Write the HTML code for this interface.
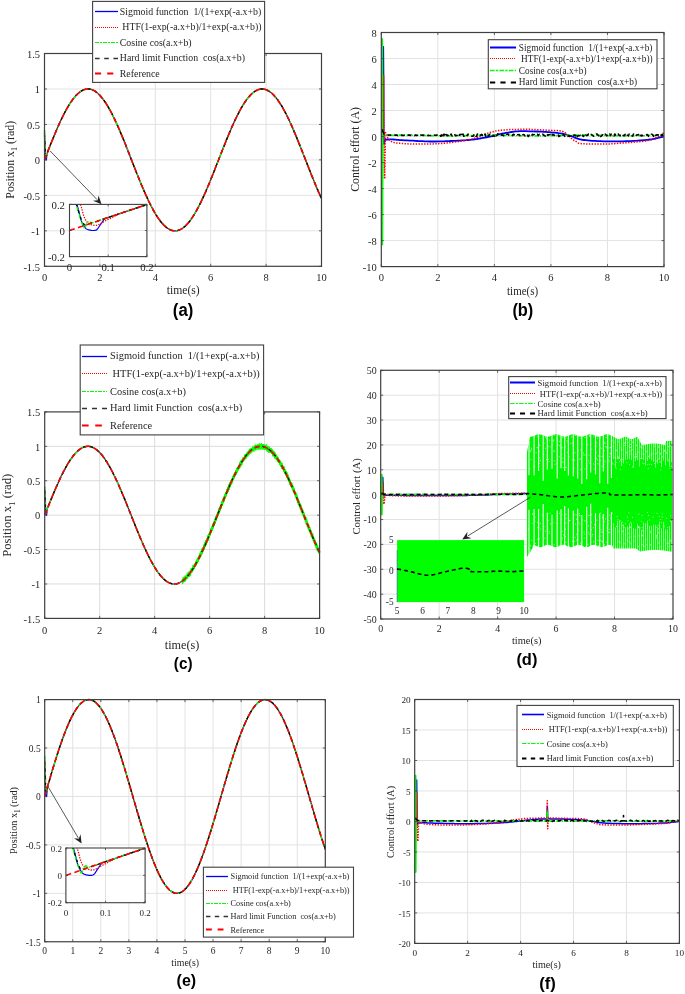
<!DOCTYPE html><html><head><meta charset="utf-8"><style>html,body{margin:0;padding:0;background:#fff;overflow:hidden}svg{display:block;will-change:transform;filter:blur(0.3px)}</style></head><body><svg width="685" height="994" viewBox="0 0 685 994" xml:space="preserve" style="white-space:pre">
<rect width="685" height="994" fill="#fff"/>
<defs><clipPath id="ca"><rect x="41.50" y="50.50" width="283.00" height="218.80"/></clipPath><clipPath id="cai"><rect x="69.50" y="204.40" width="77.40" height="52.20"/></clipPath><clipPath id="cb"><rect x="378.30" y="29.50" width="288.70" height="240.10"/></clipPath><clipPath id="cc"><rect x="41.70" y="408.90" width="280.90" height="212.50"/></clipPath><clipPath id="cd"><rect x="377.70" y="367.30" width="298.30" height="254.70"/></clipPath><clipPath id="cdi"><rect x="397.10" y="540.10" width="127.00" height="62.00"/></clipPath><clipPath id="ce"><rect x="41.70" y="696.60" width="286.60" height="248.15"/></clipPath><clipPath id="cei"><rect x="65.90" y="848.00" width="79.20" height="54.70"/></clipPath><clipPath id="cf"><rect x="411.70" y="696.50" width="270.70" height="249.90"/></clipPath></defs>
<path d="M99.90 53.50V266.30M155.30 53.50V266.30M210.70 53.50V266.30M266.10 53.50V266.30M44.50 230.83H321.50M44.50 195.37H321.50M44.50 159.90H321.50M44.50 124.43H321.50M44.50 88.97H321.50" stroke="#e2e2e2" stroke-width="1.00" fill="none"/>
<path d="M44.5 136.5 L44.6 137.5 L44.6 138.9 L44.7 140.6 L44.8 142.4 L44.9 144.1 L45.0 145.7 L45.1 147.2 L45.1 148.8 L45.2 150.3 L45.2 151.7 L45.3 153.1 L45.3 154.2 L45.4 155.2 L45.4 156.1 L45.5 156.8 L45.5 157.5 L45.6 158.0 L45.6 158.5 L45.7 158.9 L45.7 159.1 L45.8 159.3 L45.8 159.4 L45.9 159.5 L45.9 159.7 L46.0 159.8 L46.1 159.8 L46.1 159.9 L46.2 159.9 L46.3 159.9 L46.3 159.8 L46.4 159.7 L46.4 159.6 L46.5 159.3 L46.5 159.0 L46.5 158.6 L46.6 158.2 L46.6 157.7 L46.7 157.2 L46.7 156.7 L46.8 156.2 L46.8 155.6 L46.9 155.0 L46.9 154.4 L47.0 153.9 L47.0 153.5 L47.1 153.2 L47.1 153.1 L47.2 153.0 L47.2 152.9 L47.3 152.8 L48.2 150.5 L49.1 148.2 L50.0 145.9 L50.9 143.6 L51.8 141.3 L52.8 139.1 L53.7 136.8 L54.6 134.6 L55.5 132.5 L56.4 130.3 L57.3 128.2 L58.2 126.1 L59.2 124.1 L60.1 122.1 L61.0 120.1 L61.9 118.2 L62.8 116.4 L63.7 114.5 L64.6 112.8 L65.6 111.0 L66.5 109.4 L67.4 107.7 L68.3 106.2 L69.2 104.7 L70.1 103.3 L71.0 101.9 L72.0 100.6 L72.9 99.3 L73.8 98.1 L74.7 97.0 L75.6 96.0 L76.5 95.0 L77.4 94.1 L78.3 93.2 L79.3 92.5 L80.2 91.8 L81.1 91.2 L82.0 90.6 L82.9 90.2 L83.8 89.8 L84.7 89.5 L85.7 89.2 L86.6 89.1 L87.5 89.0 L88.4 89.0 L89.3 89.0 L90.2 89.2 L91.1 89.4 L92.1 89.7 L93.0 90.1 L93.9 90.6 L94.8 91.1 L95.7 91.7 L96.6 92.4 L97.5 93.1 L98.5 94.0 L99.4 94.9 L100.3 95.8 L101.2 96.9 L102.1 98.0 L103.0 99.1 L103.9 100.4 L104.9 101.7 L105.8 103.1 L106.7 104.5 L107.6 106.0 L108.5 107.5 L109.4 109.1 L110.3 110.8 L111.3 112.5 L112.2 114.3 L113.1 116.1 L114.0 118.0 L114.9 119.9 L115.8 121.8 L116.7 123.8 L117.7 125.9 L118.6 127.9 L119.5 130.0 L120.4 132.2 L121.3 134.3 L122.2 136.5 L123.1 138.8 L124.1 141.0 L125.0 143.3 L125.9 145.6 L126.8 147.9 L127.7 150.2 L128.6 152.5 L129.5 154.8 L130.5 157.2 L131.4 159.5 L132.3 161.8 L133.2 164.2 L134.1 166.5 L135.0 168.8 L135.9 171.2 L136.9 173.5 L137.8 175.8 L138.7 178.0 L139.6 180.3 L140.5 182.5 L141.4 184.7 L142.3 186.9 L143.3 189.0 L144.2 191.2 L145.1 193.2 L146.0 195.3 L146.9 197.3 L147.8 199.3 L148.7 201.2 L149.6 203.1 L150.6 204.9 L151.5 206.7 L152.4 208.4 L153.3 210.1 L154.2 211.7 L155.1 213.3 L156.0 214.8 L157.0 216.3 L157.9 217.7 L158.8 219.0 L159.7 220.2 L160.6 221.4 L161.5 222.6 L162.4 223.6 L163.4 224.6 L164.3 225.6 L165.2 226.4 L166.1 227.2 L167.0 227.9 L167.9 228.5 L168.8 229.1 L169.8 229.6 L170.7 230.0 L171.6 230.3 L172.5 230.5 L173.4 230.7 L174.3 230.8 L175.2 230.8 L176.2 230.8 L177.1 230.6 L178.0 230.4 L178.9 230.1 L179.8 229.8 L180.7 229.3 L181.6 228.8 L182.6 228.2 L183.5 227.6 L184.4 226.8 L185.3 226.0 L186.2 225.1 L187.1 224.2 L188.0 223.2 L189.0 222.1 L189.9 220.9 L190.8 219.7 L191.7 218.4 L192.6 217.0 L193.5 215.6 L194.4 214.1 L195.4 212.6 L196.3 211.0 L197.2 209.3 L198.1 207.6 L199.0 205.9 L199.9 204.1 L200.8 202.2 L201.8 200.3 L202.7 198.4 L203.6 196.4 L204.5 194.4 L205.4 192.3 L206.3 190.2 L207.2 188.1 L208.2 185.9 L209.1 183.7 L210.0 181.5 L210.9 179.2 L211.8 177.0 L212.7 174.7 L213.6 172.4 L214.6 170.1 L215.5 167.8 L216.4 165.4 L217.3 163.1 L218.2 160.8 L219.1 158.4 L220.0 156.1 L220.9 153.7 L221.9 151.4 L222.8 149.1 L223.7 146.8 L224.6 144.5 L225.5 142.2 L226.4 140.0 L227.3 137.7 L228.3 135.5 L229.2 133.3 L230.1 131.2 L231.0 129.1 L231.9 127.0 L232.8 124.9 L233.7 122.9 L234.7 120.9 L235.6 119.0 L236.5 117.1 L237.4 115.3 L238.3 113.5 L239.2 111.7 L240.1 110.0 L241.1 108.4 L242.0 106.8 L242.9 105.3 L243.8 103.8 L244.7 102.4 L245.6 101.1 L246.5 99.8 L247.5 98.6 L248.4 97.4 L249.3 96.4 L250.2 95.4 L251.1 94.4 L252.0 93.6 L252.9 92.8 L253.9 92.1 L254.8 91.4 L255.7 90.8 L256.6 90.3 L257.5 89.9 L258.4 89.6 L259.3 89.3 L260.3 89.1 L261.2 89.0 L262.1 89.0 L263.0 89.0 L263.9 89.1 L264.8 89.3 L265.7 89.6 L266.7 89.9 L267.6 90.4 L268.5 90.9 L269.4 91.4 L270.3 92.1 L271.2 92.8 L272.1 93.6 L273.1 94.5 L274.0 95.4 L274.9 96.4 L275.8 97.5 L276.7 98.7 L277.6 99.9 L278.5 101.2 L279.5 102.5 L280.4 103.9 L281.3 105.4 L282.2 106.9 L283.1 108.5 L284.0 110.1 L284.9 111.8 L285.9 113.6 L286.8 115.4 L287.7 117.2 L288.6 119.1 L289.5 121.0 L290.4 123.0 L291.3 125.0 L292.2 127.1 L293.2 129.2 L294.1 131.3 L295.0 133.5 L295.9 135.7 L296.8 137.9 L297.7 140.1 L298.6 142.4 L299.6 144.6 L300.5 146.9 L301.4 149.2 L302.3 151.6 L303.2 153.9 L304.1 156.2 L305.0 158.6 L306.0 160.9 L306.9 163.2 L307.8 165.6 L308.7 167.9 L309.6 170.2 L310.5 172.5 L311.4 174.8 L312.4 177.1 L313.3 179.4 L314.2 181.6 L315.1 183.8 L316.0 186.0 L316.9 188.2 L317.8 190.3 L318.8 192.4 L319.7 194.5 L320.6 196.5 L321.5 198.5" stroke="#0000ff" stroke-width="1.20" fill="none" stroke-linejoin="round" clip-path="url(#ca)"/>
<path d="M44.5 132.9 L44.6 134.4 L44.7 136.5 L44.9 138.9 L45.0 141.5 L45.2 143.8 L45.3 145.7 L45.3 147.2 L45.4 148.4 L45.4 149.5 L45.5 150.4 L45.5 151.3 L45.5 152.1 L45.6 152.9 L45.6 153.5 L45.6 154.1 L45.7 154.6 L45.7 155.0 L45.8 155.4 L45.8 155.8 L45.9 156.1 L45.9 156.4 L46.0 156.6 L46.1 156.8 L46.1 156.9 L46.2 157.0 L46.3 157.1 L46.4 157.1 L46.5 157.1 L46.5 156.9 L46.6 156.7 L46.7 156.4 L46.7 156.1 L46.8 155.7 L46.9 155.3 L47.0 154.9 L47.1 154.5 L47.2 154.1 L47.3 153.6 L47.5 153.2 L47.6 152.7 L47.7 152.4 L47.7 152.1 L47.8 151.8 L47.9 151.6 L47.9 151.4 L47.9 151.2 L48.0 151.1 L48.9 148.7 L49.8 146.4 L50.7 144.2 L51.6 141.9 L52.5 139.6 L53.4 137.4 L54.3 135.2 L55.3 133.0 L56.2 130.9 L57.1 128.8 L58.0 126.7 L58.9 124.7 L59.8 122.6 L60.7 120.7 L61.6 118.8 L62.6 116.9 L63.5 115.0 L64.4 113.3 L65.3 111.5 L66.2 109.8 L67.1 108.2 L68.0 106.6 L68.9 105.1 L69.8 103.7 L70.8 102.3 L71.7 101.0 L72.6 99.7 L73.5 98.5 L74.4 97.4 L75.3 96.3 L76.2 95.3 L77.1 94.4 L78.1 93.5 L79.0 92.7 L79.9 92.0 L80.8 91.4 L81.7 90.8 L82.6 90.3 L83.5 89.9 L84.4 89.6 L85.3 89.3 L86.3 89.1 L87.2 89.0 L88.1 89.0 L89.0 89.0 L89.9 89.1 L90.8 89.3 L91.7 89.6 L92.6 90.0 L93.6 90.4 L94.5 90.9 L95.4 91.5 L96.3 92.1 L97.2 92.8 L98.1 93.6 L99.0 94.5 L99.9 95.4 L100.8 96.4 L101.8 97.5 L102.7 98.7 L103.6 99.9 L104.5 101.2 L105.4 102.5 L106.3 103.9 L107.2 105.4 L108.1 106.9 L109.1 108.5 L110.0 110.1 L110.9 111.8 L111.8 113.5 L112.7 115.3 L113.6 117.2 L114.5 119.1 L115.4 121.0 L116.3 123.0 L117.3 125.0 L118.2 127.0 L119.1 129.1 L120.0 131.2 L120.9 133.4 L121.8 135.6 L122.7 137.8 L123.6 140.0 L124.6 142.2 L125.5 144.5 L126.4 146.8 L127.3 149.1 L128.2 151.4 L129.1 153.7 L130.0 156.1 L130.9 158.4 L131.8 160.7 L132.8 163.1 L133.7 165.4 L134.6 167.7 L135.5 170.0 L136.4 172.3 L137.3 174.6 L138.2 176.9 L139.1 179.2 L140.1 181.4 L141.0 183.6 L141.9 185.8 L142.8 188.0 L143.7 190.1 L144.6 192.2 L145.5 194.2 L146.4 196.3 L147.3 198.3 L148.3 200.2 L149.2 202.1 L150.1 204.0 L151.0 205.8 L151.9 207.5 L152.8 209.2 L153.7 210.9 L154.6 212.5 L155.6 214.0 L156.5 215.5 L157.4 216.9 L158.3 218.3 L159.2 219.6 L160.1 220.8 L161.0 222.0 L161.9 223.1 L162.8 224.1 L163.8 225.0 L164.7 225.9 L165.6 226.7 L166.5 227.5 L167.4 228.2 L168.3 228.8 L169.2 229.3 L170.1 229.7 L171.1 230.1 L172.0 230.4 L172.9 230.6 L173.8 230.8 L174.7 230.8 L175.6 230.8 L176.5 230.7 L177.4 230.6 L178.3 230.3 L179.3 230.0 L180.2 229.6 L181.1 229.1 L182.0 228.6 L182.9 228.0 L183.8 227.3 L184.7 226.5 L185.6 225.7 L186.6 224.8 L187.5 223.8 L188.4 222.8 L189.3 221.6 L190.2 220.5 L191.1 219.2 L192.0 217.9 L192.9 216.5 L193.8 215.1 L194.8 213.6 L195.7 212.0 L196.6 210.4 L197.5 208.8 L198.4 207.0 L199.3 205.3 L200.2 203.5 L201.1 201.6 L202.1 199.7 L203.0 197.7 L203.9 195.7 L204.8 193.7 L205.7 191.6 L206.6 189.5 L207.5 187.4 L208.4 185.2 L209.3 183.0 L210.3 180.8 L211.2 178.6 L212.1 176.3 L213.0 174.0 L213.9 171.7 L214.8 169.4 L215.7 167.1 L216.6 164.8 L217.6 162.4 L218.5 160.1 L219.4 157.8 L220.3 155.4 L221.2 153.1 L222.1 150.8 L223.0 148.5 L223.9 146.2 L224.9 143.9 L225.8 141.6 L226.7 139.4 L227.6 137.2 L228.5 135.0 L229.4 132.8 L230.3 130.6 L231.2 128.5 L232.1 126.5 L233.1 124.4 L234.0 122.4 L234.9 120.5 L235.8 118.5 L236.7 116.7 L237.6 114.8 L238.5 113.1 L239.4 111.3 L240.4 109.7 L241.3 108.0 L242.2 106.5 L243.1 105.0 L244.0 103.5 L244.9 102.1 L245.8 100.8 L246.7 99.5 L247.6 98.4 L248.6 97.2 L249.5 96.2 L250.4 95.2 L251.3 94.3 L252.2 93.4 L253.1 92.6 L254.0 91.9 L254.9 91.3 L255.9 90.7 L256.8 90.3 L257.7 89.9 L258.6 89.5 L259.5 89.3 L260.4 89.1 L261.3 89.0 L262.2 89.0 L263.1 89.0 L264.1 89.2 L265.0 89.4 L265.9 89.6 L266.8 90.0 L267.7 90.4 L268.6 90.9 L269.5 91.5 L270.4 92.2 L271.4 92.9 L272.3 93.7 L273.2 94.6 L274.1 95.6 L275.0 96.6 L275.9 97.7 L276.8 98.8 L277.7 100.0 L278.6 101.3 L279.6 102.7 L280.5 104.1 L281.4 105.5 L282.3 107.1 L283.2 108.7 L284.1 110.3 L285.0 112.0 L285.9 113.7 L286.9 115.5 L287.8 117.4 L288.7 119.3 L289.6 121.2 L290.5 123.2 L291.4 125.2 L292.3 127.3 L293.2 129.4 L294.1 131.5 L295.1 133.6 L296.0 135.8 L296.9 138.0 L297.8 140.3 L298.7 142.5 L299.6 144.8 L300.5 147.1 L301.4 149.4 L302.4 151.7 L303.3 154.0 L304.2 156.3 L305.1 158.7 L306.0 161.0 L306.9 163.3 L307.8 165.7 L308.7 168.0 L309.6 170.3 L310.6 172.6 L311.5 174.9 L312.4 177.2 L313.3 179.4 L314.2 181.7 L315.1 183.9 L316.0 186.1 L316.9 188.2 L317.9 190.3 L318.8 192.4 L319.7 194.5 L320.6 196.5 L321.5 198.5" stroke="#ff0000" stroke-width="1.30" fill="none" stroke-dasharray="1.3 1.3" stroke-linejoin="round" clip-path="url(#ca)"/>
<path d="M44.5 130.1 L44.6 131.9 L44.6 134.4 L44.7 137.4 L44.8 140.5 L44.9 143.3 L45.0 145.7 L45.1 147.6 L45.1 149.2 L45.2 150.7 L45.2 152.0 L45.3 153.1 L45.3 154.2 L45.4 155.3 L45.4 156.2 L45.5 157.1 L45.5 157.7 L45.5 158.3 L45.6 158.6 L45.6 158.3 L45.6 157.8 L45.7 157.3 L45.7 156.8 L45.7 156.4 L45.7 156.0 L45.8 155.7 L45.8 155.5 L45.8 155.2 L45.9 155.0 L45.9 154.9 L45.9 155.0 L46.0 155.2 L46.0 155.4 L46.0 155.6 L46.1 155.6 L46.1 155.7 L46.1 155.6 L46.2 155.6 L46.2 155.5 L47.1 153.2 L48.1 150.8 L49.0 148.5 L49.9 146.2 L50.8 143.9 L51.7 141.6 L52.6 139.4 L53.6 137.1 L54.5 134.9 L55.4 132.7 L56.3 130.6 L57.2 128.4 L58.1 126.4 L59.1 124.3 L60.0 122.3 L60.9 120.3 L61.8 118.4 L62.7 116.5 L63.7 114.7 L64.6 112.9 L65.5 111.2 L66.4 109.5 L67.3 107.8 L68.2 106.3 L69.2 104.8 L70.1 103.3 L71.0 101.9 L71.9 100.6 L72.8 99.4 L73.7 98.2 L74.7 97.0 L75.6 96.0 L76.5 95.0 L77.4 94.1 L78.3 93.3 L79.3 92.5 L80.2 91.8 L81.1 91.2 L82.0 90.6 L82.9 90.2 L83.8 89.8 L84.8 89.5 L85.7 89.2 L86.6 89.1 L87.5 89.0 L88.4 89.0 L89.3 89.0 L90.3 89.2 L91.2 89.4 L92.1 89.7 L93.0 90.1 L93.9 90.6 L94.9 91.1 L95.8 91.7 L96.7 92.4 L97.6 93.2 L98.5 94.0 L99.4 94.9 L100.4 95.9 L101.3 96.9 L102.2 98.1 L103.1 99.2 L104.0 100.5 L104.9 101.8 L105.9 103.2 L106.8 104.6 L107.7 106.1 L108.6 107.7 L109.5 109.3 L110.5 111.0 L111.4 112.7 L112.3 114.5 L113.2 116.3 L114.1 118.2 L115.0 120.1 L116.0 122.1 L116.9 124.1 L117.8 126.2 L118.7 128.2 L119.6 130.4 L120.5 132.5 L121.5 134.7 L122.4 136.9 L123.3 139.1 L124.2 141.4 L125.1 143.7 L126.0 146.0 L127.0 148.3 L127.9 150.6 L128.8 152.9 L129.7 155.3 L130.6 157.6 L131.6 160.0 L132.5 162.3 L133.4 164.7 L134.3 167.0 L135.2 169.4 L136.1 171.7 L137.1 174.0 L138.0 176.3 L138.9 178.6 L139.8 180.8 L140.7 183.1 L141.6 185.3 L142.6 187.4 L143.5 189.6 L144.4 191.7 L145.3 193.8 L146.2 195.8 L147.2 197.8 L148.1 199.8 L149.0 201.7 L149.9 203.6 L150.8 205.4 L151.7 207.2 L152.7 208.9 L153.6 210.6 L154.5 212.2 L155.4 213.8 L156.3 215.3 L157.2 216.7 L158.2 218.1 L159.1 219.4 L160.0 220.6 L160.9 221.8 L161.8 222.9 L162.8 224.0 L163.7 224.9 L164.6 225.9 L165.5 226.7 L166.4 227.4 L167.3 228.1 L168.3 228.7 L169.2 229.3 L170.1 229.7 L171.0 230.1 L171.9 230.4 L172.8 230.6 L173.8 230.8 L174.7 230.8 L175.6 230.8 L176.5 230.7 L177.4 230.6 L178.4 230.3 L179.3 230.0 L180.2 229.6 L181.1 229.1 L182.0 228.6 L182.9 228.0 L183.9 227.3 L184.8 226.5 L185.7 225.6 L186.6 224.7 L187.5 223.7 L188.4 222.7 L189.4 221.5 L190.3 220.4 L191.2 219.1 L192.1 217.8 L193.0 216.4 L194.0 214.9 L194.9 213.4 L195.8 211.8 L196.7 210.2 L197.6 208.5 L198.5 206.8 L199.5 205.0 L200.4 203.2 L201.3 201.3 L202.2 199.3 L203.1 197.4 L204.0 195.4 L205.0 193.3 L205.9 191.2 L206.8 189.1 L207.7 186.9 L208.6 184.7 L209.6 182.5 L210.5 180.3 L211.4 178.0 L212.3 175.7 L213.2 173.4 L214.1 171.1 L215.1 168.8 L216.0 166.5 L216.9 164.1 L217.8 161.8 L218.7 159.4 L219.6 157.1 L220.6 154.7 L221.5 152.4 L222.4 150.1 L223.3 147.7 L224.2 145.4 L225.2 143.1 L226.1 140.9 L227.0 138.6 L227.9 136.4 L228.8 134.2 L229.7 132.0 L230.7 129.9 L231.6 127.7 L232.5 125.7 L233.4 123.6 L234.3 121.6 L235.2 119.7 L236.2 117.8 L237.1 115.9 L238.0 114.1 L238.9 112.3 L239.8 110.6 L240.8 108.9 L241.7 107.3 L242.6 105.8 L243.5 104.3 L244.4 102.9 L245.3 101.5 L246.3 100.2 L247.2 99.0 L248.1 97.8 L249.0 96.7 L249.9 95.7 L250.8 94.7 L251.8 93.8 L252.7 93.0 L253.6 92.2 L254.5 91.6 L255.4 91.0 L256.3 90.5 L257.3 90.0 L258.2 89.7 L259.1 89.4 L260.0 89.2 L260.9 89.0 L261.9 89.0 L262.8 89.0 L263.7 89.1 L264.6 89.3 L265.5 89.5 L266.4 89.9 L267.4 90.3 L268.3 90.7 L269.2 91.3 L270.1 91.9 L271.0 92.7 L271.9 93.4 L272.9 94.3 L273.8 95.2 L274.7 96.2 L275.6 97.3 L276.5 98.4 L277.5 99.6 L278.4 100.9 L279.3 102.3 L280.2 103.7 L281.1 105.1 L282.0 106.6 L283.0 108.2 L283.9 109.9 L284.8 111.6 L285.7 113.3 L286.6 115.1 L287.5 116.9 L288.5 118.8 L289.4 120.8 L290.3 122.8 L291.2 124.8 L292.1 126.8 L293.1 128.9 L294.0 131.1 L294.9 133.2 L295.8 135.4 L296.7 137.6 L297.6 139.9 L298.6 142.1 L299.5 144.4 L300.4 146.7 L301.3 149.0 L302.2 151.4 L303.1 153.7 L304.1 156.1 L305.0 158.4 L305.9 160.8 L306.8 163.1 L307.7 165.4 L308.7 167.8 L309.6 170.1 L310.5 172.4 L311.4 174.7 L312.3 177.0 L313.2 179.3 L314.2 181.6 L315.1 183.8 L316.0 186.0 L316.9 188.1 L317.8 190.3 L318.7 192.4 L319.7 194.5 L320.6 196.5 L321.5 198.5" stroke="#00ff00" stroke-width="1.50" fill="none" stroke-dasharray="4 1.5 1 1.5" stroke-linejoin="round" clip-path="url(#ca)"/>
<path d="M44.5 134.4 L44.6 135.6 L44.6 137.4 L44.7 139.6 L44.8 141.8 L44.9 143.9 L45.0 145.7 L45.1 147.3 L45.1 148.8 L45.2 150.1 L45.2 151.4 L45.3 152.5 L45.3 153.5 L45.4 154.3 L45.4 155.0 L45.5 155.6 L45.5 156.0 L45.5 156.3 L45.6 156.6 L45.6 156.8 L45.6 156.9 L45.7 156.9 L45.7 156.8 L45.7 156.7 L46.7 154.4 L47.6 152.0 L48.5 149.7 L49.4 147.4 L50.3 145.0 L51.3 142.8 L52.2 140.5 L53.1 138.2 L54.0 136.0 L54.9 133.8 L55.9 131.6 L56.8 129.5 L57.7 127.4 L58.6 125.3 L59.5 123.3 L60.5 121.3 L61.4 119.3 L62.3 117.4 L63.2 115.5 L64.1 113.7 L65.0 112.0 L66.0 110.3 L66.9 108.6 L67.8 107.0 L68.7 105.5 L69.6 104.0 L70.6 102.6 L71.5 101.2 L72.4 99.9 L73.3 98.7 L74.2 97.6 L75.2 96.5 L76.1 95.4 L77.0 94.5 L77.9 93.6 L78.8 92.8 L79.8 92.1 L80.7 91.4 L81.6 90.9 L82.5 90.4 L83.4 89.9 L84.4 89.6 L85.3 89.3 L86.2 89.1 L87.1 89.0 L88.0 89.0 L88.9 89.0 L89.9 89.1 L90.8 89.3 L91.7 89.6 L92.6 89.9 L93.5 90.4 L94.5 90.9 L95.4 91.5 L96.3 92.1 L97.2 92.9 L98.1 93.7 L99.1 94.5 L100.0 95.5 L100.9 96.5 L101.8 97.6 L102.7 98.8 L103.7 100.0 L104.6 101.3 L105.5 102.6 L106.4 104.1 L107.3 105.5 L108.3 107.1 L109.2 108.7 L110.1 110.3 L111.0 112.0 L111.9 113.8 L112.8 115.6 L113.8 117.5 L114.7 119.4 L115.6 121.3 L116.5 123.3 L117.4 125.4 L118.4 127.5 L119.3 129.6 L120.2 131.7 L121.1 133.9 L122.0 136.1 L123.0 138.3 L123.9 140.6 L124.8 142.8 L125.7 145.1 L126.6 147.4 L127.6 149.8 L128.5 152.1 L129.4 154.4 L130.3 156.8 L131.2 159.2 L132.1 161.5 L133.1 163.9 L134.0 166.2 L134.9 168.5 L135.8 170.9 L136.7 173.2 L137.7 175.5 L138.6 177.8 L139.5 180.1 L140.4 182.3 L141.3 184.5 L142.3 186.7 L143.2 188.9 L144.1 191.0 L145.0 193.1 L145.9 195.2 L146.9 197.2 L147.8 199.2 L148.7 201.1 L149.6 203.0 L150.5 204.8 L151.5 206.6 L152.4 208.4 L153.3 210.1 L154.2 211.7 L155.1 213.3 L156.0 214.8 L157.0 216.3 L157.9 217.7 L158.8 219.0 L159.7 220.3 L160.6 221.5 L161.6 222.6 L162.5 223.7 L163.4 224.7 L164.3 225.6 L165.2 226.4 L166.2 227.2 L167.1 227.9 L168.0 228.6 L168.9 229.1 L169.8 229.6 L170.8 230.0 L171.7 230.3 L172.6 230.6 L173.5 230.7 L174.4 230.8 L175.4 230.8 L176.3 230.8 L177.2 230.6 L178.1 230.4 L179.0 230.1 L179.9 229.7 L180.9 229.3 L181.8 228.7 L182.7 228.1 L183.6 227.4 L184.5 226.7 L185.5 225.9 L186.4 225.0 L187.3 224.0 L188.2 222.9 L189.1 221.8 L190.1 220.7 L191.0 219.4 L191.9 218.1 L192.8 216.7 L193.7 215.3 L194.7 213.8 L195.6 212.2 L196.5 210.6 L197.4 208.9 L198.3 207.2 L199.2 205.4 L200.2 203.6 L201.1 201.7 L202.0 199.8 L202.9 197.8 L203.8 195.8 L204.8 193.7 L205.7 191.7 L206.6 189.5 L207.5 187.4 L208.4 185.2 L209.4 183.0 L210.3 180.8 L211.2 178.5 L212.1 176.2 L213.0 173.9 L214.0 171.6 L214.9 169.3 L215.8 166.9 L216.7 164.6 L217.6 162.2 L218.6 159.9 L219.5 157.5 L220.4 155.2 L221.3 152.8 L222.2 150.5 L223.1 148.2 L224.1 145.9 L225.0 143.6 L225.9 141.3 L226.8 139.0 L227.7 136.8 L228.7 134.6 L229.6 132.4 L230.5 130.2 L231.4 128.1 L232.3 126.0 L233.3 124.0 L234.2 122.0 L235.1 120.0 L236.0 118.1 L236.9 116.2 L237.9 114.4 L238.8 112.6 L239.7 110.9 L240.6 109.2 L241.5 107.6 L242.5 106.0 L243.4 104.5 L244.3 103.1 L245.2 101.7 L246.1 100.4 L247.0 99.1 L248.0 97.9 L248.9 96.8 L249.8 95.8 L250.7 94.8 L251.6 93.9 L252.6 93.1 L253.5 92.3 L254.4 91.7 L255.3 91.1 L256.2 90.5 L257.2 90.1 L258.1 89.7 L259.0 89.4 L259.9 89.2 L260.8 89.0 L261.8 89.0 L262.7 89.0 L263.6 89.1 L264.5 89.2 L265.4 89.5 L266.3 89.8 L267.3 90.2 L268.2 90.7 L269.1 91.3 L270.0 91.9 L270.9 92.6 L271.9 93.4 L272.8 94.2 L273.7 95.1 L274.6 96.1 L275.5 97.2 L276.5 98.3 L277.4 99.5 L278.3 100.8 L279.2 102.2 L280.1 103.6 L281.1 105.0 L282.0 106.5 L282.9 108.1 L283.8 109.7 L284.7 111.4 L285.7 113.2 L286.6 115.0 L287.5 116.8 L288.4 118.7 L289.3 120.7 L290.2 122.6 L291.2 124.7 L292.1 126.7 L293.0 128.8 L293.9 131.0 L294.8 133.1 L295.8 135.3 L296.7 137.5 L297.6 139.8 L298.5 142.1 L299.4 144.3 L300.4 146.6 L301.3 149.0 L302.2 151.3 L303.1 153.6 L304.0 156.0 L305.0 158.3 L305.9 160.7 L306.8 163.0 L307.7 165.4 L308.6 167.7 L309.6 170.1 L310.5 172.4 L311.4 174.7 L312.3 177.0 L313.2 179.3 L314.1 181.5 L315.1 183.8 L316.0 186.0 L316.9 188.1 L317.8 190.3 L318.7 192.4 L319.7 194.5 L320.6 196.5 L321.5 198.5" stroke="#000000" stroke-width="1.30" fill="none" stroke-dasharray="3 4" stroke-linejoin="round" clip-path="url(#ca)"/>
<path d="M44.5 159.9 L45.4 157.5 L46.3 155.2 L47.3 152.8 L48.2 150.5 L49.1 148.1 L50.0 145.8 L51.0 143.5 L51.9 141.2 L52.8 138.9 L53.7 136.7 L54.7 134.5 L55.6 132.3 L56.5 130.1 L57.4 128.0 L58.4 125.9 L59.3 123.8 L60.2 121.8 L61.1 119.8 L62.0 117.9 L63.0 116.0 L63.9 114.2 L64.8 112.4 L65.7 110.7 L66.7 109.0 L67.6 107.4 L68.5 105.8 L69.4 104.3 L70.4 102.9 L71.3 101.5 L72.2 100.2 L73.1 99.0 L74.0 97.8 L75.0 96.7 L75.9 95.6 L76.8 94.7 L77.7 93.8 L78.7 93.0 L79.6 92.2 L80.5 91.6 L81.4 91.0 L82.4 90.4 L83.3 90.0 L84.2 89.6 L85.1 89.4 L86.0 89.1 L87.0 89.0 L87.9 89.0 L88.8 89.0 L89.7 89.1 L90.7 89.3 L91.6 89.6 L92.5 89.9 L93.4 90.3 L94.4 90.8 L95.3 91.4 L96.2 92.0 L97.1 92.8 L98.1 93.6 L99.0 94.5 L99.9 95.4 L100.8 96.4 L101.7 97.5 L102.7 98.7 L103.6 99.9 L104.5 101.2 L105.4 102.6 L106.4 104.0 L107.3 105.5 L108.2 107.0 L109.1 108.6 L110.1 110.3 L111.0 112.0 L111.9 113.8 L112.8 115.6 L113.8 117.4 L114.7 119.4 L115.6 121.3 L116.5 123.3 L117.4 125.4 L118.4 127.5 L119.3 129.6 L120.2 131.7 L121.1 133.9 L122.1 136.1 L123.0 138.4 L123.9 140.6 L124.8 142.9 L125.8 145.2 L126.7 147.6 L127.6 149.9 L128.5 152.2 L129.4 154.6 L130.4 157.0 L131.3 159.3 L132.2 161.7 L133.1 164.0 L134.1 166.4 L135.0 168.7 L135.9 171.1 L136.8 173.4 L137.8 175.7 L138.7 178.0 L139.6 180.3 L140.5 182.6 L141.4 184.8 L142.4 187.0 L143.3 189.2 L144.2 191.3 L145.1 193.4 L146.1 195.5 L147.0 197.5 L147.9 199.5 L148.8 201.4 L149.8 203.3 L150.7 205.1 L151.6 206.9 L152.5 208.7 L153.5 210.4 L154.4 212.0 L155.3 213.6 L156.2 215.1 L157.1 216.6 L158.1 217.9 L159.0 219.3 L159.9 220.5 L160.8 221.7 L161.8 222.8 L162.7 223.9 L163.6 224.9 L164.5 225.8 L165.5 226.6 L166.4 227.4 L167.3 228.1 L168.2 228.7 L169.2 229.2 L170.1 229.7 L171.0 230.1 L171.9 230.4 L172.8 230.6 L173.8 230.8 L174.7 230.8 L175.6 230.8 L176.5 230.7 L177.5 230.6 L178.4 230.3 L179.3 230.0 L180.2 229.6 L181.2 229.1 L182.1 228.6 L183.0 227.9 L183.9 227.2 L184.8 226.4 L185.8 225.6 L186.7 224.6 L187.6 223.6 L188.5 222.6 L189.5 221.4 L190.4 220.2 L191.3 218.9 L192.2 217.6 L193.2 216.2 L194.1 214.7 L195.0 213.2 L195.9 211.6 L196.9 209.9 L197.8 208.2 L198.7 206.5 L199.6 204.7 L200.5 202.8 L201.5 200.9 L202.4 199.0 L203.3 197.0 L204.2 194.9 L205.2 192.9 L206.1 190.7 L207.0 188.6 L207.9 186.4 L208.9 184.2 L209.8 182.0 L210.7 179.7 L211.6 177.4 L212.5 175.1 L213.5 172.8 L214.4 170.5 L215.3 168.1 L216.2 165.8 L217.2 163.4 L218.1 161.1 L219.0 158.7 L219.9 156.3 L220.9 154.0 L221.8 151.6 L222.7 149.3 L223.6 147.0 L224.6 144.6 L225.5 142.3 L226.4 140.1 L227.3 137.8 L228.2 135.6 L229.2 133.4 L230.1 131.2 L231.0 129.0 L231.9 126.9 L232.9 124.9 L233.8 122.8 L234.7 120.8 L235.6 118.9 L236.6 117.0 L237.5 115.1 L238.4 113.3 L239.3 111.5 L240.2 109.8 L241.2 108.2 L242.1 106.6 L243.0 105.1 L243.9 103.6 L244.9 102.2 L245.8 100.9 L246.7 99.6 L247.6 98.4 L248.6 97.2 L249.5 96.2 L250.4 95.2 L251.3 94.2 L252.2 93.4 L253.2 92.6 L254.1 91.9 L255.0 91.2 L255.9 90.7 L256.9 90.2 L257.8 89.8 L258.7 89.5 L259.6 89.2 L260.6 89.1 L261.5 89.0 L262.4 89.0 L263.3 89.0 L264.3 89.2 L265.2 89.4 L266.1 89.7 L267.0 90.1 L267.9 90.6 L268.9 91.1 L269.8 91.7 L270.7 92.4 L271.6 93.2 L272.6 94.0 L273.5 94.9 L274.4 95.9 L275.3 97.0 L276.3 98.1 L277.2 99.3 L278.1 100.5 L279.0 101.9 L279.9 103.3 L280.9 104.7 L281.8 106.2 L282.7 107.8 L283.6 109.4 L284.6 111.1 L285.5 112.9 L286.4 114.7 L287.3 116.5 L288.3 118.4 L289.2 120.4 L290.1 122.3 L291.0 124.4 L292.0 126.4 L292.9 128.5 L293.8 130.7 L294.7 132.8 L295.6 135.0 L296.6 137.3 L297.5 139.5 L298.4 141.8 L299.3 144.1 L300.3 146.4 L301.2 148.7 L302.1 151.1 L303.0 153.4 L304.0 155.8 L304.9 158.1 L305.8 160.5 L306.7 162.9 L307.6 165.2 L308.6 167.6 L309.5 169.9 L310.4 172.3 L311.3 174.6 L312.3 176.9 L313.2 179.2 L314.1 181.4 L315.0 183.7 L316.0 185.9 L316.9 188.1 L317.8 190.2 L318.7 192.4 L319.7 194.4 L320.6 196.5 L321.5 198.5" stroke="#ff0000" stroke-width="1.60" fill="none" stroke-dasharray="5.5 3.5" stroke-linejoin="round" clip-path="url(#ca)"/>
<path d="M44.50 266.30v-2.50M44.50 53.50v2.50M99.90 266.30v-2.50M99.90 53.50v2.50M155.30 266.30v-2.50M155.30 53.50v2.50M210.70 266.30v-2.50M210.70 53.50v2.50M266.10 266.30v-2.50M266.10 53.50v2.50M321.50 266.30v-2.50M321.50 53.50v2.50M44.50 266.30h2.50M321.50 266.30h-2.50M44.50 230.83h2.50M321.50 230.83h-2.50M44.50 195.37h2.50M321.50 195.37h-2.50M44.50 159.90h2.50M321.50 159.90h-2.50M44.50 124.43h2.50M321.50 124.43h-2.50M44.50 88.97h2.50M321.50 88.97h-2.50M44.50 53.50h2.50M321.50 53.50h-2.50" stroke="#404040" stroke-width="0.8" fill="none"/>
<rect x="44.50" y="53.50" width="277.00" height="212.80" fill="none" stroke="#404040" stroke-width="1.20"/>
<text x="44.50" y="280.80" font-size="10.50" text-anchor="middle" fill="#262626" font-family='"Liberation Serif", serif' font-weight="normal">0</text>
<text x="99.90" y="280.80" font-size="10.50" text-anchor="middle" fill="#262626" font-family='"Liberation Serif", serif' font-weight="normal">2</text>
<text x="155.30" y="280.80" font-size="10.50" text-anchor="middle" fill="#262626" font-family='"Liberation Serif", serif' font-weight="normal">4</text>
<text x="210.70" y="280.80" font-size="10.50" text-anchor="middle" fill="#262626" font-family='"Liberation Serif", serif' font-weight="normal">6</text>
<text x="266.10" y="280.80" font-size="10.50" text-anchor="middle" fill="#262626" font-family='"Liberation Serif", serif' font-weight="normal">8</text>
<text x="321.50" y="280.80" font-size="10.50" text-anchor="middle" fill="#262626" font-family='"Liberation Serif", serif' font-weight="normal">10</text>
<text x="40.00" y="270.50" font-size="10.50" text-anchor="end" fill="#262626" font-family='"Liberation Serif", serif' font-weight="normal">-1.5</text>
<text x="40.00" y="235.03" font-size="10.50" text-anchor="end" fill="#262626" font-family='"Liberation Serif", serif' font-weight="normal">-1</text>
<text x="40.00" y="199.57" font-size="10.50" text-anchor="end" fill="#262626" font-family='"Liberation Serif", serif' font-weight="normal">-0.5</text>
<text x="40.00" y="164.10" font-size="10.50" text-anchor="end" fill="#262626" font-family='"Liberation Serif", serif' font-weight="normal">0</text>
<text x="40.00" y="128.63" font-size="10.50" text-anchor="end" fill="#262626" font-family='"Liberation Serif", serif' font-weight="normal">0.5</text>
<text x="40.00" y="93.17" font-size="10.50" text-anchor="end" fill="#262626" font-family='"Liberation Serif", serif' font-weight="normal">1</text>
<text x="40.00" y="57.70" font-size="10.50" text-anchor="end" fill="#262626" font-family='"Liberation Serif", serif' font-weight="normal">1.5</text>
<text x="183.20" y="294.30" font-size="12.00" text-anchor="middle" fill="#262626" font-family='"Liberation Serif", serif' font-weight="normal" textLength="33.00" lengthAdjust="spacingAndGlyphs">time(s)</text>
<text transform="translate(13.50,159.80) rotate(-90)" font-size="12.00" text-anchor="middle" fill="#262626" font-family='"Liberation Serif", serif' textLength="77.80" lengthAdjust="spacingAndGlyphs">Position x<tspan font-size="8.40" dy="3.60">1</tspan><tspan dy="-3.60"> (rad)</tspan></text>
<rect x="92.60" y="1.40" width="172.00" height="81.00" fill="#fff" stroke="#404040" stroke-width="1.1"/>
<line x1="95.00" y1="11.50" x2="118.00" y2="11.50" stroke="#0000ff" stroke-width="1.30"/>
<text x="119.80" y="14.60" font-size="10.00" text-anchor="start" fill="#262626" font-family='"Liberation Serif", serif' font-weight="normal" textLength="141.40" lengthAdjust="spacingAndGlyphs">Sigmoid function  1/(1+exp(-a.x+b)</text>
<line x1="95.00" y1="27.50" x2="118.00" y2="27.50" stroke="#ff0000" stroke-width="1.00" stroke-dasharray="1 1"/>
<text x="119.80" y="30.30" font-size="10.00" text-anchor="start" fill="#262626" font-family='"Liberation Serif", serif' font-weight="normal" textLength="141.73" lengthAdjust="spacingAndGlyphs"> HTF(1-exp(-a.x+b)/1+exp(-a.x+b))</text>
<line x1="95.00" y1="42.50" x2="118.00" y2="42.50" stroke="#00ff00" stroke-width="1.10" stroke-dasharray="4 1 2 1"/>
<text x="119.80" y="46.00" font-size="10.00" text-anchor="start" fill="#262626" font-family='"Liberation Serif", serif' font-weight="normal" textLength="71.80" lengthAdjust="spacingAndGlyphs">Cosine cos(a.x+b)</text>
<line x1="95.00" y1="58.50" x2="118.00" y2="58.50" stroke="#333" stroke-width="1.50" stroke-dasharray="4.60"/>
<text x="119.80" y="61.30" font-size="10.00" text-anchor="start" fill="#262626" font-family='"Liberation Serif", serif' font-weight="normal" textLength="125.17" lengthAdjust="spacingAndGlyphs">Hard limit Function  cos(a.x+b)</text>
<line x1="95.00" y1="73.50" x2="118.00" y2="73.50" stroke="#ff0000" stroke-width="2.20" stroke-dasharray="6.10"/>
<text x="119.80" y="77.00" font-size="10.00" text-anchor="start" fill="#262626" font-family='"Liberation Serif", serif' font-weight="normal" textLength="39.94" lengthAdjust="spacingAndGlyphs">Reference</text>
<rect x="69.50" y="204.40" width="77.40" height="52.20" fill="#fff"/>
<path d="M108.20 204.40V256.60M69.50 230.50H146.90" stroke="#e2e2e2" stroke-width="1.00" fill="none"/>
<path d="M69.5 187.4 L70.3 189.3 L71.5 191.9 L72.9 194.9 L74.4 198.2 L75.7 201.5 L76.9 204.4 L77.7 207.2 L78.5 210.0 L79.2 212.8 L79.8 215.5 L80.4 217.9 L81.1 220.1 L81.8 221.9 L82.6 223.5 L83.3 224.8 L84.0 226.0 L84.7 227.0 L85.4 227.9 L86.0 228.6 L86.5 229.0 L87.1 229.3 L87.6 229.5 L88.2 229.7 L88.8 229.8 L89.6 230.1 L90.4 230.2 L91.2 230.4 L92.0 230.5 L92.8 230.5 L93.5 230.5 L94.1 230.5 L94.7 230.4 L95.3 230.3 L95.9 230.1 L96.4 229.9 L97.0 229.5 L97.5 228.9 L98.1 228.2 L98.7 227.3 L99.2 226.5 L99.8 225.5 L100.5 224.6 L101.1 223.7 L101.9 222.6 L102.6 221.5 L103.3 220.4 L104.0 219.5 L104.7 218.8 L105.4 218.3 L106.1 217.9 L106.7 217.7 L107.3 217.6 L107.8 217.6 L108.2 217.5 L108.8 217.3 L109.5 217.0 L110.1 216.8 L110.8 216.6 L111.4 216.4 L112.1 216.2 L112.7 216.0 L113.4 215.7 L114.0 215.5 L114.7 215.3 L115.3 215.1 L115.9 214.9 L116.6 214.7 L117.2 214.4 L117.9 214.2 L118.5 214.0 L119.2 213.8 L119.8 213.6 L120.5 213.4 L121.1 213.2 L121.7 212.9 L122.4 212.7 L123.0 212.5 L123.7 212.3 L124.3 212.1 L125.0 211.9 L125.6 211.6 L126.3 211.4 L126.9 211.2 L127.6 211.0 L128.2 210.8 L128.8 210.6 L129.5 210.4 L130.1 210.1 L130.8 209.9 L131.4 209.7 L132.1 209.5 L132.7 209.3 L133.4 209.1 L134.0 208.9 L134.6 208.6 L135.3 208.4 L135.9 208.2 L136.6 208.0 L137.2 207.8 L137.9 207.6 L138.5 207.4 L139.2 207.1 L139.8 206.9 L140.5 206.7 L141.1 206.5 L141.7 206.3 L142.4 206.1 L143.0 205.9 L143.7 205.6 L144.3 205.4 L145.0 205.2 L145.6 205.0 L146.3 204.8 L146.9 204.6" stroke="#0000ff" stroke-width="1.20" fill="none" stroke-linejoin="round" clip-path="url(#cai)"/>
<path d="M69.5 180.9 L70.8 183.6 L72.6 187.4 L74.7 191.9 L76.9 196.6 L78.8 200.9 L80.3 204.4 L81.3 207.1 L82.0 209.4 L82.5 211.4 L82.9 213.1 L83.3 214.6 L83.8 216.1 L84.4 217.5 L84.9 218.7 L85.5 219.8 L86.0 220.7 L86.6 221.5 L87.3 222.3 L88.0 223.0 L88.8 223.5 L89.7 224.0 L90.6 224.4 L91.5 224.8 L92.3 225.0 L93.2 225.2 L94.1 225.4 L94.9 225.4 L95.8 225.4 L96.8 225.3 L97.8 225.0 L98.7 224.6 L99.8 224.1 L100.8 223.5 L101.9 222.8 L103.1 222.1 L104.3 221.4 L105.8 220.6 L107.4 219.8 L109.1 218.9 L110.8 218.1 L112.3 217.3 L113.6 216.7 L114.7 216.1 L115.6 215.6 L116.3 215.2 L117.0 214.8 L117.5 214.5 L117.9 214.2 L118.4 214.1 L118.8 213.9 L119.3 213.7 L119.8 213.6 L120.3 213.4 L120.8 213.3 L121.3 213.1 L121.7 212.9 L122.2 212.8 L122.7 212.6 L123.2 212.5 L123.7 212.3 L124.2 212.1 L124.6 212.0 L125.1 211.8 L125.6 211.6 L126.1 211.5 L126.6 211.3 L127.1 211.2 L127.5 211.0 L128.0 210.8 L128.5 210.7 L129.0 210.5 L129.5 210.4 L130.0 210.2 L130.5 210.0 L130.9 209.9 L131.4 209.7 L131.9 209.5 L132.4 209.4 L132.9 209.2 L133.4 209.1 L133.8 208.9 L134.3 208.7 L134.8 208.6 L135.3 208.4 L135.8 208.3 L136.3 208.1 L136.7 207.9 L137.2 207.8 L137.7 207.6 L138.2 207.5 L138.7 207.3 L139.2 207.1 L139.6 207.0 L140.1 206.8 L140.6 206.7 L141.1 206.5 L141.6 206.3 L142.1 206.2 L142.5 206.0 L143.0 205.9 L143.5 205.7 L144.0 205.5 L144.5 205.4 L145.0 205.2 L145.4 205.1 L145.9 204.9 L146.4 204.7 L146.9 204.6" stroke="#ff0000" stroke-width="1.30" fill="none" stroke-dasharray="1.3 1.3" stroke-linejoin="round" clip-path="url(#cai)"/>
<path d="M69.5 175.7 L70.3 179.0 L71.3 183.6 L72.6 189.1 L73.9 194.7 L75.2 200.0 L76.3 204.4 L77.2 207.9 L78.1 210.9 L78.9 213.5 L79.7 215.9 L80.4 218.0 L81.1 220.1 L81.7 222.0 L82.3 223.7 L82.8 225.3 L83.3 226.5 L83.8 227.5 L84.2 228.0 L84.6 228.0 L85.0 227.5 L85.4 226.7 L85.8 225.7 L86.1 224.7 L86.5 224.0 L86.9 223.4 L87.3 222.9 L87.7 222.3 L88.1 221.9 L88.5 221.6 L88.8 221.4 L89.2 221.4 L89.6 221.6 L90.0 221.9 L90.4 222.2 L90.8 222.5 L91.2 222.7 L91.6 222.7 L92.0 222.7 L92.5 222.6 L92.9 222.5 L93.2 222.5 L93.5 222.4 L94.4 222.1 L95.3 221.8 L96.2 221.5 L97.1 221.2 L97.9 220.9 L98.8 220.6 L99.7 220.3 L100.6 220.0 L101.5 219.7 L102.4 219.4 L103.3 219.1 L104.2 218.8 L105.1 218.5 L106.0 218.2 L106.8 217.9 L107.7 217.6 L108.6 217.3 L109.5 217.0 L110.4 216.7 L111.3 216.4 L112.2 216.1 L113.1 215.8 L114.0 215.5 L114.9 215.2 L115.7 214.9 L116.6 214.6 L117.5 214.3 L118.4 214.0 L119.3 213.8 L120.2 213.5 L121.1 213.2 L122.0 212.9 L122.9 212.6 L123.8 212.3 L124.6 212.0 L125.5 211.7 L126.4 211.4 L127.3 211.1 L128.2 210.8 L129.1 210.5 L130.0 210.2 L130.9 209.9 L131.8 209.6 L132.7 209.3 L133.5 209.0 L134.4 208.7 L135.3 208.4 L136.2 208.1 L137.1 207.8 L138.0 207.5 L138.9 207.2 L139.8 206.9 L140.7 206.6 L141.6 206.3 L142.4 206.0 L143.3 205.8 L144.2 205.5 L145.1 205.2 L146.0 204.9 L146.9 204.6" stroke="#00ff00" stroke-width="1.50" fill="none" stroke-dasharray="4 1.5 1 1.5" stroke-linejoin="round" clip-path="url(#cai)"/>
<path d="M69.5 183.5 L70.3 185.9 L71.3 189.2 L72.6 193.1 L73.9 197.2 L75.2 201.1 L76.3 204.4 L77.2 207.3 L78.1 210.0 L78.9 212.5 L79.7 214.8 L80.4 216.9 L81.1 218.8 L81.7 220.3 L82.3 221.5 L82.8 222.5 L83.3 223.3 L83.7 224.0 L84.2 224.5 L84.7 224.8 L85.2 225.0 L85.8 224.9 L86.2 224.8 L86.6 224.7 L86.9 224.6 L87.9 224.3 L88.9 224.0 L89.9 223.6 L90.9 223.3 L91.9 222.9 L92.9 222.6 L93.9 222.3 L94.9 221.9 L95.9 221.6 L96.9 221.3 L97.9 220.9 L98.9 220.6 L99.9 220.3 L100.9 219.9 L101.9 219.6 L102.9 219.2 L103.9 218.9 L104.9 218.6 L105.9 218.2 L106.9 217.9 L107.9 217.6 L108.9 217.2 L109.9 216.9 L110.9 216.6 L111.9 216.2 L112.9 215.9 L113.9 215.6 L114.9 215.2 L115.9 214.9 L116.9 214.6 L117.9 214.2 L118.9 213.9 L119.9 213.6 L120.9 213.2 L121.9 212.9 L122.9 212.5 L123.9 212.2 L124.9 211.9 L125.9 211.5 L126.9 211.2 L127.9 210.9 L128.9 210.5 L129.9 210.2 L130.9 209.9 L131.9 209.5 L132.9 209.2 L133.9 208.9 L134.9 208.6 L135.9 208.2 L136.9 207.9 L137.9 207.6 L138.9 207.2 L139.9 206.9 L140.9 206.6 L141.9 206.2 L142.9 205.9 L143.9 205.6 L144.9 205.2 L145.9 204.9 L146.9 204.6" stroke="#000000" stroke-width="1.30" fill="none" stroke-dasharray="3 4" stroke-linejoin="round" clip-path="url(#cai)"/>
<path d="M69.5 230.5 L70.8 230.1 L72.1 229.6 L73.4 229.2 L74.7 228.8 L76.0 228.3 L77.2 227.9 L78.5 227.5 L79.8 227.0 L81.1 226.6 L82.4 226.2 L83.7 225.7 L85.0 225.3 L86.3 224.8 L87.6 224.4 L88.8 224.0 L90.1 223.5 L91.4 223.1 L92.7 222.7 L94.0 222.2 L95.3 221.8 L96.6 221.4 L97.9 220.9 L99.2 220.5 L100.5 220.1 L101.8 219.6 L103.0 219.2 L104.3 218.8 L105.6 218.3 L106.9 217.9 L108.2 217.5 L109.5 217.0 L110.8 216.6 L112.1 216.2 L113.4 215.7 L114.7 215.3 L115.9 214.9 L117.2 214.4 L118.5 214.0 L119.8 213.6 L121.1 213.2 L122.4 212.7 L123.7 212.3 L125.0 211.9 L126.3 211.4 L127.5 211.0 L128.8 210.6 L130.1 210.1 L131.4 209.7 L132.7 209.3 L134.0 208.9 L135.3 208.4 L136.6 208.0 L137.9 207.6 L139.2 207.1 L140.4 206.7 L141.7 206.3 L143.0 205.9 L144.3 205.4 L145.6 205.0 L146.9 204.6" stroke="#ff0000" stroke-width="1.60" fill="none" stroke-dasharray="5.5 3.5" stroke-linejoin="round" clip-path="url(#cai)"/>
<path d="M69.50 256.60v-2.00M69.50 204.40v2.00M108.20 256.60v-2.00M108.20 204.40v2.00M146.90 256.60v-2.00M146.90 204.40v2.00M69.50 256.60h2.00M146.90 256.60h-2.00M69.50 230.50h2.00M146.90 230.50h-2.00M69.50 204.40h2.00M146.90 204.40h-2.00" stroke="#404040" stroke-width="0.8" fill="none"/>
<rect x="69.50" y="204.40" width="77.40" height="52.20" fill="none" stroke="#404040" stroke-width="1.10"/>
<text x="69.50" y="271.10" font-size="10.80" text-anchor="middle" fill="#262626" font-family='"Liberation Serif", serif' font-weight="normal">0</text>
<text x="108.20" y="271.10" font-size="10.80" text-anchor="middle" fill="#262626" font-family='"Liberation Serif", serif' font-weight="normal">0.1</text>
<text x="146.90" y="271.10" font-size="10.80" text-anchor="middle" fill="#262626" font-family='"Liberation Serif", serif' font-weight="normal">0.2</text>
<text x="65.00" y="260.92" font-size="10.80" text-anchor="end" fill="#262626" font-family='"Liberation Serif", serif' font-weight="normal">-0.2</text>
<text x="65.00" y="234.82" font-size="10.80" text-anchor="end" fill="#262626" font-family='"Liberation Serif", serif' font-weight="normal">0</text>
<text x="65.00" y="208.72" font-size="10.80" text-anchor="end" fill="#262626" font-family='"Liberation Serif", serif' font-weight="normal">0.2</text>
<line x1="50.20" y1="151.00" x2="97.09" y2="199.62" stroke="#222" stroke-width="0.75"/>
<path d="M101.60 204.30 L92.96 200.82 L97.76 200.32 L98.43 195.54 Z" fill="#222"/>
<text x="183.05" y="315.80" font-size="17.50" text-anchor="middle" fill="#000" font-family='"Liberation Sans", sans-serif' font-weight="bold" textLength="20.50" lengthAdjust="spacingAndGlyphs">(a)</text>
<path d="M437.84 32.50V266.60M494.38 32.50V266.60M550.92 32.50V266.60M607.46 32.50V266.60M381.30 240.59H664.00M381.30 214.58H664.00M381.30 188.57H664.00M381.30 162.56H664.00M381.30 136.54H664.00M381.30 110.53H664.00M381.30 84.52H664.00M381.30 58.51H664.00" stroke="#e2e2e2" stroke-width="1.00" fill="none"/>
<path d="M383.8 144.3 L384.4 142.4 L385.3 139.7 L385.8 139.6 L387.0 139.6 L388.3 139.5 L389.8 139.4 L391.3 139.4 L392.6 139.4 L393.8 139.5 L394.8 139.6 L395.8 139.7 L396.9 139.8 L398.3 139.9 L400.0 140.1 L402.1 140.2 L404.5 140.3 L407.1 140.4 L409.9 140.6 L412.6 140.7 L415.2 140.8 L417.7 141.0 L420.1 141.1 L422.5 141.2 L424.9 141.3 L427.4 141.4 L429.9 141.5 L432.6 141.5 L435.4 141.5 L438.2 141.4 L441.0 141.4 L443.7 141.3 L446.3 141.2 L448.8 141.1 L451.1 141.0 L453.4 140.9 L455.6 140.8 L457.8 140.7 L459.9 140.6 L462.0 140.4 L464.1 140.3 L466.2 140.2 L468.1 140.0 L470.0 139.8 L471.8 139.7 L473.3 139.5 L474.7 139.3 L476.0 139.1 L477.2 139.0 L478.5 138.7 L480.0 138.5 L481.5 138.2 L483.2 137.9 L484.9 137.6 L486.7 137.3 L488.4 136.9 L490.1 136.5 L491.8 136.2 L493.4 135.7 L495.0 135.3 L496.6 134.9 L498.3 134.5 L500.0 134.1 L501.9 133.7 L503.8 133.3 L505.8 132.9 L507.7 132.6 L509.6 132.3 L511.3 132.0 L512.8 131.8 L514.0 131.6 L515.1 131.4 L516.3 131.3 L517.8 131.3 L519.8 131.2 L522.6 131.2 L525.9 131.2 L529.5 131.3 L533.2 131.4 L536.7 131.5 L539.6 131.6 L542.0 131.7 L544.0 131.8 L545.8 131.9 L547.5 132.1 L549.1 132.2 L550.9 132.4 L552.8 132.6 L554.8 132.7 L556.8 132.9 L558.7 133.2 L560.5 133.4 L562.2 133.7 L563.8 134.0 L565.3 134.3 L566.6 134.7 L568.0 135.0 L569.3 135.5 L570.7 135.9 L572.1 136.4 L573.5 137.0 L574.8 137.6 L576.2 138.2 L577.6 138.7 L579.2 139.1 L580.8 139.5 L582.4 139.8 L584.0 140.0 L585.8 140.2 L587.8 140.4 L589.9 140.6 L592.3 140.8 L594.9 140.9 L597.6 141.1 L600.5 141.2 L603.6 141.3 L606.9 141.4 L610.4 141.4 L614.3 141.4 L618.3 141.4 L622.4 141.3 L626.3 141.2 L630.1 141.1 L633.7 140.9 L637.3 140.7 L640.8 140.4 L644.1 140.1 L647.2 139.8 L649.9 139.5 L652.2 139.2 L654.2 138.8 L655.9 138.5 L657.5 138.1 L658.8 137.7 L660.0 137.5 L661.1 137.2 L662.0 137.0 L662.7 136.9 L663.2 136.7 L663.6 136.6 L664.0 136.5" stroke="#0000ff" stroke-width="1.80" fill="none" stroke-linejoin="round" clip-path="url(#cb)"/>
<path d="M384.7 178.2 L385.5 132.6 L387.0 136.5 L387.2 137.0 L387.6 137.6 L388.0 138.3 L388.5 139.1 L389.1 139.8 L389.8 140.4 L390.5 140.9 L391.1 141.4 L391.9 141.8 L392.8 142.2 L394.0 142.5 L395.4 142.8 L397.3 143.1 L399.5 143.3 L402.0 143.5 L404.5 143.7 L407.1 143.8 L409.6 144.0 L411.9 144.0 L414.3 144.1 L416.6 144.1 L419.0 144.1 L421.3 144.1 L423.7 144.1 L426.1 144.1 L428.4 144.0 L430.8 144.0 L433.1 143.9 L435.5 143.8 L437.8 143.7 L440.2 143.5 L442.5 143.4 L444.8 143.2 L447.2 142.9 L449.5 142.7 L452.0 142.4 L454.6 142.1 L457.3 141.7 L460.0 141.3 L462.7 140.9 L465.2 140.5 L467.5 140.1 L469.5 139.6 L471.3 139.2 L473.0 138.7 L474.5 138.2 L476.0 137.7 L477.4 137.2 L478.8 136.7 L480.1 136.2 L481.3 135.6 L482.5 135.1 L483.7 134.6 L485.1 134.1 L486.5 133.6 L488.1 133.1 L489.7 132.6 L491.3 132.1 L492.9 131.7 L494.4 131.3 L495.8 131.0 L497.1 130.8 L498.3 130.6 L499.6 130.4 L501.1 130.2 L502.9 130.0 L504.9 129.9 L507.2 129.8 L509.6 129.6 L512.1 129.5 L514.6 129.5 L517.0 129.4 L519.4 129.3 L521.7 129.3 L524.1 129.3 L526.4 129.3 L528.8 129.3 L531.1 129.4 L533.5 129.5 L535.8 129.6 L538.2 129.7 L540.6 129.8 L542.9 129.9 L545.3 130.0 L547.7 130.2 L550.3 130.3 L552.9 130.4 L555.3 130.5 L557.5 130.6 L559.4 130.8 L560.8 131.0 L561.9 131.2 L562.8 131.5 L563.5 131.7 L564.2 132.1 L565.1 132.6 L566.0 133.3 L566.9 134.2 L567.9 135.1 L568.8 136.1 L569.8 137.0 L570.7 137.8 L571.7 138.6 L572.6 139.3 L573.5 140.0 L574.5 140.6 L575.4 141.2 L576.4 141.7 L577.1 142.2 L577.5 142.6 L578.0 142.9 L578.7 143.2 L579.9 143.5 L582.0 143.7 L585.2 143.9 L589.5 144.0 L594.2 144.0 L599.1 144.0 L603.6 144.0 L607.5 144.0 L610.5 143.9 L613.0 143.7 L615.2 143.6 L617.3 143.4 L619.4 143.2 L621.6 143.0 L624.0 142.9 L626.3 142.7 L628.7 142.6 L631.0 142.4 L633.4 142.2 L635.7 142.0 L638.2 141.8 L640.7 141.5 L643.2 141.3 L645.6 141.0 L647.8 140.6 L649.9 140.2 L651.6 139.7 L653.2 139.1 L654.6 138.5 L655.9 137.8 L657.2 137.2 L658.3 136.5 L659.5 135.9 L660.6 135.1 L661.7 134.4 L662.6 133.7 L663.4 133.1 L664.0 132.6" stroke="#ff0000" stroke-width="1.50" fill="none" stroke-dasharray="1.4 1.4" stroke-linejoin="round" clip-path="url(#cb)"/>
<path d="M382.6 135.2 L387.0 135.2 L392.6 135.2 L394.0 135.2 L395.4 135.2 L396.8 135.2 L398.3 135.1 L399.7 135.1 L401.1 135.1 L402.5 135.1 L403.9 135.1 L405.3 135.1 L406.7 135.1 L408.2 135.1 L409.6 135.1 L411.0 135.2 L412.4 135.2 L413.8 135.2 L415.2 135.2 L416.6 135.3 L418.1 135.3 L419.5 135.3 L420.9 135.4 L422.3 135.4 L423.7 135.4 L425.1 135.5 L426.5 135.5 L427.9 135.6 L429.4 135.6 L430.8 135.6 L432.2 135.7 L433.6 135.7 L435.0 135.7 L436.4 135.8 L437.8 135.8 L439.3 135.8 L440.7 135.8 L442.1 135.9 L443.5 135.9 L444.9 135.9 L446.3 135.9 L447.7 135.9 L449.1 135.9 L450.6 135.9 L452.0 135.9 L453.4 135.9 L454.8 135.8 L456.2 135.8 L457.6 135.8 L459.0 135.8 L460.5 135.8 L461.9 135.7 L463.3 135.7 L464.7 135.6 L466.1 135.6 L467.5 135.6 L468.9 135.5 L470.4 135.5 L471.8 135.5 L473.2 135.4 L474.6 135.4 L476.0 135.3 L477.4 135.3 L478.8 135.3 L480.2 135.2 L481.7 135.2 L483.1 135.2 L484.5 135.2 L485.9 135.2 L487.3 135.1 L488.7 135.1 L490.1 135.1 L491.6 135.1 L493.0 135.1 L494.4 135.1 L495.8 135.1 L497.2 135.1 L498.6 135.2 L500.0 135.2 L501.4 135.2 L502.9 135.2 L504.3 135.2 L505.7 135.3 L507.1 135.3 L508.5 135.3 L509.9 135.4 L511.3 135.4 L512.8 135.5 L514.2 135.5 L515.6 135.5 L517.0 135.6 L518.4 135.6 L519.8 135.6 L521.2 135.7 L522.7 135.7 L524.1 135.7 L525.5 135.8 L526.9 135.8 L528.3 135.8 L529.7 135.8 L531.1 135.9 L532.5 135.9 L534.0 135.9 L535.4 135.9 L536.8 135.9 L538.2 135.9 L539.6 135.9 L541.0 135.9 L542.4 135.9 L543.9 135.8 L545.3 135.8 L546.7 135.8 L548.1 135.8 L549.5 135.7 L550.9 135.7 L552.3 135.7 L553.7 135.6 L555.2 135.6 L556.6 135.6 L558.0 135.5 L559.4 135.5 L560.8 135.5 L562.2 135.4 L563.6 135.4 L565.1 135.3 L566.5 135.3 L567.9 135.3 L569.3 135.2 L570.7 135.2 L572.1 135.2 L573.5 135.2 L574.9 135.2 L576.4 135.1 L577.8 135.1 L579.2 135.1 L580.6 135.1 L582.0 135.1 L583.4 135.1 L584.8 135.1 L586.3 135.1 L587.7 135.2 L589.1 135.2 L590.5 135.2 L591.9 135.2 L593.3 135.3 L594.7 135.3 L596.2 135.3 L597.6 135.3 L599.0 135.4 L600.4 135.4 L601.8 135.5 L603.2 135.5 L604.6 135.5 L606.0 135.6 L607.5 135.6 L608.9 135.7 L610.3 135.7 L611.7 135.7 L613.1 135.8 L614.5 135.8 L615.9 135.8 L617.4 135.8 L618.8 135.9 L620.2 135.9 L621.6 135.9 L623.0 135.9 L624.4 135.9 L625.8 135.9 L627.2 135.9 L628.7 135.9 L630.1 135.9 L631.5 135.9 L632.9 135.8 L634.3 135.8 L635.7 135.8 L637.1 135.8 L638.6 135.7 L640.0 135.7 L641.4 135.7 L642.8 135.6 L644.2 135.6 L645.6 135.6 L647.0 135.5 L648.5 135.5 L649.9 135.4 L651.3 135.4 L652.7 135.4 L654.1 135.3 L655.5 135.3 L656.9 135.3 L658.3 135.2 L659.8 135.2 L661.2 135.2 L662.6 135.2 L664.0 135.1" stroke="#00ff00" stroke-width="1.60" fill="none" stroke-dasharray="4 1.5 1 1.5" stroke-linejoin="round" clip-path="url(#cb)"/>
<path d="M383.0 136.5 L383.3 46.8 L383.6 82.7 L383.7 136.5 L383.8 144.3" stroke="#0000ff" stroke-width="1.60" fill="none" stroke-linejoin="round" clip-path="url(#cb)"/>
<path d="M383.4 136.5 L383.6 75.4 L383.8 106.0 L384.1 136.5 L384.4 178.2 L384.7 178.2" stroke="#ff0000" stroke-width="1.50" fill="none" stroke-dasharray="1.4 1.1" stroke-linejoin="round" clip-path="url(#cb)"/>
<path d="M382.0 133.9 L382.1 39.0 L382.3 87.8 L382.2 244.5 L382.6 135.2" stroke="#00ff00" stroke-width="2.00" fill="none" stroke-linejoin="round" clip-path="url(#cb)"/>
<path d="M382.4 130.7 L384.1 133.9 L387.0 135.0 L392.6 135.2 L393.5 135.1 L394.3 135.1 L395.2 135.0 L396.0 135.1 L396.8 135.0 L397.7 135.6 L398.5 135.3 L399.4 135.0 L400.2 135.1 L401.1 135.0 L401.9 135.5 L402.8 135.3 L403.6 135.4 L404.5 135.2 L405.3 135.2 L406.2 135.6 L407.0 135.4 L407.9 135.4 L408.7 135.0 L409.6 135.1 L410.4 135.5 L411.3 135.1 L412.1 135.5 L413.0 135.2 L413.8 135.5 L414.7 135.6 L415.5 135.0 L416.4 135.4 L417.2 135.4 L418.1 134.9 L418.9 135.0 L419.7 135.4 L420.6 134.9 L421.4 135.2 L422.3 135.1 L423.1 135.4 L424.0 135.0 L424.8 135.1 L425.7 134.9 L426.5 135.0 L427.4 135.4 L428.2 135.3 L429.1 135.5 L429.9 135.5 L430.8 135.5 L431.6 135.4 L432.5 135.2 L433.3 135.6 L434.2 135.1 L435.0 135.3 L435.9 135.4 L436.7 135.0 L437.6 135.3 L438.4 135.7 L439.3 135.3 L440.1 134.7 L440.9 136.4 L441.8 134.0 L442.6 136.5 L443.5 134.6 L444.3 134.3 L445.2 136.5 L446.0 134.5 L446.9 135.6 L447.7 135.0 L448.6 136.5 L449.4 136.4 L450.3 136.1 L451.1 134.1 L452.0 136.0 L452.8 134.6 L453.7 134.1 L454.5 134.1 L455.4 135.6 L456.2 135.6 L457.1 135.2 L457.9 134.5 L458.8 136.3 L459.6 134.6 L460.5 134.5 L461.3 134.3 L462.2 136.4 L463.0 134.1 L463.8 136.3 L464.7 135.7 L465.5 135.0 L466.4 134.2 L467.2 135.7 L468.1 134.1 L468.9 135.1 L469.8 135.7 L470.6 135.7 L471.5 136.1 L472.3 136.3 L473.2 136.2 L474.0 134.8 L474.9 134.0 L475.7 136.1 L476.6 136.4 L477.4 134.0 L478.3 135.2 L479.1 135.5 L480.0 135.9 L480.8 135.0 L481.7 134.4 L482.5 135.4 L483.4 135.4 L484.2 136.4 L485.1 134.2 L485.9 136.5 L486.7 135.3 L487.6 134.4 L488.4 136.2 L489.3 134.6 L490.1 134.1 L491.0 134.9 L491.8 134.5 L492.7 136.3 L493.5 135.4 L494.4 136.2 L495.2 134.3 L496.1 135.8 L496.9 135.4 L497.8 133.9 L498.6 134.3 L499.5 134.0 L500.3 135.4 L501.2 135.3 L502.0 134.6 L502.9 135.3 L503.7 135.8 L504.6 135.5 L505.4 136.2 L506.3 135.6 L507.1 134.0 L507.9 134.0 L508.8 134.9 L509.6 135.2 L510.5 135.7 L511.3 136.3 L512.2 135.8 L513.0 134.5 L513.9 134.3 L514.7 135.6 L515.6 134.5 L516.4 134.5 L517.3 134.7 L518.1 134.8 L519.0 134.6 L519.8 135.6 L520.7 134.7 L521.5 135.8 L522.4 135.3 L523.2 134.5 L524.1 134.7 L524.9 135.8 L525.8 134.1 L526.6 134.9 L527.5 135.0 L528.3 136.5 L529.2 135.1 L530.0 135.9 L530.8 134.8 L531.7 135.3 L532.5 134.4 L533.4 134.9 L534.2 134.5 L535.1 135.6 L535.9 134.9 L536.8 134.6 L537.6 134.4 L538.5 135.6 L539.3 134.4 L540.2 134.3 L541.0 134.8 L541.9 134.0 L542.7 134.1 L543.6 135.2 L544.4 135.2 L545.3 136.1 L546.1 134.4 L547.0 134.1 L547.8 135.3 L548.7 134.7 L549.5 134.7 L550.4 134.6 L551.2 136.1 L552.1 134.5 L552.9 135.0 L553.7 134.8 L554.6 135.4 L555.4 134.9 L556.3 134.5 L557.1 134.9 L558.0 134.7 L558.8 136.5 L559.7 136.1 L560.5 135.4 L561.4 134.9 L562.2 136.0 L563.1 134.8 L563.9 134.9 L564.8 136.4 L565.6 135.3 L566.5 136.0 L567.3 136.4 L568.2 136.2 L569.0 135.7 L569.9 136.1 L570.7 136.0 L571.6 136.5 L572.4 135.3 L573.3 135.6 L574.1 135.0 L574.9 135.0 L575.8 135.9 L576.6 134.2 L577.5 136.5 L578.3 135.5 L579.2 135.8 L580.0 135.5 L580.9 136.2 L581.7 134.4 L582.6 135.6 L583.4 136.5 L584.3 134.9 L585.1 136.3 L586.0 135.1 L586.8 135.7 L587.7 135.0 L588.5 134.1 L589.4 134.4 L590.2 135.5 L591.1 134.4 L591.9 134.9 L592.8 135.6 L593.6 136.2 L594.5 135.0 L595.3 135.1 L596.2 134.1 L597.0 134.0 L597.8 135.0 L598.7 135.6 L599.5 134.2 L600.4 136.5 L601.2 136.3 L602.1 135.1 L602.9 134.9 L603.8 136.2 L604.6 134.9 L605.5 134.2 L606.3 135.6 L607.2 135.4 L608.0 136.0 L608.9 135.8 L609.7 134.0 L610.6 135.6 L611.4 134.0 L612.3 134.2 L613.1 135.0 L614.0 135.9 L614.8 134.0 L615.7 135.3 L616.5 135.5 L617.4 135.7 L618.2 134.0 L619.1 135.3 L619.9 135.8 L620.7 135.3 L621.6 136.2 L622.4 134.9 L623.3 135.4 L624.1 135.8 L625.0 134.5 L625.8 134.4 L626.7 136.5 L627.5 135.2 L628.4 135.8 L629.2 134.1 L630.1 134.5 L630.9 135.9 L631.8 135.8 L632.6 136.1 L633.5 134.0 L634.3 135.8 L635.2 135.0 L636.0 135.3 L636.9 134.9 L637.7 135.0 L638.6 134.6 L639.4 136.2 L640.3 134.6 L641.1 135.8 L641.9 135.2 L642.8 135.7 L643.6 135.8 L644.5 135.2 L645.3 135.3 L646.2 135.6 L647.0 134.6 L647.9 135.0 L648.7 136.4 L649.6 135.9 L650.4 135.4 L651.3 134.2 L652.1 134.2 L653.0 135.1 L653.8 136.5 L654.7 134.5 L655.5 135.4 L656.4 135.0 L657.2 134.7 L658.1 134.9 L658.9 135.3 L659.8 134.2 L660.6 135.5 L661.5 135.5 L662.3 134.3 L663.2 136.0 L664.0 135.8" stroke="#000000" stroke-width="1.60" fill="none" stroke-dasharray="4 3" stroke-linejoin="round" clip-path="url(#cb)"/>
<path d="M381.9 129.4 L382.7 130.7" stroke="#000000" stroke-width="2.00" fill="none" stroke-linejoin="round" clip-path="url(#cb)"/>
<path d="M381.30 266.60v-2.50M381.30 32.50v2.50M437.84 266.60v-2.50M437.84 32.50v2.50M494.38 266.60v-2.50M494.38 32.50v2.50M550.92 266.60v-2.50M550.92 32.50v2.50M607.46 266.60v-2.50M607.46 32.50v2.50M664.00 266.60v-2.50M664.00 32.50v2.50M381.30 266.60h2.50M664.00 266.60h-2.50M381.30 240.59h2.50M664.00 240.59h-2.50M381.30 214.58h2.50M664.00 214.58h-2.50M381.30 188.57h2.50M664.00 188.57h-2.50M381.30 162.56h2.50M664.00 162.56h-2.50M381.30 136.54h2.50M664.00 136.54h-2.50M381.30 110.53h2.50M664.00 110.53h-2.50M381.30 84.52h2.50M664.00 84.52h-2.50M381.30 58.51h2.50M664.00 58.51h-2.50M381.30 32.50h2.50M664.00 32.50h-2.50" stroke="#404040" stroke-width="0.8" fill="none"/>
<rect x="381.30" y="32.50" width="282.70" height="234.10" fill="none" stroke="#404040" stroke-width="1.20"/>
<text x="381.30" y="281.10" font-size="10.50" text-anchor="middle" fill="#262626" font-family='"Liberation Serif", serif' font-weight="normal">0</text>
<text x="437.84" y="281.10" font-size="10.50" text-anchor="middle" fill="#262626" font-family='"Liberation Serif", serif' font-weight="normal">2</text>
<text x="494.38" y="281.10" font-size="10.50" text-anchor="middle" fill="#262626" font-family='"Liberation Serif", serif' font-weight="normal">4</text>
<text x="550.92" y="281.10" font-size="10.50" text-anchor="middle" fill="#262626" font-family='"Liberation Serif", serif' font-weight="normal">6</text>
<text x="607.46" y="281.10" font-size="10.50" text-anchor="middle" fill="#262626" font-family='"Liberation Serif", serif' font-weight="normal">8</text>
<text x="664.00" y="281.10" font-size="10.50" text-anchor="middle" fill="#262626" font-family='"Liberation Serif", serif' font-weight="normal">10</text>
<text x="376.80" y="270.80" font-size="10.50" text-anchor="end" fill="#262626" font-family='"Liberation Serif", serif' font-weight="normal">-10</text>
<text x="376.80" y="244.79" font-size="10.50" text-anchor="end" fill="#262626" font-family='"Liberation Serif", serif' font-weight="normal">-8</text>
<text x="376.80" y="218.78" font-size="10.50" text-anchor="end" fill="#262626" font-family='"Liberation Serif", serif' font-weight="normal">-6</text>
<text x="376.80" y="192.77" font-size="10.50" text-anchor="end" fill="#262626" font-family='"Liberation Serif", serif' font-weight="normal">-4</text>
<text x="376.80" y="166.76" font-size="10.50" text-anchor="end" fill="#262626" font-family='"Liberation Serif", serif' font-weight="normal">-2</text>
<text x="376.80" y="140.74" font-size="10.50" text-anchor="end" fill="#262626" font-family='"Liberation Serif", serif' font-weight="normal">0</text>
<text x="376.80" y="114.73" font-size="10.50" text-anchor="end" fill="#262626" font-family='"Liberation Serif", serif' font-weight="normal">2</text>
<text x="376.80" y="88.72" font-size="10.50" text-anchor="end" fill="#262626" font-family='"Liberation Serif", serif' font-weight="normal">4</text>
<text x="376.80" y="62.71" font-size="10.50" text-anchor="end" fill="#262626" font-family='"Liberation Serif", serif' font-weight="normal">6</text>
<text x="376.80" y="36.70" font-size="10.50" text-anchor="end" fill="#262626" font-family='"Liberation Serif", serif' font-weight="normal">8</text>
<text x="522.55" y="294.60" font-size="11.70" text-anchor="middle" fill="#262626" font-family='"Liberation Serif", serif' font-weight="normal" textLength="31.00" lengthAdjust="spacingAndGlyphs">time(s)</text>
<text transform="translate(359.00,149.45) rotate(-90)" font-size="12.00" text-anchor="middle" fill="#262626" font-family='"Liberation Serif", serif' textLength="84.70" lengthAdjust="spacingAndGlyphs">Control effort (A)</text>
<rect x="488.30" y="39.70" width="168.70" height="49.10" fill="#fff" stroke="#404040" stroke-width="1.1"/>
<line x1="490.00" y1="47.50" x2="516.00" y2="47.50" stroke="#0000ff" stroke-width="2.00"/>
<text x="518.80" y="50.63" font-size="9.50" text-anchor="start" fill="#262626" font-family='"Liberation Serif", serif' font-weight="normal" textLength="133.60" lengthAdjust="spacingAndGlyphs">Sigmoid function  1/(1+exp(-a.x+b)</text>
<line x1="490.00" y1="58.50" x2="516.00" y2="58.50" stroke="#ff0000" stroke-width="1.00" stroke-dasharray="1 1"/>
<text x="518.80" y="61.73" font-size="9.50" text-anchor="start" fill="#262626" font-family='"Liberation Serif", serif' font-weight="normal" textLength="133.91" lengthAdjust="spacingAndGlyphs"> HTF(1-exp(-a.x+b)/1+exp(-a.x+b))</text>
<line x1="490.00" y1="70.50" x2="516.00" y2="70.50" stroke="#00ff00" stroke-width="1.50" stroke-dasharray="4.7 1.2 2.3 1.2"/>
<text x="518.80" y="73.94" font-size="9.50" text-anchor="start" fill="#262626" font-family='"Liberation Serif", serif' font-weight="normal" textLength="67.84" lengthAdjust="spacingAndGlyphs">Cosine cos(a.x+b)</text>
<line x1="490.00" y1="82.50" x2="516.00" y2="82.50" stroke="#000000" stroke-width="2.00" stroke-dasharray="5.20"/>
<text x="518.80" y="85.34" font-size="9.50" text-anchor="start" fill="#262626" font-family='"Liberation Serif", serif' font-weight="normal" textLength="118.27" lengthAdjust="spacingAndGlyphs">Hard limit Function  cos(a.x+b)</text>
<text x="522.85" y="315.90" font-size="17.70" text-anchor="middle" fill="#000" font-family='"Liberation Sans", sans-serif' font-weight="bold" textLength="20.90" lengthAdjust="spacingAndGlyphs">(b)</text>
<path d="M99.68 411.90V618.40M154.66 411.90V618.40M209.64 411.90V618.40M264.62 411.90V618.40M44.70 583.98H319.60M44.70 549.57H319.60M44.70 515.15H319.60M44.70 480.73H319.60M44.70 446.32H319.60" stroke="#dcdcdc" stroke-width="1.00" fill="none"/>
<path d="M44.7 492.4 L44.8 493.4 L44.8 494.8 L44.9 496.4 L45.0 498.1 L45.1 499.8 L45.2 501.4 L45.3 502.8 L45.3 504.3 L45.4 505.8 L45.4 507.2 L45.5 508.5 L45.5 509.6 L45.6 510.6 L45.6 511.4 L45.7 512.2 L45.7 512.8 L45.8 513.3 L45.8 513.8 L45.9 514.1 L45.9 514.4 L45.9 514.5 L46.0 514.6 L46.0 514.7 L46.1 514.8 L46.1 514.9 L46.2 515.0 L46.2 515.1 L46.3 515.1 L46.4 515.2 L46.4 515.1 L46.5 515.1 L46.6 515.0 L46.6 514.8 L46.7 514.6 L46.7 514.3 L46.7 513.9 L46.8 513.5 L46.8 513.0 L46.9 512.5 L46.9 512.1 L46.9 511.5 L47.0 511.0 L47.1 510.4 L47.1 509.8 L47.2 509.3 L47.2 509.0 L47.2 508.7 L47.3 508.5 L47.3 508.4 L47.4 508.4 L47.4 508.3 L48.4 506.0 L49.3 503.8 L50.2 501.5 L51.1 499.3 L52.0 497.1 L52.9 494.9 L53.8 492.8 L54.7 490.6 L55.6 488.5 L56.5 486.5 L57.4 484.4 L58.3 482.4 L59.2 480.4 L60.1 478.5 L61.1 476.6 L62.0 474.7 L62.9 472.9 L63.8 471.1 L64.7 469.4 L65.6 467.7 L66.5 466.1 L67.4 464.5 L68.3 463.0 L69.2 461.6 L70.1 460.2 L71.0 458.8 L71.9 457.6 L72.8 456.4 L73.8 455.2 L74.7 454.1 L75.6 453.1 L76.5 452.2 L77.4 451.3 L78.3 450.5 L79.2 449.7 L80.1 449.1 L81.0 448.5 L81.9 447.9 L82.8 447.5 L83.7 447.1 L84.6 446.8 L85.6 446.6 L86.5 446.4 L87.4 446.3 L88.3 446.3 L89.2 446.4 L90.1 446.5 L91.0 446.8 L91.9 447.1 L92.8 447.4 L93.7 447.9 L94.6 448.4 L95.5 449.0 L96.4 449.6 L97.3 450.4 L98.3 451.2 L99.2 452.0 L100.1 453.0 L101.0 454.0 L101.9 455.0 L102.8 456.2 L103.7 457.4 L104.6 458.7 L105.5 460.0 L106.4 461.4 L107.3 462.8 L108.2 464.3 L109.1 465.9 L110.0 467.5 L111.0 469.2 L111.9 470.9 L112.8 472.6 L113.7 474.5 L114.6 476.3 L115.5 478.2 L116.4 480.1 L117.3 482.1 L118.2 484.1 L119.1 486.2 L120.0 488.2 L120.9 490.3 L121.8 492.5 L122.7 494.6 L123.7 496.8 L124.6 499.0 L125.5 501.2 L126.4 503.5 L127.3 505.7 L128.2 508.0 L129.1 510.2 L130.0 512.5 L130.9 514.8 L131.8 517.0 L132.7 519.3 L133.6 521.6 L134.5 523.8 L135.4 526.1 L136.4 528.3 L137.3 530.5 L138.2 532.7 L139.1 534.9 L140.0 537.1 L140.9 539.2 L141.8 541.3 L142.7 543.4 L143.6 545.5 L144.5 547.5 L145.4 549.5 L146.3 551.4 L147.2 553.4 L148.1 555.2 L149.1 557.0 L150.0 558.8 L150.9 560.6 L151.8 562.2 L152.7 563.9 L153.6 565.4 L154.5 567.0 L155.4 568.4 L156.3 569.8 L157.2 571.2 L158.1 572.5 L159.0 573.7 L159.9 574.9 L160.8 576.0 L161.8 577.0 L162.7 578.0 L163.6 578.9 L164.5 579.7 L165.4 580.4 L166.3 581.1 L167.2 581.7 L168.1 582.3 L169.0 582.7 L169.9 583.1 L170.8 583.5 L171.7 583.7 L172.6 583.9 L173.5 584.0 L174.5 584.0 L175.4 583.9 L176.3 583.8 L177.2 583.6 L178.1 583.3 L179.0 583.0 L179.9 582.5 L180.8 582.0 L181.7 581.5 L182.6 580.8 L183.5 580.1 L184.4 579.3 L185.3 578.5 L186.2 577.5 L187.2 576.5 L188.1 575.5 L189.0 574.3 L189.9 573.2 L190.8 571.9 L191.7 570.6 L192.6 569.2 L193.5 567.8 L194.4 566.3 L195.3 564.7 L196.2 563.1 L197.1 561.5 L198.0 559.8 L198.9 558.0 L199.9 556.2 L200.8 554.4 L201.7 552.5 L202.6 550.6 L203.5 548.6 L204.4 546.6 L205.3 544.5 L206.2 542.5 L207.1 540.4 L208.0 538.2 L208.9 536.1 L209.8 533.9 L210.7 531.7 L211.6 529.5 L212.6 527.3 L213.5 525.0 L214.4 522.8 L215.3 520.5 L216.2 518.3 L217.1 516.0 L218.0 513.7 L218.9 511.4 L219.8 509.2 L220.7 506.9 L221.6 504.7 L222.5 502.4 L223.4 500.2 L224.3 498.0 L225.3 495.8 L226.2 493.6 L227.1 491.5 L228.0 489.4 L228.9 487.3 L229.8 485.2 L230.7 483.2 L231.6 481.2 L232.5 479.2 L233.4 477.3 L234.3 475.4 L235.2 473.6 L236.1 471.8 L237.0 470.1 L238.0 468.4 L238.9 466.8 L239.8 465.2 L240.7 463.6 L241.6 462.1 L242.5 460.7 L243.4 459.4 L244.3 458.1 L245.2 456.8 L246.1 455.7 L247.0 454.5 L247.9 453.5 L248.8 452.5 L249.7 451.6 L250.7 450.8 L251.6 450.0 L252.5 449.3 L253.4 448.7 L254.3 448.1 L255.2 447.6 L256.1 447.2 L257.0 446.9 L257.9 446.6 L258.8 446.5 L259.7 446.4 L260.6 446.3 L261.5 446.4 L262.4 446.5 L263.4 446.7 L264.3 446.9 L265.2 447.3 L266.1 447.7 L267.0 448.2 L267.9 448.7 L268.8 449.4 L269.7 450.1 L270.6 450.8 L271.5 451.7 L272.4 452.6 L273.3 453.6 L274.2 454.6 L275.1 455.7 L276.1 456.9 L277.0 458.1 L277.9 459.5 L278.8 460.8 L279.7 462.2 L280.6 463.7 L281.5 465.3 L282.4 466.8 L283.3 468.5 L284.2 470.2 L285.1 471.9 L286.0 473.7 L286.9 475.6 L287.8 477.4 L288.8 479.4 L289.7 481.3 L290.6 483.3 L291.5 485.3 L292.4 487.4 L293.3 489.5 L294.2 491.6 L295.1 493.8 L296.0 495.9 L296.9 498.1 L297.8 500.3 L298.7 502.6 L299.6 504.8 L300.5 507.1 L301.5 509.3 L302.4 511.6 L303.3 513.9 L304.2 516.1 L305.1 518.4 L306.0 520.7 L306.9 522.9 L307.8 525.2 L308.7 527.4 L309.6 529.6 L310.5 531.9 L311.4 534.1 L312.3 536.2 L313.2 538.4 L314.2 540.5 L315.1 542.6 L316.0 544.7 L316.9 546.7 L317.8 548.7 L318.7 550.7 L319.6 552.6" stroke="#0000ff" stroke-width="1.20" fill="none" stroke-linejoin="round" clip-path="url(#cc)"/>
<path d="M44.7 489.0 L44.8 490.4 L44.9 492.4 L45.1 494.8 L45.2 497.3 L45.4 499.5 L45.5 501.4 L45.5 502.8 L45.6 504.0 L45.6 505.1 L45.7 506.0 L45.7 506.8 L45.7 507.6 L45.8 508.3 L45.8 508.9 L45.8 509.5 L45.9 510.0 L45.9 510.4 L46.0 510.8 L46.0 511.2 L46.1 511.5 L46.1 511.7 L46.2 512.0 L46.3 512.1 L46.3 512.3 L46.4 512.4 L46.5 512.5 L46.6 512.5 L46.6 512.4 L46.7 512.3 L46.8 512.1 L46.8 511.8 L46.9 511.5 L47.0 511.1 L47.1 510.7 L47.2 510.3 L47.3 509.9 L47.4 509.5 L47.5 509.1 L47.6 508.6 L47.7 508.2 L47.8 507.9 L47.9 507.6 L48.0 507.3 L48.0 507.1 L48.1 506.9 L48.1 506.7 L48.1 506.6 L49.0 504.3 L49.9 502.1 L50.9 499.9 L51.8 497.7 L52.7 495.5 L53.6 493.3 L54.5 491.2 L55.4 489.1 L56.3 487.0 L57.2 485.0 L58.1 482.9 L59.0 480.9 L59.9 479.0 L60.8 477.1 L61.7 475.2 L62.6 473.4 L63.5 471.6 L64.4 469.9 L65.3 468.2 L66.2 466.6 L67.1 465.0 L68.0 463.5 L68.9 462.0 L69.9 460.6 L70.8 459.2 L71.7 458.0 L72.6 456.7 L73.5 455.6 L74.4 454.5 L75.3 453.4 L76.2 452.5 L77.1 451.6 L78.0 450.7 L78.9 450.0 L79.8 449.3 L80.7 448.6 L81.6 448.1 L82.5 447.6 L83.4 447.2 L84.3 446.9 L85.2 446.6 L86.1 446.5 L87.0 446.3 L88.0 446.3 L88.9 446.4 L89.8 446.5 L90.7 446.7 L91.6 446.9 L92.5 447.3 L93.4 447.7 L94.3 448.2 L95.2 448.7 L96.1 449.4 L97.0 450.1 L97.9 450.8 L98.8 451.7 L99.7 452.6 L100.6 453.6 L101.5 454.6 L102.4 455.7 L103.3 456.9 L104.2 458.1 L105.1 459.4 L106.0 460.8 L107.0 462.2 L107.9 463.7 L108.8 465.2 L109.7 466.8 L110.6 468.5 L111.5 470.2 L112.4 471.9 L113.3 473.7 L114.2 475.5 L115.1 477.4 L116.0 479.3 L116.9 481.3 L117.8 483.2 L118.7 485.3 L119.6 487.3 L120.5 489.4 L121.4 491.5 L122.3 493.7 L123.2 495.8 L124.1 498.0 L125.1 500.2 L126.0 502.4 L126.9 504.7 L127.8 506.9 L128.7 509.2 L129.6 511.4 L130.5 513.7 L131.4 516.0 L132.3 518.2 L133.2 520.5 L134.1 522.7 L135.0 525.0 L135.9 527.2 L136.8 529.4 L137.7 531.7 L138.6 533.8 L139.5 536.0 L140.4 538.2 L141.3 540.3 L142.2 542.4 L143.1 544.4 L144.1 546.5 L145.0 548.5 L145.9 550.4 L146.8 552.4 L147.7 554.3 L148.6 556.1 L149.5 557.9 L150.4 559.7 L151.3 561.4 L152.2 563.0 L153.1 564.6 L154.0 566.2 L154.9 567.7 L155.8 569.1 L156.7 570.5 L157.6 571.8 L158.5 573.0 L159.4 574.2 L160.3 575.4 L161.2 576.4 L162.2 577.4 L163.1 578.4 L164.0 579.2 L164.9 580.0 L165.8 580.7 L166.7 581.4 L167.6 582.0 L168.5 582.5 L169.4 582.9 L170.3 583.3 L171.2 583.6 L172.1 583.8 L173.0 583.9 L173.9 584.0 L174.8 584.0 L175.7 583.9 L176.6 583.7 L177.5 583.5 L178.4 583.2 L179.3 582.8 L180.2 582.3 L181.2 581.8 L182.1 581.2 L183.0 580.5 L183.9 579.8 L184.8 579.0 L185.7 578.1 L186.6 577.2 L187.5 576.1 L188.4 575.1 L189.3 573.9 L190.2 572.7 L191.1 571.4 L192.0 570.1 L192.9 568.7 L193.8 567.3 L194.7 565.7 L195.6 564.2 L196.5 562.6 L197.4 560.9 L198.3 559.2 L199.3 557.4 L200.2 555.6 L201.1 553.7 L202.0 551.9 L202.9 549.9 L203.8 547.9 L204.7 545.9 L205.6 543.9 L206.5 541.8 L207.4 539.7 L208.3 537.6 L209.2 535.4 L210.1 533.3 L211.0 531.1 L211.9 528.8 L212.8 526.6 L213.7 524.4 L214.6 522.1 L215.5 519.9 L216.4 517.6 L217.3 515.3 L218.3 513.1 L219.2 510.8 L220.1 508.6 L221.0 506.3 L221.9 504.1 L222.8 501.8 L223.7 499.6 L224.6 497.4 L225.5 495.2 L226.4 493.1 L227.3 490.9 L228.2 488.8 L229.1 486.8 L230.0 484.7 L230.9 482.7 L231.8 480.7 L232.7 478.8 L233.6 476.9 L234.5 475.0 L235.4 473.2 L236.4 471.4 L237.3 469.7 L238.2 468.0 L239.1 466.4 L240.0 464.8 L240.9 463.3 L241.8 461.8 L242.7 460.4 L243.6 459.1 L244.5 457.8 L245.4 456.6 L246.3 455.4 L247.2 454.3 L248.1 453.3 L249.0 452.3 L249.9 451.4 L250.8 450.6 L251.7 449.9 L252.6 449.2 L253.5 448.6 L254.4 448.0 L255.4 447.6 L256.3 447.2 L257.2 446.9 L258.1 446.6 L259.0 446.4 L259.9 446.3 L260.8 446.3 L261.7 446.4 L262.6 446.5 L263.5 446.7 L264.4 447.0 L265.3 447.3 L266.2 447.7 L267.1 448.2 L268.0 448.8 L268.9 449.4 L269.8 450.2 L270.7 450.9 L271.6 451.8 L272.5 452.7 L273.5 453.7 L274.4 454.7 L275.3 455.9 L276.2 457.1 L277.1 458.3 L278.0 459.6 L278.9 461.0 L279.8 462.4 L280.7 463.9 L281.6 465.4 L282.5 467.0 L283.4 468.7 L284.3 470.4 L285.2 472.1 L286.1 473.9 L287.0 475.7 L287.9 477.6 L288.8 479.5 L289.7 481.5 L290.6 483.5 L291.5 485.5 L292.5 487.6 L293.4 489.7 L294.3 491.8 L295.2 493.9 L296.1 496.1 L297.0 498.3 L297.9 500.5 L298.8 502.7 L299.7 504.9 L300.6 507.2 L301.5 509.4 L302.4 511.7 L303.3 514.0 L304.2 516.2 L305.1 518.5 L306.0 520.8 L306.9 523.0 L307.8 525.3 L308.7 527.5 L309.6 529.7 L310.6 531.9 L311.5 534.1 L312.4 536.3 L313.3 538.4 L314.2 540.5 L315.1 542.6 L316.0 544.7 L316.9 546.7 L317.8 548.7 L318.7 550.7 L319.6 552.6" stroke="#ff0000" stroke-width="1.30" fill="none" stroke-dasharray="1.3 1.3" stroke-linejoin="round" clip-path="url(#cc)"/>
<path d="M44.7 486.2 L44.8 488.0 L44.8 490.4 L44.9 493.3 L45.0 496.3 L45.1 499.1 L45.2 501.4 L45.3 503.2 L45.3 504.8 L45.4 506.2 L45.4 507.4 L45.5 508.6 L45.5 509.6 L45.6 510.7 L45.6 511.6 L45.6 512.4 L45.7 513.1 L45.7 513.6 L45.7 513.8 L45.8 513.8 L45.8 513.6 L45.8 513.1 L45.9 512.6 L45.9 512.1 L45.9 511.7 L45.9 511.4 L46.0 511.1 L46.0 510.8 L46.0 510.6 L46.0 510.4 L46.1 510.3 L46.1 510.4 L46.2 510.6 L46.2 510.8 L46.2 510.9 L46.2 511.0 L46.3 511.0 L46.4 510.9 L47.3 508.6 L48.2 506.3 L49.1 504.1 L50.0 501.8 L51.0 499.6 L51.9 497.4 L52.8 495.2 L53.7 493.0 L54.6 490.9 L55.5 488.8 L56.4 486.7 L57.3 484.6 L58.2 482.6 L59.2 480.6 L60.1 478.7 L61.0 476.7 L61.9 474.9 L62.8 473.0 L63.7 471.3 L64.6 469.5 L65.5 467.8 L66.4 466.2 L67.3 464.6 L68.3 463.1 L69.2 461.7 L70.1 460.2 L71.0 458.9 L71.9 457.6 L72.8 456.4 L73.7 455.2 L74.6 454.2 L75.5 453.1 L76.5 452.2 L77.4 451.3 L78.3 450.5 L79.2 449.7 L80.1 449.1 L81.0 448.5 L81.9 447.9 L82.8 447.5 L83.7 447.1 L84.7 446.8 L85.6 446.6 L86.5 446.4 L87.4 446.3 L88.3 446.3 L89.2 446.4 L90.1 446.5 L91.0 446.8 L91.9 447.1 L92.8 447.4 L93.8 447.9 L94.7 448.4 L95.6 449.0 L96.5 449.7 L97.4 450.4 L98.3 451.2 L99.2 452.1 L100.1 453.0 L101.0 454.1 L102.0 455.1 L102.9 456.3 L103.8 457.5 L104.7 458.8 L105.6 460.1 L106.5 461.5 L107.4 463.0 L108.3 464.5 L109.2 466.1 L110.2 467.7 L111.1 469.4 L112.0 471.1 L112.9 472.9 L113.8 474.7 L114.7 476.6 L115.6 478.5 L116.5 480.4 L117.4 482.4 L118.3 484.4 L119.3 486.5 L120.2 488.6 L121.1 490.7 L122.0 492.8 L122.9 495.0 L123.8 497.2 L124.7 499.4 L125.6 501.6 L126.5 503.9 L127.5 506.1 L128.4 508.4 L129.3 510.7 L130.2 513.0 L131.1 515.2 L132.0 517.5 L132.9 519.8 L133.8 522.1 L134.7 524.3 L135.6 526.6 L136.6 528.8 L137.5 531.0 L138.4 533.3 L139.3 535.4 L140.2 537.6 L141.1 539.8 L142.0 541.9 L142.9 544.0 L143.8 546.0 L144.8 548.0 L145.7 550.0 L146.6 552.0 L147.5 553.9 L148.4 555.7 L149.3 557.6 L150.2 559.3 L151.1 561.1 L152.0 562.7 L153.0 564.3 L153.9 565.9 L154.8 567.4 L155.7 568.9 L156.6 570.3 L157.5 571.6 L158.4 572.9 L159.3 574.1 L160.2 575.2 L161.1 576.3 L162.1 577.3 L163.0 578.3 L163.9 579.1 L164.8 580.0 L165.7 580.7 L166.6 581.3 L167.5 581.9 L168.4 582.5 L169.3 582.9 L170.3 583.3 L171.2 583.6 L172.1 583.8 L173.0 583.9 L173.9 584.0 L174.8 584.0 L175.7 583.9 L176.6 583.7 L177.5 583.5 L178.4 583.2 L179.4 582.8 L180.3 582.3 L181.2 581.8 L182.1 581.2 L183.0 580.5 L183.9 579.8 L184.8 578.9 L185.7 578.1 L186.6 577.1 L187.6 576.1 L188.5 575.0 L189.4 573.8 L190.3 572.6 L191.2 571.3 L192.1 570.0 L193.0 568.5 L193.9 567.1 L194.8 565.5 L195.8 564.0 L196.7 562.3 L197.6 560.6 L198.5 558.9 L199.4 557.1 L200.3 555.3 L201.2 553.4 L202.1 551.5 L203.0 549.6 L203.9 547.6 L204.9 545.5 L205.8 543.5 L206.7 541.4 L207.6 539.3 L208.5 537.1 L209.4 534.9 L210.3 532.7 L211.2 530.5 L212.1 528.3 L213.1 526.0 L214.0 523.8 L214.9 521.5 L215.8 519.3 L216.7 517.0 L217.6 514.7 L218.5 512.4 L219.4 510.1 L220.3 507.9 L221.2 505.6 L222.2 503.4 L223.1 501.1 L224.0 498.9 L224.9 496.7 L225.8 494.5 L226.7 492.3 L227.6 490.2 L228.5 488.1 L229.4 486.0 L230.4 484.0 L231.3 481.9 L232.2 480.0 L233.1 478.0 L234.0 476.1 L234.9 474.3 L235.8 472.5 L236.7 470.7 L237.6 469.0 L238.6 467.3 L239.5 465.7 L240.4 464.1 L241.3 462.6 L242.2 461.2 L243.1 459.8 L244.0 458.5 L244.9 457.2 L245.8 456.0 L246.7 454.9 L247.7 453.8 L248.6 452.8 L249.5 451.9 L250.4 451.0 L251.3 450.2 L252.2 449.5 L253.1 448.9 L254.0 448.3 L254.9 447.8 L255.9 447.3 L256.8 447.0 L257.7 446.7 L258.6 446.5 L259.5 446.4 L260.4 446.3 L261.3 446.3 L262.2 446.4 L263.1 446.6 L264.1 446.9 L265.0 447.2 L265.9 447.6 L266.8 448.0 L267.7 448.6 L268.6 449.2 L269.5 449.9 L270.4 450.7 L271.3 451.5 L272.2 452.4 L273.2 453.4 L274.1 454.4 L275.0 455.5 L275.9 456.7 L276.8 457.9 L277.7 459.2 L278.6 460.6 L279.5 462.0 L280.4 463.5 L281.4 465.0 L282.3 466.6 L283.2 468.2 L284.1 469.9 L285.0 471.7 L285.9 473.5 L286.8 475.3 L287.7 477.2 L288.6 479.1 L289.5 481.1 L290.5 483.1 L291.4 485.1 L292.3 487.2 L293.2 489.3 L294.1 491.4 L295.0 493.5 L295.9 495.7 L296.8 497.9 L297.7 500.1 L298.7 502.4 L299.6 504.6 L300.5 506.9 L301.4 509.1 L302.3 511.4 L303.2 513.7 L304.1 516.0 L305.0 518.3 L305.9 520.5 L306.9 522.8 L307.8 525.1 L308.7 527.3 L309.6 529.6 L310.5 531.8 L311.4 534.0 L312.3 536.2 L313.2 538.3 L314.1 540.5 L315.0 542.6 L316.0 544.6 L316.9 546.7 L317.8 548.7 L318.7 550.7 L319.6 552.6" stroke="#00ff00" stroke-width="1.50" fill="none" stroke-dasharray="4 1.5 1 1.5" stroke-linejoin="round" clip-path="url(#cc)"/>
<path d="M182.2 578.9 L182.6 584.0 L183.1 577.3 L183.6 582.4 L184.1 576.8 L184.6 581.8 L185.1 575.7 L185.6 581.3 L186.1 575.5 L186.6 579.2 L187.1 573.4 L187.6 578.7 L188.1 572.3 L188.6 576.9 L189.1 571.5 L189.6 576.6 L190.1 570.5 L190.6 575.6 L191.1 568.2 L191.6 572.9 L192.0 567.9 L192.5 572.1 L193.0 565.2 L193.5 570.3 L194.0 564.6 L194.5 568.7 L195.0 563.1 L195.5 566.8 L196.0 560.9 L196.5 565.4 L197.0 559.3 L197.5 563.2 L198.0 557.5 L198.5 561.6 L199.0 555.5 L199.5 559.1 L200.0 552.8 L200.5 557.8 L201.0 551.0 L201.4 555.3 L201.9 548.5 L202.4 554.1 L202.9 547.5 L203.4 551.2 L203.9 544.6 L204.4 549.6 L204.9 542.1 L205.4 546.9 L205.9 540.0 L206.4 545.0 L206.9 538.4 L207.4 542.6 L207.9 535.3 L208.4 540.6 L208.9 533.5 L209.4 537.9 L209.9 531.7 L210.4 535.1 L210.8 528.3 L211.3 532.9 L211.8 526.7 L212.3 530.6 L212.8 523.6 L213.3 528.4 L213.8 521.6 L214.3 525.6 L214.8 518.9 L215.3 523.6 L215.8 516.4 L216.3 520.6 L216.8 514.0 L217.3 517.6 L217.8 512.1 L218.3 516.1 L218.8 508.4 L219.3 513.4 L219.8 506.7 L220.3 510.4 L220.7 504.1 L221.2 509.0 L221.7 501.3 L222.2 506.0 L222.7 498.7 L223.2 503.1 L223.7 496.8 L224.2 501.7 L224.7 494.3 L225.2 498.6 L225.7 492.3 L226.2 496.4 L226.7 489.0 L227.2 493.3 L227.7 486.9 L228.2 492.1 L228.7 484.5 L229.2 489.7 L229.7 482.4 L230.1 487.2 L230.6 480.5 L231.1 484.9 L231.6 479.0 L232.1 483.3 L232.6 476.2 L233.1 480.3 L233.6 474.2 L234.1 478.6 L234.6 472.3 L235.1 476.4 L235.6 470.1 L236.1 474.9 L236.6 468.1 L237.1 472.7 L237.6 467.0 L238.1 470.6 L238.6 465.0 L239.1 469.3 L239.5 462.3 L240.0 467.9 L240.5 460.7 L241.0 466.2 L241.5 459.8 L242.0 464.7 L242.5 457.7 L243.0 462.1 L243.5 457.1 L244.0 460.6 L244.5 454.7 L245.0 459.5 L245.5 454.3 L246.0 458.8 L246.5 452.7 L247.0 456.8 L247.5 451.7 L248.0 456.3 L248.5 450.6 L249.0 454.9 L249.4 448.9 L249.9 454.1 L250.4 448.5 L250.9 453.3 L251.4 448.0 L251.9 452.3 L252.4 446.7 L252.9 451.3 L253.4 446.5 L253.9 451.7 L254.4 445.3 L254.9 450.2 L255.4 444.7 L255.9 450.5 L256.4 445.0 L256.9 449.0 L257.4 444.5 L257.9 449.7 L258.4 444.3 L258.8 449.5 L259.3 443.4 L259.8 449.2 L260.3 444.0 L260.8 449.7 L261.3 443.2 L261.8 449.2 L262.3 444.1 L262.8 449.5 L263.3 444.0 L263.8 449.6 L264.3 444.4 L264.8 450.0 L265.3 445.2 L265.8 450.0 L266.3 444.4 L266.8 451.3 L267.3 445.8 L267.8 451.9 L268.2 446.5 L268.7 452.7 L269.2 446.6 L269.7 452.7 L270.2 448.1 L270.7 453.0 L271.2 448.1 L271.7 454.0 L272.2 449.2 L272.7 456.3 L273.2 450.6 L273.7 456.3 L274.2 451.3 L274.7 458.5 L275.2 452.7 L275.7 459.2 L276.2 454.5 L276.7 460.3 L277.2 456.1 L277.7 462.1 L278.1 457.2 L278.6 462.9 L279.1 459.2 L279.6 465.1 L280.1 460.5 L280.6 466.5 L281.1 462.1 L281.6 468.7 L282.1 463.0 L282.6 469.3 L283.1 465.7 L283.6 471.5 L284.1 466.5 L284.6 474.0 L285.1 469.3 L285.6 475.2 L286.1 470.8 L286.6 478.0 L287.1 472.4 L287.5 479.3 L288.0 474.6 L288.5 481.9 L289.0 477.2 L289.5 484.4 L290.0 479.7 L290.5 486.3 L291.0 482.1 L291.5 487.7 L292.0 483.2 L292.5 490.0 L293.0 485.7 L293.5 492.8 L294.0 487.9 L294.5 494.8 L295.0 490.9 L295.5 497.1 L296.0 492.6 L296.5 499.9 L296.9 494.8 L297.4 502.7 L297.9 498.4 L298.4 504.7 L298.9 500.8 L299.4 506.4 L299.9 503.3 L300.4 510.0 L300.9 504.8 L301.4 512.4 L301.9 507.9 L302.4 514.6 L302.9 509.8 L303.4 516.7 L303.9 512.5 L304.4 519.0 L304.9 515.7 L305.4 521.5 L305.9 517.0 L306.3 524.4 L306.8 519.5 L307.3 526.7 L307.8 522.8 L308.3 529.6 L308.8 524.5 L309.3 531.0 L309.8 527.1 L310.3 533.5 L310.8 530.3 L311.3 537.0 L311.8 532.8 L312.3 538.5 L312.8 533.8 L313.3 541.1 L313.8 537.4 L314.3 543.1 L314.8 539.5 L315.3 546.1 L315.8 542.0 L316.2 548.6 L316.7 543.8 L317.2 550.9 L317.7 545.3 L318.2 552.1 L318.7 548.3 L319.2 554.5" stroke="#00ff00" stroke-width="1.00" fill="none" stroke-linejoin="round" clip-path="url(#cc)"/>
<path d="M182.2 581.2 L182.4 581.0 L182.7 580.8 L183.0 580.5 L183.2 580.3 L183.5 580.1 L183.8 579.9 L184.1 579.6 L184.3 579.4 L184.6 579.1 L184.9 578.9 L185.2 578.6 L185.4 578.3 L185.7 578.1 L186.0 577.8 L186.3 577.5 L186.5 577.2 L186.8 576.9 L187.1 576.6 L187.4 576.3 L187.6 576.0 L187.9 575.6 L188.2 575.3 L188.5 575.0 L188.7 574.6 L189.0 574.3 L189.3 573.9 L189.6 573.6 L189.8 573.2 L190.1 572.8 L190.4 572.4 L190.7 572.1 L190.9 571.7 L191.2 571.3 L191.5 570.9 L191.8 570.5 L192.0 570.0 L192.3 569.6 L192.6 569.2 L192.9 568.8 L193.1 568.3 L193.4 567.9 L193.7 567.5 L194.0 567.0 L194.2 566.6 L194.5 566.1 L194.8 565.6 L195.1 565.2 L195.3 564.7 L195.6 564.2 L195.9 563.7 L196.2 563.2 L196.4 562.7 L196.7 562.2 L197.0 561.7 L197.3 561.2 L197.5 560.7 L197.8 560.2 L198.1 559.7 L198.4 559.1 L198.6 558.6 L198.9 558.1 L199.2 557.5 L199.5 557.0 L199.7 556.4 L200.0 555.9 L200.3 555.3 L200.6 554.8 L200.8 554.2 L201.1 553.6 L201.4 553.1 L201.7 552.5 L201.9 551.9 L202.2 551.3 L202.5 550.7 L202.8 550.1 L203.0 549.5 L203.3 548.9 L203.6 548.3 L203.9 547.7 L204.1 547.1 L204.4 546.5 L204.7 545.9 L205.0 545.3 L205.2 544.7 L205.5 544.0 L205.8 543.4 L206.1 542.8 L206.3 542.2 L206.6 541.5 L206.9 540.9 L207.2 540.2 L207.4 539.6 L207.7 539.0 L208.0 538.3 L208.3 537.7 L208.5 537.0 L208.8 536.4 L209.1 535.7 L209.4 535.0 L209.6 534.4 L209.9 533.7 L210.2 533.1 L210.5 532.4 L210.7 531.7 L211.0 531.1 L211.3 530.4 L211.6 529.7 L211.8 529.0 L212.1 528.4 L212.4 527.7 L212.7 527.0 L212.9 526.3 L213.2 525.7 L213.5 525.0 L213.8 524.3 L214.0 523.6 L214.3 522.9 L214.6 522.2 L214.9 521.6 L215.1 520.9 L215.4 520.2 L215.7 519.5 L216.0 518.8 L216.2 518.1 L216.5 517.4 L216.8 516.7 L217.1 516.1 L217.3 515.4 L217.6 514.7 L217.9 514.0 L218.2 513.3 L218.4 512.6 L218.7 511.9 L219.0 511.2 L219.3 510.6 L219.5 509.9 L219.8 509.2 L220.1 508.5 L220.4 507.8 L220.6 507.1 L220.9 506.4 L221.2 505.8 L221.5 505.1 L221.7 504.4 L222.0 503.7 L222.3 503.0 L222.6 502.4 L222.8 501.7 L223.1 501.0 L223.4 500.3 L223.7 499.7 L223.9 499.0 L224.2 498.3 L224.5 497.7 L224.8 497.0 L225.0 496.3 L225.3 495.7 L225.6 495.0 L225.9 494.4 L226.1 493.7 L226.4 493.1 L226.7 492.4 L227.0 491.8 L227.2 491.1 L227.5 490.5 L227.8 489.8 L228.1 489.2 L228.3 488.5 L228.6 487.9 L228.9 487.3 L229.2 486.7 L229.4 486.0 L229.7 485.4 L230.0 484.8 L230.3 484.2 L230.5 483.6 L230.8 482.9 L231.1 482.3 L231.4 481.7 L231.6 481.1 L231.9 480.5 L232.2 479.9 L232.5 479.4 L232.7 478.8 L233.0 478.2 L233.3 477.6 L233.6 477.0 L233.8 476.5 L234.1 475.9 L234.4 475.3 L234.7 474.8 L234.9 474.2 L235.2 473.7 L235.5 473.1 L235.8 472.6 L236.0 472.0 L236.3 471.5 L236.6 471.0 L236.9 470.4 L237.1 469.9 L237.4 469.4 L237.7 468.9 L238.0 468.4 L238.2 467.9 L238.5 467.4 L238.8 466.9 L239.1 466.4 L239.3 465.9 L239.6 465.4 L239.9 465.0 L240.2 464.5 L240.4 464.0 L240.7 463.6 L241.0 463.1 L241.3 462.7 L241.5 462.2 L241.8 461.8 L242.1 461.4 L242.4 460.9 L242.6 460.5 L242.9 460.1 L243.2 459.7 L243.5 459.3 L243.7 458.9 L244.0 458.5 L244.3 458.1 L244.6 457.7 L244.8 457.3 L245.1 457.0 L245.4 456.6 L245.7 456.3 L245.9 455.9 L246.2 455.6 L246.5 455.2 L246.8 454.9 L247.0 454.5 L247.3 454.2 L247.6 453.9 L247.9 453.6 L248.1 453.3 L248.4 453.0 L248.7 452.7 L249.0 452.4 L249.2 452.1 L249.5 451.9 L249.8 451.6 L250.1 451.3 L250.3 451.1 L250.6 450.8 L250.9 450.6 L251.1 450.3 L251.4 450.1 L251.7 449.9 L252.0 449.7 L252.2 449.5 L252.5 449.3 L252.8 449.1 L253.1 448.9 L253.3 448.7 L253.6 448.5 L253.9 448.4 L254.2 448.2 L254.4 448.0 L254.7 447.9 L255.0 447.7 L255.3 447.6 L255.5 447.5 L255.8 447.4 L256.1 447.2 L256.4 447.1 L256.6 447.0 L256.9 446.9 L257.2 446.8 L257.5 446.8 L257.7 446.7 L258.0 446.6 L258.3 446.6 L258.6 446.5 L258.8 446.5 L259.1 446.4 L259.4 446.4 L259.7 446.4 L259.9 446.3 L260.2 446.3 L260.5 446.3 L260.8 446.3 L261.0 446.3 L261.3 446.3 L261.6 446.4 L261.9 446.4 L262.1 446.4 L262.4 446.5 L262.7 446.5 L263.0 446.6 L263.2 446.6 L263.5 446.7 L263.8 446.8 L264.1 446.9 L264.3 447.0 L264.6 447.0 L264.9 447.2 L265.2 447.3 L265.4 447.4 L265.7 447.5 L266.0 447.6 L266.3 447.8 L266.5 447.9 L266.8 448.1 L267.1 448.2 L267.4 448.4 L267.6 448.6 L267.9 448.7 L268.2 448.9 L268.5 449.1 L268.7 449.3 L269.0 449.5 L269.3 449.7 L269.6 449.9 L269.8 450.2 L270.1 450.4 L270.4 450.6 L270.7 450.9 L270.9 451.1 L271.2 451.4 L271.5 451.6 L271.8 451.9 L272.0 452.2 L272.3 452.5 L272.6 452.8 L272.9 453.1 L273.1 453.4 L273.4 453.7 L273.7 454.0 L274.0 454.3 L274.2 454.6 L274.5 454.9 L274.8 455.3 L275.1 455.6 L275.3 456.0 L275.6 456.3 L275.9 456.7 L276.2 457.1 L276.4 457.4 L276.7 457.8 L277.0 458.2 L277.3 458.6 L277.5 459.0 L277.8 459.4 L278.1 459.8 L278.4 460.2 L278.6 460.6 L278.9 461.0 L279.2 461.5 L279.5 461.9 L279.7 462.3 L280.0 462.8 L280.3 463.2 L280.6 463.7 L280.8 464.1 L281.1 464.6 L281.4 465.1 L281.7 465.5 L281.9 466.0 L282.2 466.5 L282.5 467.0 L282.8 467.5 L283.0 468.0 L283.3 468.5 L283.6 469.0 L283.9 469.5 L284.1 470.0 L284.4 470.6 L284.7 471.1 L285.0 471.6 L285.2 472.1 L285.5 472.7 L285.8 473.2 L286.1 473.8 L286.3 474.3 L286.6 474.9 L286.9 475.4 L287.2 476.0 L287.4 476.6 L287.7 477.2 L288.0 477.7 L288.3 478.3 L288.5 478.9 L288.8 479.5 L289.1 480.1 L289.4 480.7 L289.6 481.3 L289.9 481.9 L290.2 482.5 L290.5 483.1 L290.7 483.7 L291.0 484.3 L291.3 484.9 L291.6 485.5 L291.8 486.2 L292.1 486.8 L292.4 487.4 L292.7 488.0 L292.9 488.7 L293.2 489.3 L293.5 490.0 L293.8 490.6 L294.0 491.2 L294.3 491.9 L294.6 492.5 L294.9 493.2 L295.1 493.8 L295.4 494.5 L295.7 495.2 L296.0 495.8 L296.2 496.5 L296.5 497.1 L296.8 497.8 L297.1 498.5 L297.3 499.1 L297.6 499.8 L297.9 500.5 L298.2 501.2 L298.4 501.8 L298.7 502.5 L299.0 503.2 L299.3 503.9 L299.5 504.5 L299.8 505.2 L300.1 505.9 L300.4 506.6 L300.6 507.3 L300.9 508.0 L301.2 508.6 L301.5 509.3 L301.7 510.0 L302.0 510.7 L302.3 511.4 L302.6 512.1 L302.8 512.8 L303.1 513.4 L303.4 514.1 L303.7 514.8 L303.9 515.5 L304.2 516.2 L304.5 516.9 L304.8 517.6 L305.0 518.3 L305.3 518.9 L305.6 519.6 L305.9 520.3 L306.1 521.0 L306.4 521.7 L306.7 522.4 L307.0 523.1 L307.2 523.7 L307.5 524.4 L307.8 525.1 L308.1 525.8 L308.3 526.5 L308.6 527.1 L308.9 527.8 L309.2 528.5 L309.4 529.2 L309.7 529.9 L310.0 530.5 L310.3 531.2 L310.5 531.9 L310.8 532.5 L311.1 533.2 L311.4 533.9 L311.6 534.5 L311.9 535.2 L312.2 535.8 L312.5 536.5 L312.7 537.1 L313.0 537.8 L313.3 538.4 L313.6 539.1 L313.8 539.7 L314.1 540.4 L314.4 541.0 L314.7 541.7 L314.9 542.3 L315.2 542.9 L315.5 543.5 L315.8 544.2 L316.0 544.8 L316.3 545.4 L316.6 546.0 L316.9 546.6 L317.1 547.3 L317.4 547.9 L317.7 548.5 L318.0 549.1 L318.2 549.7 L318.5 550.3 L318.8 550.8 L319.1 551.4 L319.3 552.0 L319.6 552.6" stroke="#00ff00" stroke-width="2.40" fill="none" stroke-linejoin="round" clip-path="url(#cc)"/>
<path d="M44.7 490.4 L44.8 491.6 L44.8 493.4 L44.9 495.4 L45.0 497.6 L45.1 499.6 L45.2 501.4 L45.3 502.9 L45.3 504.3 L45.4 505.7 L45.4 506.9 L45.5 508.0 L45.5 509.0 L45.6 509.8 L45.6 510.4 L45.6 510.9 L45.7 511.4 L45.7 511.7 L45.7 512.0 L45.8 512.2 L45.9 512.2 L45.9 512.1 L46.8 509.8 L47.8 507.5 L48.7 505.2 L49.6 503.0 L50.5 500.7 L51.4 498.5 L52.3 496.3 L53.2 494.1 L54.1 492.0 L55.1 489.8 L56.0 487.7 L56.9 485.6 L57.8 483.6 L58.7 481.6 L59.6 479.6 L60.5 477.7 L61.4 475.8 L62.4 473.9 L63.3 472.1 L64.2 470.4 L65.1 468.6 L66.0 467.0 L66.9 465.4 L67.8 463.8 L68.7 462.3 L69.7 460.9 L70.6 459.5 L71.5 458.2 L72.4 457.0 L73.3 455.8 L74.2 454.6 L75.1 453.6 L76.0 452.6 L77.0 451.7 L77.9 450.8 L78.8 450.1 L79.7 449.4 L80.6 448.7 L81.5 448.2 L82.4 447.7 L83.3 447.3 L84.2 446.9 L85.2 446.7 L86.1 446.5 L87.0 446.4 L87.9 446.3 L88.8 446.4 L89.7 446.5 L90.6 446.7 L91.5 446.9 L92.5 447.3 L93.4 447.7 L94.3 448.2 L95.2 448.7 L96.1 449.4 L97.0 450.1 L97.9 450.9 L98.8 451.7 L99.8 452.6 L100.7 453.6 L101.6 454.7 L102.5 455.8 L103.4 457.0 L104.3 458.3 L105.2 459.6 L106.1 461.0 L107.1 462.4 L108.0 463.9 L108.9 465.4 L109.8 467.0 L110.7 468.7 L111.6 470.4 L112.5 472.2 L113.4 474.0 L114.4 475.8 L115.3 477.7 L116.2 479.7 L117.1 481.6 L118.0 483.7 L118.9 485.7 L119.8 487.8 L120.7 489.9 L121.7 492.0 L122.6 494.2 L123.5 496.4 L124.4 498.6 L125.3 500.8 L126.2 503.1 L127.1 505.3 L128.0 507.6 L128.9 509.9 L129.9 512.1 L130.8 514.4 L131.7 516.7 L132.6 519.0 L133.5 521.3 L134.4 523.5 L135.3 525.8 L136.2 528.1 L137.2 530.3 L138.1 532.5 L139.0 534.7 L139.9 536.9 L140.8 539.0 L141.7 541.2 L142.6 543.3 L143.5 545.3 L144.5 547.4 L145.4 549.4 L146.3 551.3 L147.2 553.3 L148.1 555.1 L149.0 557.0 L149.9 558.8 L150.8 560.5 L151.8 562.2 L152.7 563.8 L153.6 565.4 L154.5 567.0 L155.4 568.4 L156.3 569.9 L157.2 571.2 L158.1 572.5 L159.1 573.7 L160.0 574.9 L160.9 576.0 L161.8 577.0 L162.7 578.0 L163.6 578.9 L164.5 579.7 L165.4 580.5 L166.3 581.2 L167.3 581.8 L168.2 582.3 L169.1 582.8 L170.0 583.2 L170.9 583.5 L171.8 583.7 L172.7 583.9 L173.6 584.0 L174.6 584.0 L175.5 583.9 L176.4 583.8 L177.3 583.6 L178.2 583.3 L179.1 582.9 L180.0 582.5 L180.9 581.9 L181.9 581.4 L182.8 580.7 L183.7 580.0 L184.6 579.2 L185.5 578.3 L186.4 577.3 L187.3 576.3 L188.2 575.3 L189.2 574.1 L190.1 572.9 L191.0 571.6 L191.9 570.3 L192.8 568.9 L193.7 567.4 L194.6 565.9 L195.5 564.3 L196.5 562.7 L197.4 561.0 L198.3 559.3 L199.2 557.5 L200.1 555.7 L201.0 553.8 L201.9 551.9 L202.8 550.0 L203.7 548.0 L204.7 546.0 L205.6 543.9 L206.5 541.8 L207.4 539.7 L208.3 537.6 L209.2 535.4 L210.1 533.2 L211.0 531.0 L212.0 528.7 L212.9 526.5 L213.8 524.2 L214.7 522.0 L215.6 519.7 L216.5 517.4 L217.4 515.1 L218.3 512.8 L219.3 510.6 L220.2 508.3 L221.1 506.0 L222.0 503.8 L222.9 501.5 L223.8 499.3 L224.7 497.1 L225.6 494.9 L226.6 492.7 L227.5 490.6 L228.4 488.4 L229.3 486.4 L230.2 484.3 L231.1 482.3 L232.0 480.3 L232.9 478.3 L233.9 476.4 L234.8 474.6 L235.7 472.7 L236.6 471.0 L237.5 469.2 L238.4 467.6 L239.3 465.9 L240.2 464.4 L241.1 462.8 L242.1 461.4 L243.0 460.0 L243.9 458.7 L244.8 457.4 L245.7 456.2 L246.6 455.0 L247.5 454.0 L248.4 452.9 L249.4 452.0 L250.3 451.1 L251.2 450.3 L252.1 449.6 L253.0 448.9 L253.9 448.3 L254.8 447.8 L255.7 447.4 L256.7 447.0 L257.6 446.7 L258.5 446.5 L259.4 446.4 L260.3 446.3 L261.2 446.3 L262.1 446.4 L263.0 446.6 L264.0 446.8 L264.9 447.1 L265.8 447.5 L266.7 448.0 L267.6 448.5 L268.5 449.1 L269.4 449.8 L270.3 450.6 L271.3 451.4 L272.2 452.3 L273.1 453.3 L274.0 454.3 L274.9 455.4 L275.8 456.6 L276.7 457.8 L277.6 459.1 L278.6 460.5 L279.5 461.9 L280.4 463.4 L281.3 464.9 L282.2 466.5 L283.1 468.1 L284.0 469.8 L284.9 471.6 L285.8 473.4 L286.8 475.2 L287.7 477.1 L288.6 479.0 L289.5 481.0 L290.4 483.0 L291.3 485.0 L292.2 487.1 L293.1 489.2 L294.1 491.3 L295.0 493.4 L295.9 495.6 L296.8 497.8 L297.7 500.0 L298.6 502.3 L299.5 504.5 L300.4 506.8 L301.4 509.1 L302.3 511.3 L303.2 513.6 L304.1 515.9 L305.0 518.2 L305.9 520.5 L306.8 522.8 L307.7 525.0 L308.7 527.3 L309.6 529.5 L310.5 531.7 L311.4 533.9 L312.3 536.1 L313.2 538.3 L314.1 540.4 L315.0 542.5 L316.0 544.6 L316.9 546.7 L317.8 548.7 L318.7 550.7 L319.6 552.6" stroke="#000000" stroke-width="1.30" fill="none" stroke-dasharray="3 4" stroke-linejoin="round" clip-path="url(#cc)"/>
<path d="M44.7 515.1 L45.6 512.9 L46.5 510.6 L47.4 508.3 L48.4 506.0 L49.3 503.7 L50.2 501.5 L51.1 499.2 L52.0 497.0 L52.9 494.8 L53.9 492.6 L54.8 490.5 L55.7 488.3 L56.6 486.2 L57.5 484.2 L58.4 482.1 L59.4 480.2 L60.3 478.2 L61.2 476.3 L62.1 474.4 L63.0 472.6 L63.9 470.8 L64.9 469.1 L65.8 467.4 L66.7 465.8 L67.6 464.2 L68.5 462.7 L69.4 461.2 L70.4 459.8 L71.3 458.5 L72.2 457.2 L73.1 456.0 L74.0 454.9 L74.9 453.8 L75.9 452.8 L76.8 451.9 L77.7 451.0 L78.6 450.2 L79.5 449.5 L80.4 448.8 L81.4 448.2 L82.3 447.7 L83.2 447.3 L84.1 447.0 L85.0 446.7 L85.9 446.5 L86.9 446.4 L87.8 446.3 L88.7 446.3 L89.6 446.5 L90.5 446.6 L91.4 446.9 L92.3 447.2 L93.3 447.6 L94.2 448.1 L95.1 448.7 L96.0 449.3 L96.9 450.0 L97.8 450.8 L98.8 451.6 L99.7 452.6 L100.6 453.5 L101.5 454.6 L102.4 455.7 L103.3 456.9 L104.3 458.2 L105.2 459.5 L106.1 460.9 L107.0 462.3 L107.9 463.8 L108.8 465.4 L109.8 467.0 L110.7 468.7 L111.6 470.4 L112.5 472.1 L113.4 474.0 L114.3 475.8 L115.3 477.7 L116.2 479.7 L117.1 481.7 L118.0 483.7 L118.9 485.7 L119.8 487.8 L120.8 489.9 L121.7 492.1 L122.6 494.3 L123.5 496.5 L124.4 498.7 L125.3 500.9 L126.3 503.2 L127.2 505.4 L128.1 507.7 L129.0 510.0 L129.9 512.3 L130.8 514.6 L131.8 516.9 L132.7 519.2 L133.6 521.5 L134.5 523.7 L135.4 526.0 L136.3 528.3 L137.2 530.5 L138.2 532.7 L139.1 534.9 L140.0 537.1 L140.9 539.3 L141.8 541.4 L142.7 543.5 L143.7 545.6 L144.6 547.7 L145.5 549.7 L146.4 551.6 L147.3 553.5 L148.2 555.4 L149.2 557.3 L150.1 559.1 L151.0 560.8 L151.9 562.5 L152.8 564.1 L153.7 565.7 L154.7 567.2 L155.6 568.7 L156.5 570.1 L157.4 571.5 L158.3 572.8 L159.2 574.0 L160.2 575.1 L161.1 576.2 L162.0 577.3 L162.9 578.2 L163.8 579.1 L164.7 579.9 L165.7 580.7 L166.6 581.3 L167.5 581.9 L168.4 582.4 L169.3 582.9 L170.2 583.3 L171.2 583.5 L172.1 583.8 L173.0 583.9 L173.9 584.0 L174.8 584.0 L175.7 583.9 L176.7 583.7 L177.6 583.5 L178.5 583.2 L179.4 582.8 L180.3 582.3 L181.2 581.8 L182.2 581.2 L183.1 580.5 L184.0 579.7 L184.9 578.9 L185.8 578.0 L186.7 577.0 L187.6 576.0 L188.6 574.9 L189.5 573.7 L190.4 572.4 L191.3 571.1 L192.2 569.8 L193.1 568.3 L194.1 566.9 L195.0 565.3 L195.9 563.7 L196.8 562.1 L197.7 560.4 L198.6 558.6 L199.6 556.8 L200.5 554.9 L201.4 553.1 L202.3 551.1 L203.2 549.1 L204.1 547.1 L205.1 545.1 L206.0 543.0 L206.9 540.9 L207.8 538.7 L208.7 536.6 L209.6 534.4 L210.6 532.2 L211.5 529.9 L212.4 527.7 L213.3 525.4 L214.2 523.2 L215.1 520.9 L216.1 518.6 L217.0 516.3 L217.9 514.0 L218.8 511.7 L219.7 509.4 L220.6 507.1 L221.6 504.9 L222.5 502.6 L223.4 500.3 L224.3 498.1 L225.2 495.9 L226.1 493.7 L227.1 491.5 L228.0 489.4 L228.9 487.3 L229.8 485.2 L230.7 483.2 L231.6 481.1 L232.5 479.2 L233.5 477.2 L234.4 475.3 L235.3 473.5 L236.2 471.7 L237.1 469.9 L238.0 468.2 L239.0 466.6 L239.9 465.0 L240.8 463.4 L241.7 461.9 L242.6 460.5 L243.5 459.2 L244.5 457.9 L245.4 456.6 L246.3 455.4 L247.2 454.3 L248.1 453.3 L249.0 452.3 L250.0 451.4 L250.9 450.6 L251.8 449.8 L252.7 449.1 L253.6 448.5 L254.5 448.0 L255.5 447.5 L256.4 447.1 L257.3 446.8 L258.2 446.6 L259.1 446.4 L260.0 446.3 L261.0 446.3 L261.9 446.4 L262.8 446.5 L263.7 446.8 L264.6 447.0 L265.5 447.4 L266.5 447.9 L267.4 448.4 L268.3 449.0 L269.2 449.7 L270.1 450.4 L271.0 451.2 L272.0 452.1 L272.9 453.1 L273.8 454.1 L274.7 455.2 L275.6 456.3 L276.5 457.5 L277.4 458.8 L278.4 460.2 L279.3 461.6 L280.2 463.1 L281.1 464.6 L282.0 466.2 L282.9 467.8 L283.9 469.5 L284.8 471.3 L285.7 473.0 L286.6 474.9 L287.5 476.8 L288.4 478.7 L289.4 480.7 L290.3 482.7 L291.2 484.7 L292.1 486.8 L293.0 488.9 L293.9 491.0 L294.9 493.2 L295.8 495.4 L296.7 497.6 L297.6 499.8 L298.5 502.1 L299.4 504.3 L300.4 506.6 L301.3 508.9 L302.2 511.2 L303.1 513.4 L304.0 515.7 L304.9 518.0 L305.9 520.3 L306.8 522.6 L307.7 524.9 L308.6 527.1 L309.5 529.4 L310.4 531.6 L311.4 533.9 L312.3 536.1 L313.2 538.2 L314.1 540.4 L315.0 542.5 L315.9 544.6 L316.9 546.6 L317.8 548.7 L318.7 550.7 L319.6 552.6" stroke="#ff0000" stroke-width="1.60" fill="none" stroke-dasharray="5.5 3.5" stroke-linejoin="round" clip-path="url(#cc)"/>
<path d="M44.70 618.40v-2.50M44.70 411.90v2.50M99.68 618.40v-2.50M99.68 411.90v2.50M154.66 618.40v-2.50M154.66 411.90v2.50M209.64 618.40v-2.50M209.64 411.90v2.50M264.62 618.40v-2.50M264.62 411.90v2.50M319.60 618.40v-2.50M319.60 411.90v2.50M44.70 618.40h2.50M319.60 618.40h-2.50M44.70 583.98h2.50M319.60 583.98h-2.50M44.70 549.57h2.50M319.60 549.57h-2.50M44.70 515.15h2.50M319.60 515.15h-2.50M44.70 480.73h2.50M319.60 480.73h-2.50M44.70 446.32h2.50M319.60 446.32h-2.50M44.70 411.90h2.50M319.60 411.90h-2.50" stroke="#404040" stroke-width="0.8" fill="none"/>
<rect x="44.70" y="411.90" width="274.90" height="206.50" fill="none" stroke="#404040" stroke-width="1.20"/>
<text x="44.70" y="633.70" font-size="10.50" text-anchor="middle" fill="#262626" font-family='"Liberation Serif", serif' font-weight="normal">0</text>
<text x="99.68" y="633.70" font-size="10.50" text-anchor="middle" fill="#262626" font-family='"Liberation Serif", serif' font-weight="normal">2</text>
<text x="154.66" y="633.70" font-size="10.50" text-anchor="middle" fill="#262626" font-family='"Liberation Serif", serif' font-weight="normal">4</text>
<text x="209.64" y="633.70" font-size="10.50" text-anchor="middle" fill="#262626" font-family='"Liberation Serif", serif' font-weight="normal">6</text>
<text x="264.62" y="633.70" font-size="10.50" text-anchor="middle" fill="#262626" font-family='"Liberation Serif", serif' font-weight="normal">8</text>
<text x="319.60" y="633.70" font-size="10.50" text-anchor="middle" fill="#262626" font-family='"Liberation Serif", serif' font-weight="normal">10</text>
<text x="40.20" y="622.60" font-size="10.50" text-anchor="end" fill="#262626" font-family='"Liberation Serif", serif' font-weight="normal">-1.5</text>
<text x="40.20" y="588.18" font-size="10.50" text-anchor="end" fill="#262626" font-family='"Liberation Serif", serif' font-weight="normal">-1</text>
<text x="40.20" y="553.77" font-size="10.50" text-anchor="end" fill="#262626" font-family='"Liberation Serif", serif' font-weight="normal">-0.5</text>
<text x="40.20" y="519.35" font-size="10.50" text-anchor="end" fill="#262626" font-family='"Liberation Serif", serif' font-weight="normal">0</text>
<text x="40.20" y="484.93" font-size="10.50" text-anchor="end" fill="#262626" font-family='"Liberation Serif", serif' font-weight="normal">0.5</text>
<text x="40.20" y="450.52" font-size="10.50" text-anchor="end" fill="#262626" font-family='"Liberation Serif", serif' font-weight="normal">1</text>
<text x="40.20" y="416.10" font-size="10.50" text-anchor="end" fill="#262626" font-family='"Liberation Serif", serif' font-weight="normal">1.5</text>
<text x="182.05" y="648.90" font-size="12.00" text-anchor="middle" fill="#262626" font-family='"Liberation Serif", serif' font-weight="normal" textLength="34.50" lengthAdjust="spacingAndGlyphs">time(s)</text>
<text transform="translate(10.80,515.30) rotate(-90)" font-size="12.50" text-anchor="middle" fill="#262626" font-family='"Liberation Serif", serif' textLength="83.00" lengthAdjust="spacingAndGlyphs">Position x<tspan font-size="8.75" dy="3.75">1</tspan><tspan dy="-3.75"> (rad)</tspan></text>
<rect x="80.20" y="345.00" width="183.40" height="89.90" fill="#fff" stroke="#404040" stroke-width="1.1"/>
<line x1="82.00" y1="356.50" x2="107.00" y2="356.50" stroke="#0000ff" stroke-width="1.30"/>
<text x="110.00" y="359.46" font-size="10.50" text-anchor="start" fill="#262626" font-family='"Liberation Serif", serif' font-weight="normal" textLength="149.40" lengthAdjust="spacingAndGlyphs">Sigmoid function  1/(1+exp(-a.x+b)</text>
<line x1="82.00" y1="373.50" x2="107.00" y2="373.50" stroke="#ff0000" stroke-width="1.00" stroke-dasharray="1 1"/>
<text x="110.00" y="377.06" font-size="10.50" text-anchor="start" fill="#262626" font-family='"Liberation Serif", serif' font-weight="normal" textLength="149.75" lengthAdjust="spacingAndGlyphs"> HTF(1-exp(-a.x+b)/1+exp(-a.x+b))</text>
<line x1="82.00" y1="391.50" x2="107.00" y2="391.50" stroke="#00ff00" stroke-width="1.10" stroke-dasharray="4 1 2 1"/>
<text x="110.00" y="394.56" font-size="10.50" text-anchor="start" fill="#262626" font-family='"Liberation Serif", serif' font-weight="normal" textLength="75.86" lengthAdjust="spacingAndGlyphs">Cosine cos(a.x+b)</text>
<line x1="82.00" y1="408.50" x2="107.00" y2="408.50" stroke="#333" stroke-width="1.50" stroke-dasharray="5.00"/>
<text x="110.00" y="411.46" font-size="10.50" text-anchor="start" fill="#262626" font-family='"Liberation Serif", serif' font-weight="normal" textLength="132.25" lengthAdjust="spacingAndGlyphs">Hard limit Function  cos(a.x+b)</text>
<line x1="82.00" y1="425.50" x2="107.00" y2="425.50" stroke="#ff0000" stroke-width="2.20" stroke-dasharray="6.62"/>
<text x="110.00" y="428.76" font-size="10.50" text-anchor="start" fill="#262626" font-family='"Liberation Serif", serif' font-weight="normal" textLength="42.20" lengthAdjust="spacingAndGlyphs">Reference</text>
<text x="183.15" y="668.60" font-size="16.80" text-anchor="middle" fill="#000" font-family='"Liberation Sans", sans-serif' font-weight="bold" textLength="18.70" lengthAdjust="spacingAndGlyphs">(c)</text>
<path d="M439.16 370.30V619.00M497.62 370.30V619.00M556.08 370.30V619.00M614.54 370.30V619.00M380.70 594.13H673.00M380.70 569.26H673.00M380.70 544.39H673.00M380.70 519.52H673.00M380.70 494.65H673.00M380.70 469.78H673.00M380.70 444.91H673.00M380.70 420.04H673.00M380.70 395.17H673.00" stroke="#e2e2e2" stroke-width="1.00" fill="none"/>
<path d="M527.0 452.0 L527.5 449.5 L528.0 447.0 L528.5 444.5 L529.0 442.0 L529.5 439.5 L530.0 436.7 L530.5 436.7 L531.0 436.7 L531.5 436.6 L532.0 436.6 L532.5 436.4 L533.0 436.3 L533.5 436.1 L534.0 435.9 L534.5 435.7 L535.0 435.5 L535.5 435.2 L536.0 435.0 L536.5 434.8 L537.0 434.7 L537.5 434.5 L538.0 434.4 L538.5 434.3 L539.0 434.3 L539.5 434.3 L540.0 434.4 L540.5 434.4 L541.0 434.6 L541.5 434.7 L542.0 434.9 L542.5 435.1 L543.0 435.3 L543.5 435.5 L544.0 435.8 L544.5 436.0 L545.0 436.2 L545.5 436.3 L546.0 436.5 L546.5 436.6 L547.0 436.7 L547.5 436.7 L548.0 436.7 L548.5 436.6 L549.0 436.6 L549.5 436.4 L550.0 436.3 L550.5 436.1 L551.0 435.9 L551.5 435.7 L552.0 435.5 L552.5 435.2 L553.0 435.0 L553.5 434.8 L554.0 434.7 L554.5 434.5 L555.0 434.4 L555.5 434.3 L556.0 434.3 L556.5 434.3 L557.0 434.4 L557.5 434.4 L558.0 434.6 L558.5 434.7 L559.0 434.9 L559.5 435.1 L560.0 435.3 L560.5 435.5 L561.0 435.8 L561.5 436.0 L562.0 436.2 L562.5 436.3 L563.0 436.5 L563.5 436.6 L564.0 436.7 L564.5 436.7 L565.0 436.7 L565.5 436.6 L566.0 436.6 L566.5 436.4 L567.0 436.3 L567.5 436.1 L568.0 435.9 L568.5 435.7 L569.0 435.4 L569.5 435.2 L570.0 435.0 L570.5 434.8 L571.0 434.7 L571.5 434.5 L572.0 434.4 L572.5 434.3 L573.0 434.3 L573.5 434.3 L574.0 434.4 L574.5 434.5 L575.0 434.6 L575.5 434.7 L576.0 434.9 L576.5 435.1 L577.0 435.3 L577.5 435.6 L578.0 435.8 L578.5 436.0 L579.0 436.2 L579.5 436.3 L580.0 436.5 L580.5 436.6 L581.0 436.7 L581.5 436.7 L582.0 436.7 L582.5 436.6 L583.0 436.5 L583.5 436.4 L584.0 436.3 L584.5 436.1 L585.0 435.9 L585.5 435.7 L586.0 435.4 L586.5 435.2 L587.0 435.0 L587.5 434.8 L588.0 434.6 L588.5 434.5 L589.0 434.4 L589.5 434.3 L590.0 434.3 L590.5 434.3 L591.0 434.4 L591.5 434.5 L592.0 434.6 L592.5 434.7 L593.0 434.9 L593.5 435.1 L594.0 435.3 L594.5 435.6 L595.0 435.8 L595.5 436.0 L596.0 436.2 L596.5 436.4 L597.0 436.5 L597.5 436.6 L598.0 436.7 L598.5 436.7 L599.0 436.7 L599.5 436.6 L600.0 436.5 L600.5 436.4 L601.0 436.3 L601.5 436.1 L602.0 435.9 L602.5 435.7 L603.0 435.4 L603.5 435.2 L604.0 435.0 L604.5 434.8 L605.0 434.6 L605.5 434.5 L606.0 434.4 L606.5 434.3 L607.0 434.3 L607.5 434.3 L608.0 434.4 L608.5 434.5 L609.0 434.6 L609.5 434.7 L610.0 434.9 L610.5 435.1 L611.0 435.4 L611.5 435.6 L612.0 435.8 L612.5 436.0 L613.0 436.8 L613.5 436.9 L614.0 437.1 L614.5 437.3 L615.0 437.6 L615.5 437.8 L616.0 438.1 L616.5 438.4 L617.0 438.7 L617.5 438.9 L618.0 439.1 L618.5 439.2 L619.0 439.2 L619.5 439.1 L620.0 439.0 L620.5 438.8 L621.0 438.6 L621.5 438.3 L622.0 438.0 L622.5 437.7 L623.0 437.4 L623.5 437.2 L624.0 437.0 L624.5 436.9 L625.0 436.8 L625.5 436.8 L626.0 436.9 L626.5 437.1 L627.0 437.3 L627.5 437.5 L628.0 437.8 L628.5 438.1 L629.0 438.4 L629.5 438.7 L630.0 438.9 L630.5 439.1 L631.0 439.2 L631.5 439.2 L632.0 439.2 L632.5 439.0 L633.0 438.9 L633.5 438.6 L634.0 438.4 L634.5 438.1 L635.0 437.8 L635.5 437.5 L636.0 437.2 L636.5 437.0 L637.0 436.9 L637.5 436.8 L638.0 438.0 L638.5 438.9 L639.0 439.8 L639.5 440.7 L640.0 441.6 L640.5 442.5 L641.0 443.4 L641.5 444.3 L642.0 445.5 L642.5 445.4 L643.0 445.2 L643.5 445.1 L644.0 445.0 L644.5 444.9 L645.0 444.7 L645.5 444.6 L646.0 444.5 L646.5 444.4 L647.0 444.3 L647.5 444.2 L648.0 444.1 L648.5 444.0 L649.0 443.9 L649.5 443.8 L650.0 443.8 L650.5 443.7 L651.0 443.7 L651.5 443.6 L652.0 443.6 L652.5 443.5 L653.0 443.5 L653.5 443.5 L654.0 443.5 L654.5 443.5 L655.0 443.5 L655.5 443.5 L656.0 443.6 L656.5 443.6 L657.0 443.7 L657.5 443.7 L658.0 443.8 L658.5 443.8 L659.0 443.9 L659.5 444.0 L660.0 444.1 L660.5 444.2 L661.0 444.3 L661.5 444.4 L662.0 444.5 L662.5 444.6 L663.0 444.7 L663.5 444.9 L664.0 445.0 L664.5 445.1 L665.0 445.2 L665.5 445.4 L666.0 441.0 L666.5 441.0 L667.0 441.0 L667.5 441.0 L668.0 441.0 L668.5 441.0 L669.0 441.0 L669.5 441.0 L670.0 441.0 L670.5 441.0 L671.0 441.0 L671.5 441.0 L672.0 441.0 L672.0 551.8 L671.5 551.7 L671.0 551.7 L670.5 551.6 L670.0 551.5 L669.5 551.4 L669.0 551.3 L668.5 551.3 L668.0 551.2 L667.5 551.1 L667.0 551.0 L666.5 551.0 L666.0 550.9 L665.5 550.8 L665.0 550.8 L664.5 550.7 L664.0 550.6 L663.5 550.6 L663.0 550.5 L662.5 550.4 L662.0 550.4 L661.5 550.3 L661.0 550.3 L660.5 550.2 L660.0 550.2 L659.5 550.2 L659.0 550.1 L658.5 550.1 L658.0 550.1 L657.5 550.1 L657.0 550.0 L656.5 550.0 L656.0 550.0 L655.5 550.0 L655.0 550.0 L654.5 550.0 L654.0 550.0 L653.5 550.0 L653.0 550.0 L652.5 550.1 L652.0 550.1 L651.5 550.1 L651.0 550.1 L650.5 550.2 L650.0 550.2 L649.5 550.2 L649.0 550.3 L648.5 550.3 L648.0 550.4 L647.5 550.4 L647.0 550.5 L646.5 550.6 L646.0 550.6 L645.5 550.7 L645.0 550.8 L644.5 550.8 L644.0 550.9 L643.5 551.0 L643.0 551.0 L642.5 551.1 L642.0 551.2 L641.5 551.3 L641.0 551.3 L640.5 551.4 L640.0 551.5 L639.5 551.3 L639.0 550.9 L638.5 550.5 L638.0 550.1 L637.5 549.7 L637.0 549.3 L636.5 548.9 L636.0 548.5 L635.5 548.5 L635.0 548.5 L634.5 548.5 L634.0 548.5 L633.5 548.5 L633.0 548.5 L632.5 548.5 L632.0 548.5 L631.5 548.5 L631.0 548.5 L630.5 548.5 L630.0 548.5 L629.5 548.5 L629.0 548.5 L628.5 548.5 L628.0 548.5 L627.5 548.5 L627.0 548.5 L626.5 548.5 L626.0 548.5 L625.5 548.5 L625.0 548.5 L624.5 548.5 L624.0 548.5 L623.5 548.5 L623.0 548.5 L622.5 548.5 L622.0 548.5 L621.5 548.5 L621.0 548.5 L620.5 548.5 L620.0 548.5 L619.5 548.5 L619.0 548.5 L618.5 548.5 L618.0 548.5 L617.5 548.5 L617.0 548.5 L616.5 548.5 L616.0 548.5 L615.5 548.5 L615.0 548.5 L614.5 548.5 L614.0 548.5 L613.5 548.5 L613.0 548.5 L612.5 545.8 L612.0 545.5 L611.5 545.3 L611.0 545.1 L610.5 545.0 L610.0 544.9 L609.5 544.8 L609.0 544.8 L608.5 544.8 L608.0 544.9 L607.5 545.1 L607.0 545.2 L606.5 545.4 L606.0 545.7 L605.5 545.9 L605.0 546.2 L604.5 546.4 L604.0 546.6 L603.5 546.8 L603.0 547.0 L602.5 547.1 L602.0 547.2 L601.5 547.2 L601.0 547.2 L600.5 547.1 L600.0 547.0 L599.5 546.8 L599.0 546.6 L598.5 546.4 L598.0 546.2 L597.5 545.9 L597.0 545.7 L596.5 545.4 L596.0 545.2 L595.5 545.1 L595.0 544.9 L594.5 544.8 L594.0 544.8 L593.5 544.8 L593.0 544.9 L592.5 545.0 L592.0 545.1 L591.5 545.3 L591.0 545.5 L590.5 545.8 L590.0 546.0 L589.5 546.2 L589.0 546.5 L588.5 546.7 L588.0 546.9 L587.5 547.0 L587.0 547.1 L586.5 547.2 L586.0 547.2 L585.5 547.2 L585.0 547.1 L584.5 546.9 L584.0 546.8 L583.5 546.5 L583.0 546.3 L582.5 546.1 L582.0 545.8 L581.5 545.6 L581.0 545.4 L580.5 545.2 L580.0 545.0 L579.5 544.9 L579.0 544.8 L578.5 544.8 L578.0 544.8 L577.5 544.9 L577.0 545.0 L576.5 545.2 L576.0 545.4 L575.5 545.6 L575.0 545.8 L574.5 546.1 L574.0 546.3 L573.5 546.6 L573.0 546.8 L572.5 546.9 L572.0 547.1 L571.5 547.2 L571.0 547.2 L570.5 547.2 L570.0 547.1 L569.5 547.0 L569.0 546.9 L568.5 546.7 L568.0 546.5 L567.5 546.2 L567.0 546.0 L566.5 545.7 L566.0 545.5 L565.5 545.3 L565.0 545.1 L564.5 545.0 L564.0 544.9 L563.5 544.8 L563.0 544.8 L562.5 544.8 L562.0 544.9 L561.5 545.1 L561.0 545.3 L560.5 545.5 L560.0 545.7 L559.5 545.9 L559.0 546.2 L558.5 546.4 L558.0 546.6 L557.5 546.8 L557.0 547.0 L556.5 547.1 L556.0 547.2 L555.5 547.2 L555.0 547.2 L554.5 547.1 L554.0 547.0 L553.5 546.8 L553.0 546.6 L552.5 546.4 L552.0 546.2 L551.5 545.9 L551.0 545.7 L550.5 545.4 L550.0 545.2 L549.5 545.1 L549.0 544.9 L548.5 544.8 L548.0 544.8 L547.5 544.8 L547.0 544.9 L546.5 545.0 L546.0 545.1 L545.5 545.3 L545.0 545.5 L544.5 545.8 L544.0 546.0 L543.5 546.3 L543.0 546.5 L542.5 546.7 L542.0 546.9 L541.5 547.0 L541.0 547.1 L540.5 547.2 L540.0 547.2 L539.5 547.2 L539.0 547.1 L538.5 546.9 L538.0 546.7 L537.5 546.5 L537.0 546.3 L536.5 546.1 L536.0 545.8 L535.5 545.6 L535.0 545.4 L534.5 545.2 L534.0 545.0 L533.5 544.9 L533.0 544.8 L532.5 548.2 L532.0 549.0 L531.5 549.8 L531.0 550.6 L530.5 551.4 L530.0 552.2 L529.5 553.0 L529.0 553.8 L528.5 554.6 L528.0 555.4 L527.5 556.2 L527.0 557.0Z" fill="#00f500"/><path d="M529.0 441.0V475.2M529.0 554.8V509.7M534.1 434.9V475.5M534.1 546.0V509.1M538.6 433.3V471.0M538.6 548.0V509.1M543.2 434.4V480.7M543.2 547.4V504.1M547.3 435.7V469.5M547.3 545.8V512.7M552.0 434.4V468.7M552.0 547.2V514.8M557.2 433.4V478.5M557.2 547.9V510.4M561.0 434.8V468.2M561.0 546.2V509.3M564.7 435.7V471.0M564.7 546.0V505.9M568.4 434.7V475.4M568.4 547.6V508.3M573.3 433.3V476.3M573.3 547.6V510.7M577.7 434.6V478.6M577.7 545.9V508.5M581.8 435.7V484.0M581.8 546.7V514.9M586.7 434.1V479.3M586.7 548.2V506.8M590.7 433.3V472.6M590.7 546.7V503.8M595.5 435.0V474.4M595.5 546.1V513.2M599.7 435.6V483.3M599.7 547.9V513.2M603.3 434.3V471.4M603.3 547.9V513.9M607.7 433.3V483.7M607.7 546.0V507.8M611.4 434.5V478.1M611.4 546.3V512.3" stroke="#fff" stroke-width="1.1" stroke-opacity="0.92"/><path d="M613.5 435.9V458.9M613.5 549.5V523.3M615.5 436.8V467.6M615.5 549.5V527.6M617.5 437.9V459.2M617.5 549.5V522.5M619.5 438.1V459.0M619.5 549.5V520.6M621.5 437.3V466.0M621.5 549.5V521.8M623.5 436.2V463.6M623.5 549.5V524.5M625.5 435.8V459.9M625.5 549.5V527.3M627.5 436.5V459.3M627.5 549.5V526.4M629.5 437.7V459.2M629.5 549.5V524.2M631.5 438.2V460.1M631.5 549.5V522.7M633.5 437.6V467.7M633.5 549.5V528.0M635.5 436.5V461.0M635.5 549.5V528.8M637.5 435.8V460.1M637.5 550.7V523.9M639.5 439.7V466.5M639.5 552.3V526.4M641.5 443.3V459.0M641.5 552.3V529.9M643.5 444.1V460.1M643.5 552.0V522.6M645.5 443.6V465.7M645.5 551.7V523.3M647.5 443.2V461.0M647.5 551.4V520.7M649.5 442.8V458.9M649.5 551.2V525.8M651.5 442.6V460.4M651.5 551.1V526.0M653.5 442.5V461.7M653.5 551.0V524.5M655.5 442.5V467.6M655.5 551.0V524.8M657.5 442.7V463.7M657.5 551.1V528.7M659.5 443.0V459.8M659.5 551.2V521.5M661.5 443.4V467.1M661.5 551.3V528.2M663.5 443.9V460.5M663.5 551.6V521.9M665.5 444.4V465.4M665.5 551.8V529.4M667.5 440.0V460.0M667.5 552.1V529.5M669.5 440.0V466.8M669.5 552.4V526.0M671.5 440.0V462.2M671.5 552.7V521.0" stroke="#fff" stroke-width="0.7" stroke-opacity="0.75"/><path d="M533.5 519.8h0.9M629.0 464.4h0.9M613.5 442.7h0.9M631.3 446.2h0.9M608.2 532.2h0.9M568.2 519.0h0.9M530.4 451.5h0.9M536.7 447.8h0.9M610.0 447.6h0.9M655.8 537.0h0.9M627.1 517.1h0.9M533.0 467.0h0.9M628.5 512.8h0.9M619.2 461.7h0.9M573.7 514.6h0.9M606.3 542.2h0.9M633.7 541.0h0.9M659.2 461.8h0.9M657.2 527.9h0.9M641.4 534.5h0.9M617.6 457.0h0.9M615.3 458.4h0.9M670.4 540.8h0.9M583.7 532.1h0.9M591.2 514.8h0.9M635.6 457.0h0.9M597.0 459.9h0.9M599.3 544.0h0.9M564.7 446.7h0.9M625.2 442.4h0.9M657.9 528.8h0.9M655.9 461.2h0.9M556.5 463.1h0.9M659.1 526.7h0.9M611.6 440.3h0.9M599.2 541.5h0.9M630.0 522.1h0.9M552.3 444.9h0.9M558.7 456.8h0.9M598.8 464.6h0.9M668.8 443.2h0.9M532.5 513.5h0.9M629.6 523.3h0.9M641.5 447.8h0.9M593.2 464.0h0.9M562.0 437.8h0.9M618.2 458.6h0.9M621.9 547.0h0.9M626.2 452.6h0.9M553.6 451.4h0.9M630.4 447.5h0.9M577.6 529.1h0.9M616.1 526.4h0.9M641.6 515.4h0.9M661.7 517.0h0.9M593.0 541.9h0.9M582.0 541.8h0.9M642.3 530.2h0.9M621.4 461.2h0.9M645.4 539.8h0.9M558.6 545.7h0.9M668.2 543.0h0.9M573.9 541.4h0.9M578.0 450.9h0.9M606.9 528.2h0.9M532.1 514.4h0.9M642.7 453.6h0.9M641.0 447.3h0.9M602.1 541.5h0.9M626.9 530.0h0.9M664.1 450.5h0.9M603.5 460.6h0.9M619.6 542.8h0.9M608.3 448.0h0.9M649.2 520.0h0.9M650.0 532.0h0.9M610.2 453.8h0.9M600.2 513.0h0.9M667.0 527.6h0.9M642.9 531.2h0.9M627.1 454.9h0.9M587.3 544.4h0.9M566.6 440.7h0.9M590.2 542.5h0.9M596.3 442.8h0.9M616.6 516.7h0.9M639.8 446.8h0.9M560.6 522.8h0.9M579.0 515.4h0.9M632.8 454.8h0.9M563.9 454.3h0.9M590.6 449.1h0.9M603.9 442.2h0.9M618.5 531.3h0.9M650.1 544.7h0.9M561.4 538.8h0.9M657.4 452.0h0.9M660.3 470.0h0.9M655.3 449.9h0.9M632.2 442.1h0.9M647.3 464.6h0.9M546.1 459.5h0.9M530.5 459.4h0.9M658.7 516.4h0.9M600.5 529.6h0.9M626.3 439.3h0.9M543.2 454.5h0.9M601.8 517.2h0.9M554.5 464.3h0.9M670.0 515.8h0.9M536.9 527.8h0.9M637.7 452.3h0.9M601.9 456.4h0.9M529.9 546.1h0.9M554.0 460.8h0.9M586.1 441.1h0.9M601.5 466.4h0.9M643.0 545.6h0.9M618.3 457.6h0.9M600.3 540.2h0.9M565.0 536.7h0.9M639.6 528.0h0.9M656.6 538.4h0.9M638.0 527.5h0.9M631.6 449.7h0.9M595.2 448.0h0.9M619.6 520.5h0.9M663.5 525.0h0.9M622.6 531.5h0.9M583.9 534.3h0.9M628.6 547.8h0.9M531.3 540.2h0.9M564.8 438.4h0.9M556.0 437.8h0.9M564.0 530.1h0.9M600.8 532.0h0.9M670.7 544.1h0.9M538.9 538.6h0.9M534.5 517.3h0.9M595.7 452.9h0.9M615.6 468.2h0.9M588.3 532.8h0.9M580.4 458.5h0.9M608.4 459.9h0.9M570.5 443.5h0.9M534.1 461.6h0.9M583.9 538.0h0.9M535.2 543.6h0.9M538.5 527.0h0.9M596.5 520.2h0.9M603.0 537.3h0.9M595.2 538.9h0.9M614.6 457.7h0.9M593.3 436.9h0.9M603.7 450.6h0.9M623.8 445.7h0.9M611.5 462.4h0.9M604.1 544.9h0.9M633.3 442.3h0.9M656.0 535.8h0.9M579.5 459.4h0.9M609.0 532.8h0.9M636.0 445.4h0.9M668.5 546.5h0.9M533.7 445.2h0.9M589.0 515.5h0.9M605.7 437.5h0.9M625.0 535.0h0.9M581.5 443.7h0.9M577.3 539.6h0.9M538.7 463.2h0.9M617.4 519.8h0.9M588.9 463.2h0.9M580.9 545.0h0.9M574.7 537.4h0.9M660.0 453.7h0.9M541.9 514.7h0.9M539.9 529.1h0.9M626.3 462.6h0.9M538.9 457.9h0.9M539.7 460.2h0.9M627.5 442.2h0.9M579.3 524.0h0.9M544.8 531.1h0.9M659.7 546.9h0.9M590.8 522.2h0.9M573.5 467.7h0.9M656.3 453.1h0.9M580.4 449.8h0.9M583.6 455.3h0.9M642.3 544.7h0.9M608.7 461.4h0.9M654.3 444.1h0.9M601.9 532.0h0.9M666.6 543.3h0.9M537.2 539.1h0.9M540.1 460.6h0.9M656.9 460.4h0.9M548.6 533.3h0.9M563.2 462.1h0.9M602.8 525.8h0.9M576.4 534.3h0.9M598.8 536.9h0.9M629.5 527.0h0.9M646.5 544.9h0.9M643.6 546.6h0.9M665.3 532.3h0.9M629.8 527.4h0.9M588.3 460.8h0.9M670.1 445.9h0.9M557.3 444.8h0.9M667.1 449.9h0.9M544.5 538.2h0.9M553.7 450.9h0.9M611.8 513.2h0.9M543.6 443.1h0.9M561.8 531.6h0.9M560.1 445.1h0.9M552.7 522.8h0.9M606.6 528.0h0.9M565.4 542.4h0.9M577.1 543.6h0.9M597.2 438.2h0.9M663.9 526.9h0.9M603.7 521.5h0.9M670.0 521.4h0.9M529.6 450.6h0.9M642.3 535.7h0.9M550.6 447.0h0.9M565.2 529.1h0.9M619.3 521.7h0.9M604.7 461.9h0.9M528.2 548.5h0.9M645.9 451.4h0.9M630.7 453.9h0.9M595.2 531.3h0.9M650.9 464.5h0.9M587.8 515.2h0.9M646.5 458.3h0.9M603.4 464.2h0.9M572.7 437.0h0.9M571.8 459.9h0.9M579.6 515.5h0.9M584.5 468.9h0.9M647.0 512.5h0.9M582.1 520.0h0.9M608.9 434.9h0.9M670.2 520.2h0.9M616.3 450.2h0.9M605.4 446.5h0.9M584.2 520.9h0.9M556.7 523.6h0.9M663.5 539.9h0.9M575.6 515.1h0.9M548.2 459.3h0.9M629.6 451.3h0.9M648.0 515.5h0.9M560.5 439.8h0.9M586.3 467.2h0.9M589.2 534.2h0.9M638.0 526.7h0.9M575.5 435.3h0.9M585.5 546.5h0.9M641.2 535.9h0.9M530.7 448.1h0.9M621.3 450.3h0.9M601.0 541.0h0.9M615.7 462.5h0.9M657.5 525.4h0.9M599.8 460.4h0.9M669.5 540.2h0.9M647.8 468.6h0.9M617.9 441.6h0.9M563.1 534.9h0.9M575.2 524.2h0.9M594.4 469.1h0.9M547.4 529.8h0.9M608.4 520.7h0.9M658.4 543.1h0.9M614.3 464.2h0.9M569.4 520.4h0.9M610.3 518.1h0.9M606.6 435.5h0.9M553.8 544.8h0.9M622.4 459.4h0.9M633.8 457.1h0.9M643.3 450.1h0.9M595.1 449.0h0.9M609.7 453.1h0.9M565.8 523.1h0.9M620.0 459.8h0.9M548.8 531.7h0.9M595.4 457.2h0.9M626.8 539.4h0.9M597.7 540.5h0.9M650.6 455.1h0.9M609.2 529.3h0.9M603.3 466.7h0.9M574.0 460.2h0.9M657.1 534.7h0.9M635.8 456.7h0.9M538.0 450.3h0.9M600.1 438.3h0.9M627.6 520.7h0.9M571.9 442.8h0.9M537.8 545.5h0.9M623.5 527.4h0.9M643.5 463.7h0.9M609.3 515.2h0.9M641.6 458.2h0.9M664.4 451.2h0.9M570.9 436.9h0.9M656.4 527.1h0.9M579.1 513.5h0.9M532.5 523.2h0.9M599.5 546.0h0.9M595.8 446.1h0.9M660.3 519.5h0.9M648.2 456.3h0.9M552.6 546.3h0.9M557.0 518.7h0.9M654.2 446.3h0.9M632.1 466.9h0.9M652.7 517.1h0.9M627.8 528.2h0.9M539.3 445.3h0.9M629.9 444.5h0.9M561.8 538.1h0.9M581.4 541.7h0.9M612.6 446.3h0.9M660.9 522.6h0.9M619.8 469.5h0.9M591.1 529.8h0.9M534.5 521.4h0.9M564.0 514.9h0.9M568.9 520.6h0.9M568.0 518.4h0.9M656.6 513.3h0.9M594.2 524.6h0.9M661.3 449.0h0.9M607.7 523.9h0.9M622.4 530.9h0.9M600.5 536.0h0.9M602.6 518.1h0.9M639.8 458.7h0.9M561.7 462.3h0.9M640.8 521.3h0.9M598.1 456.0h0.9M599.6 456.5h0.9M630.5 543.9h0.9M553.8 435.3h0.9M599.1 451.4h0.9M565.7 514.4h0.9M658.1 532.7h0.9M641.5 448.1h0.9M572.6 445.5h0.9M617.1 521.7h0.9M612.4 463.9h0.9M552.6 440.8h0.9M627.0 540.7h0.9M536.8 447.6h0.9M559.0 513.4h0.9M598.2 545.8h0.9M548.7 461.5h0.9M533.6 466.3h0.9M548.3 446.6h0.9M588.9 435.6h0.9M670.8 541.1h0.9M561.0 454.7h0.9M562.7 467.7h0.9M580.2 469.4h0.9M615.6 450.8h0.9M621.2 449.3h0.9M627.6 533.6h0.9M655.1 453.9h0.9M648.9 464.3h0.9M558.9 441.3h0.9M606.8 441.6h0.9M558.8 445.7h0.9M592.1 534.5h0.9M651.7 453.7h0.9M538.4 524.7h0.9M567.4 442.3h0.9M565.6 467.4h0.9M630.6 450.2h0.9M550.0 524.0h0.9M637.8 546.4h0.9M530.9 449.5h0.9M539.9 523.4h0.9M638.5 514.1h0.9M584.5 437.5h0.9M549.6 513.1h0.9M572.8 453.7h0.9M547.5 520.5h0.9M632.0 517.4h0.9M557.4 459.8h0.9M586.1 465.4h0.9M560.4 447.4h0.9M558.9 435.7h0.9M618.4 541.5h0.9M667.9 460.4h0.9M659.8 461.9h0.9M623.6 543.7h0.9M561.6 515.0h0.9M589.3 436.5h0.9M583.0 453.2h0.9M568.1 449.6h0.9M596.1 458.7h0.9M562.4 447.8h0.9M588.6 455.2h0.9M628.6 537.6h0.9M531.3 448.8h0.9M537.0 436.6h0.9M599.1 528.2h0.9M574.7 435.3h0.9M577.8 530.6h0.9M565.6 518.2h0.9M595.3 543.5h0.9M580.0 543.1h0.9M638.6 536.0h0.9M586.9 444.7h0.9M647.0 526.7h0.9M658.4 447.4h0.9M600.7 448.5h0.9M668.1 446.6h0.9M560.8 519.8h0.9M528.1 529.0h0.9M562.3 458.2h0.9M606.6 530.7h0.9M647.2 524.8h0.9M577.7 522.3h0.9M630.7 537.1h0.9M666.2 518.2h0.9M617.1 456.4h0.9M581.0 461.6h0.9M604.6 443.6h0.9M574.6 452.7h0.9M546.1 438.8h0.9M542.7 515.9h0.9M592.8 527.8h0.9M551.3 541.4h0.9M535.7 452.8h0.9M642.2 463.0h0.9M564.1 522.7h0.9M575.9 540.2h0.9M646.8 528.2h0.9M629.4 542.3h0.9M642.9 454.6h0.9M624.0 443.1h0.9M530.0 549.9h0.9M667.2 460.9h0.9M588.1 525.8h0.9M661.8 513.9h0.9M630.3 440.3h0.9M569.0 546.7h0.9M545.2 437.1h0.9M605.8 447.7h0.9M572.3 541.3h0.9M568.7 456.8h0.9M637.8 526.8h0.9M627.5 541.2h0.9M549.1 440.1h0.9M661.9 456.9h0.9M545.3 436.9h0.9M609.2 456.7h0.9M567.3 452.5h0.9M580.5 438.3h0.9M537.2 522.6h0.9M539.2 451.6h0.9M671.0 466.2h0.9M597.4 463.6h0.9M584.8 454.7h0.9M622.2 522.1h0.9M662.6 550.2h0.9M591.6 536.1h0.9M553.2 440.9h0.9M545.0 448.3h0.9M636.1 454.1h0.9M529.5 468.8h0.9M529.6 545.1h0.9M641.6 527.7h0.9M643.2 542.0h0.9M669.4 468.6h0.9M585.7 520.8h0.9M658.4 458.9h0.9M560.6 448.3h0.9M622.2 525.3h0.9M619.5 447.8h0.9M657.8 446.2h0.9M576.0 519.1h0.9M634.6 536.8h0.9M553.4 439.9h0.9M578.2 436.2h0.9M600.1 447.3h0.9M605.0 519.0h0.9M654.3 463.5h0.9M543.5 526.7h0.9M666.0 452.8h0.9M629.2 447.1h0.9M625.1 523.8h0.9" stroke="#fff" stroke-width="0.9" stroke-opacity="0.7"/>
<path d="M383.3 496.1 L383.9 495.8 L384.8 495.2 L385.4 495.2 L386.6 495.2 L388.0 495.2 L389.5 495.2 L391.0 495.2 L392.4 495.2 L393.6 495.2 L394.6 495.2 L395.7 495.2 L396.9 495.3 L398.3 495.3 L400.0 495.3 L402.2 495.3 L404.7 495.4 L407.4 495.4 L410.3 495.4 L413.1 495.4 L415.8 495.5 L418.3 495.5 L420.8 495.5 L423.3 495.5 L425.8 495.6 L428.3 495.6 L431.0 495.6 L433.7 495.6 L436.6 495.6 L439.5 495.6 L442.4 495.6 L445.3 495.6 L447.9 495.5 L450.5 495.5 L452.9 495.5 L455.2 495.5 L457.5 495.5 L459.8 495.4 L462.0 495.4 L464.2 495.4 L466.3 495.4 L468.4 495.3 L470.5 495.3 L472.4 495.3 L474.2 495.2 L475.8 495.2 L477.3 495.2 L478.6 495.1 L479.9 495.1 L481.2 495.1 L482.7 495.0 L484.4 495.0 L486.1 494.9 L487.9 494.9 L489.7 494.8 L491.5 494.7 L493.2 494.6 L494.9 494.6 L496.6 494.5 L498.3 494.4 L500.0 494.3 L501.7 494.3 L503.5 494.2 L505.4 494.1 L507.4 494.0 L509.4 494.0 L511.4 493.9 L513.4 493.8 L515.2 493.8 L516.7 493.7 L517.9 493.7 L519.0 493.7 L520.2 493.7 L521.8 493.6 L523.9 493.6 L526.8 493.6" stroke="#0000ff" stroke-width="1.50" fill="none" stroke-linejoin="round" clip-path="url(#cd)"/>
<path d="M384.2 503.4 L385.1 493.9 L386.5 494.6 L386.8 494.7 L387.2 494.9 L387.6 495.0 L388.2 495.1 L388.8 495.3 L389.5 495.4 L390.2 495.5 L390.9 495.6 L391.7 495.7 L392.6 495.7 L393.8 495.8 L395.3 495.8 L397.2 495.9 L399.5 495.9 L402.1 496.0 L404.7 496.0 L407.4 496.0 L409.9 496.1 L412.4 496.1 L414.8 496.1 L417.2 496.1 L419.7 496.1 L422.1 496.1 L424.5 496.1 L427.0 496.1 L429.4 496.1 L431.9 496.1 L434.3 496.1 L436.7 496.0 L439.2 496.0 L441.6 496.0 L444.0 496.0 L446.4 495.9 L448.8 495.9 L451.3 495.8 L453.8 495.8 L456.4 495.7 L459.2 495.6 L462.1 495.6 L464.9 495.5 L467.5 495.4 L469.9 495.3 L471.9 495.2 L473.8 495.1 L475.5 495.1 L477.1 495.0 L478.6 494.9 L480.1 494.8 L481.5 494.7 L482.8 494.6 L484.1 494.5 L485.3 494.4 L486.6 494.3 L488.0 494.2 L489.5 494.1 L491.1 494.0 L492.7 493.9 L494.4 493.8 L496.0 493.7 L497.6 493.7 L499.1 493.6 L500.4 493.5 L501.7 493.5 L503.1 493.5 L504.6 493.4 L506.4 493.4 L508.5 493.4 L510.8 493.4 L513.3 493.3 L515.9 493.3 L518.5 493.3 L521.0 493.3 L523.4 493.3 L525.9 493.3" stroke="#ff0000" stroke-width="1.50" fill="none" stroke-dasharray="1.4 1.4" stroke-linejoin="round" clip-path="url(#cd)"/>
<path d="M382.0 494.4 L386.5 494.4 L392.4 494.4 L393.9 494.4 L395.3 494.4 L396.8 494.4 L398.2 494.4 L399.7 494.4 L401.2 494.4 L402.6 494.4 L404.1 494.4 L405.5 494.4 L407.0 494.4 L408.5 494.4 L409.9 494.4 L411.4 494.4 L412.9 494.4 L414.3 494.4 L415.8 494.4 L417.2 494.4 L418.7 494.4 L420.2 494.4 L421.6 494.4 L423.1 494.4 L424.5 494.4 L426.0 494.4 L427.5 494.5 L428.9 494.5 L430.4 494.5 L431.9 494.5 L433.3 494.5 L434.8 494.5 L436.2 494.5 L437.7 494.5 L439.2 494.5 L440.6 494.5 L442.1 494.5 L443.5 494.5 L445.0 494.5 L446.5 494.5 L447.9 494.5 L449.4 494.5 L450.9 494.5 L452.3 494.5 L453.8 494.5 L455.2 494.5 L456.7 494.5 L458.2 494.5 L459.6 494.5 L461.1 494.5 L462.5 494.5 L464.0 494.5 L465.5 494.5 L466.9 494.5 L468.4 494.5 L469.9 494.5 L471.3 494.5 L472.8 494.4 L474.2 494.4 L475.7 494.4 L477.2 494.4 L478.6 494.4 L480.1 494.4 L481.5 494.4 L483.0 494.4 L484.5 494.4 L485.9 494.4 L487.4 494.4 L488.9 494.4 L490.3 494.4 L491.8 494.4 L493.2 494.4 L494.7 494.4 L496.2 494.4 L497.6 494.4 L499.1 494.4 L500.5 494.4 L502.0 494.4 L503.5 494.4 L504.9 494.4 L506.4 494.4 L507.9 494.4 L509.3 494.4 L510.8 494.4 L512.2 494.4 L513.7 494.4 L515.2 494.4 L516.6 494.4 L518.1 494.4 L519.5 494.5 L521.0 494.5 L522.5 494.5 L523.9 494.5 L525.4 494.5" stroke="#00ff00" stroke-width="1.60" fill="none" stroke-dasharray="4 1.5 1 1.5" stroke-linejoin="round" clip-path="url(#cd)"/>
<path d="M382.5 494.6 L382.7 477.2 L383.0 484.2 L383.2 494.6 L383.3 496.1" stroke="#0000ff" stroke-width="1.60" fill="none" stroke-linejoin="round" clip-path="url(#cd)"/>
<path d="M382.9 494.6 L383.0 482.2 L383.3 488.4 L383.6 494.6 L383.9 503.4 L384.2 503.4" stroke="#ff0000" stroke-width="1.50" fill="none" stroke-dasharray="1.4 1.1" stroke-linejoin="round" clip-path="url(#cd)"/>
<path d="M381.4 494.2 L381.6 474.8 L381.7 484.7 L381.7 514.5 L382.0 494.4" stroke="#00ff00" stroke-width="2.00" fill="none" stroke-linejoin="round" clip-path="url(#cd)"/>
<path d="M381.9 493.5 L383.6 494.2 L386.5 494.4 L392.4 494.4 L393.3 494.4 L394.1 494.4 L395.0 494.3 L395.9 494.4 L396.8 494.3 L397.7 494.5 L398.5 494.4 L399.4 494.3 L400.3 494.4 L401.2 494.4 L402.0 494.4 L402.9 494.4 L403.8 494.4 L404.7 494.4 L405.5 494.4 L406.4 494.5 L407.3 494.4 L408.2 494.4 L409.1 494.3 L409.9 494.4 L410.8 494.4 L411.7 494.4 L412.6 494.4 L413.4 494.4 L414.3 494.4 L415.2 494.5 L416.1 494.4 L416.9 494.4 L417.8 494.4 L418.7 494.3 L419.6 494.4 L420.5 494.4 L421.3 494.3 L422.2 494.4 L423.1 494.4 L424.0 494.4 L424.8 494.3 L425.7 494.4 L426.6 494.3 L427.5 494.4 L428.3 494.4 L429.2 494.4 L430.1 494.4 L431.0 494.4 L431.9 494.5 L432.7 494.4 L433.6 494.4 L434.5 494.5 L435.4 494.4 L436.2 494.4 L437.1 494.4 L438.0 494.4 L438.9 494.4 L439.7 494.5 L440.6 494.4 L441.5 494.3 L442.4 494.6 L443.3 494.2 L444.1 494.6 L445.0 494.3 L445.9 494.2 L446.8 494.6 L447.6 494.3 L448.5 494.5 L449.4 494.4 L450.3 494.6 L451.1 494.6 L452.0 494.6 L452.9 494.2 L453.8 494.6 L454.7 494.3 L455.5 494.2 L456.4 494.2 L457.3 494.5 L458.2 494.5 L459.0 494.4 L459.9 494.3 L460.8 494.6 L461.7 494.3 L462.5 494.3 L463.4 494.2 L464.3 494.6 L465.2 494.2 L466.1 494.6 L466.9 494.5 L467.8 494.3 L468.7 494.2 L469.6 494.5 L470.4 494.2 L471.3 494.4 L472.2 494.5 L473.1 494.5 L473.9 494.6 L474.8 494.6 L475.7 494.6 L476.6 494.3 L477.5 494.2 L478.3 494.6 L479.2 494.6 L480.1 494.2 L481.0 494.4 L481.8 494.4 L482.7 494.5 L483.6 494.4 L484.5 494.2 L485.3 494.4 L486.2 494.4 L487.1 494.6 L488.0 494.2 L488.9 494.6 L489.7 494.4 L490.6 494.2 L491.5 494.6 L492.4 494.3 L493.2 494.2 L494.1 494.3 L495.0 494.3 L495.9 494.6 L496.7 494.4 L497.6 494.6 L498.5 494.2 L499.4 494.5 L500.3 494.4 L501.1 494.2 L502.0 494.2 L502.9 494.2 L503.8 494.4 L504.6 494.4 L505.5 494.3 L506.4 494.4 L507.3 494.5 L508.1 494.4 L509.0 494.6 L509.9 494.5 L510.8 494.2 L511.7 494.2 L512.5 494.3 L513.4 494.4 L514.3 494.5 L515.2 494.6 L516.0 494.5 L516.9 494.3 L517.8 494.2 L518.7 494.5 L519.5 494.3 L520.4 494.3 L521.3 494.3 L522.2 494.3 L523.1 494.3 L523.9 494.5 L524.8 494.3 L525.7 494.5 L526.6 494.4 L526.9 493.4 L527.9 493.5 L529.3 493.7 L531.0 493.8 L532.9 494.0 L534.9 494.2 L537.1 494.4 L539.3 494.6 L541.5 494.8 L543.7 495.1 L546.2 495.4 L548.7 495.8 L551.3 496.1 L554.0 496.4 L556.7 496.7 L559.3 496.9 L561.9 497.0 L564.5 496.9 L567.1 496.8 L569.7 496.5 L572.2 496.2 L574.8 495.9 L577.4 495.6 L579.9 495.3 L582.4 495.0 L584.9 494.7 L587.5 494.5 L590.1 494.2 L592.7 493.9 L595.1 493.6 L597.5 493.4 L599.6 493.2 L601.4 493.1 L602.9 493.0 L604.3 493.0 L605.4 493.0 L606.4 493.1 L607.3 493.1 L608.0 493.2 L608.7 493.3 L609.3 493.4 L609.7 493.6 L609.8 493.7 L609.7 493.9 L609.5 494.1 L609.4 494.3 L609.6 494.5 L610.1 494.7 L611.0 494.8 L612.5 494.9 L614.5 495.0 L616.8 495.0 L619.3 495.0 L621.9 495.0 L624.5 495.0 L626.9 495.0 L629.2 495.0 L631.1 495.0 L633.1 494.9 L634.9 494.9 L636.7 494.8 L638.4 494.8 L640.2 494.7 L642.0 494.7 L643.8 494.6 L645.6 494.7 L647.4 494.7 L649.3 494.7 L651.1 494.8 L652.9 494.9 L654.7 494.9 L656.6 494.9 L658.4 494.9 L660.3 494.9 L662.4 494.9 L664.5 494.8 L666.6 494.7 L668.6 494.6 L670.4 494.6 L671.9 494.5 L673.0 494.5" stroke="#000000" stroke-width="1.50" fill="none" stroke-dasharray="4 3" stroke-linejoin="round" clip-path="url(#cd)"/>
<path d="M381.3 493.3 L382.2 493.5" stroke="#000000" stroke-width="2.00" fill="none" stroke-linejoin="round" clip-path="url(#cd)"/>
<path d="M380.70 619.00v-2.50M380.70 370.30v2.50M439.16 619.00v-2.50M439.16 370.30v2.50M497.62 619.00v-2.50M497.62 370.30v2.50M556.08 619.00v-2.50M556.08 370.30v2.50M614.54 619.00v-2.50M614.54 370.30v2.50M673.00 619.00v-2.50M673.00 370.30v2.50M380.70 619.00h2.50M673.00 619.00h-2.50M380.70 594.13h2.50M673.00 594.13h-2.50M380.70 569.26h2.50M673.00 569.26h-2.50M380.70 544.39h2.50M673.00 544.39h-2.50M380.70 519.52h2.50M673.00 519.52h-2.50M380.70 494.65h2.50M673.00 494.65h-2.50M380.70 469.78h2.50M673.00 469.78h-2.50M380.70 444.91h2.50M673.00 444.91h-2.50M380.70 420.04h2.50M673.00 420.04h-2.50M380.70 395.17h2.50M673.00 395.17h-2.50M380.70 370.30h2.50M673.00 370.30h-2.50" stroke="#404040" stroke-width="0.8" fill="none"/>
<rect x="380.70" y="370.30" width="292.30" height="248.70" fill="none" stroke="#404040" stroke-width="1.20"/>
<text x="380.70" y="631.90" font-size="9.90" text-anchor="middle" fill="#262626" font-family='"Liberation Serif", serif' font-weight="normal">0</text>
<text x="439.16" y="631.90" font-size="9.90" text-anchor="middle" fill="#262626" font-family='"Liberation Serif", serif' font-weight="normal">2</text>
<text x="497.62" y="631.90" font-size="9.90" text-anchor="middle" fill="#262626" font-family='"Liberation Serif", serif' font-weight="normal">4</text>
<text x="556.08" y="631.90" font-size="9.90" text-anchor="middle" fill="#262626" font-family='"Liberation Serif", serif' font-weight="normal">6</text>
<text x="614.54" y="631.90" font-size="9.90" text-anchor="middle" fill="#262626" font-family='"Liberation Serif", serif' font-weight="normal">8</text>
<text x="673.00" y="631.90" font-size="9.90" text-anchor="middle" fill="#262626" font-family='"Liberation Serif", serif' font-weight="normal">10</text>
<text x="376.70" y="622.96" font-size="9.90" text-anchor="end" fill="#262626" font-family='"Liberation Serif", serif' font-weight="normal">-50</text>
<text x="376.70" y="598.09" font-size="9.90" text-anchor="end" fill="#262626" font-family='"Liberation Serif", serif' font-weight="normal">-40</text>
<text x="376.70" y="573.22" font-size="9.90" text-anchor="end" fill="#262626" font-family='"Liberation Serif", serif' font-weight="normal">-30</text>
<text x="376.70" y="548.35" font-size="9.90" text-anchor="end" fill="#262626" font-family='"Liberation Serif", serif' font-weight="normal">-20</text>
<text x="376.70" y="523.48" font-size="9.90" text-anchor="end" fill="#262626" font-family='"Liberation Serif", serif' font-weight="normal">-10</text>
<text x="376.70" y="498.61" font-size="9.90" text-anchor="end" fill="#262626" font-family='"Liberation Serif", serif' font-weight="normal">0</text>
<text x="376.70" y="473.74" font-size="9.90" text-anchor="end" fill="#262626" font-family='"Liberation Serif", serif' font-weight="normal">10</text>
<text x="376.70" y="448.87" font-size="9.90" text-anchor="end" fill="#262626" font-family='"Liberation Serif", serif' font-weight="normal">20</text>
<text x="376.70" y="424.00" font-size="9.90" text-anchor="end" fill="#262626" font-family='"Liberation Serif", serif' font-weight="normal">30</text>
<text x="376.70" y="399.13" font-size="9.90" text-anchor="end" fill="#262626" font-family='"Liberation Serif", serif' font-weight="normal">40</text>
<text x="376.70" y="374.26" font-size="9.90" text-anchor="end" fill="#262626" font-family='"Liberation Serif", serif' font-weight="normal">50</text>
<text x="526.70" y="644.00" font-size="10.40" text-anchor="middle" fill="#262626" font-family='"Liberation Serif", serif' font-weight="normal" textLength="29.50" lengthAdjust="spacingAndGlyphs">time(s)</text>
<text transform="translate(360.00,496.40) rotate(-90)" font-size="11.00" text-anchor="middle" fill="#262626" font-family='"Liberation Serif", serif' textLength="76.40" lengthAdjust="spacingAndGlyphs">Control effort (A)</text>
<rect x="508.70" y="376.60" width="157.30" height="42.00" fill="#fff" stroke="#404040" stroke-width="1.1"/>
<line x1="510.00" y1="382.50" x2="535.00" y2="382.50" stroke="#0000ff" stroke-width="2.00"/>
<text x="537.60" y="385.57" font-size="9.00" text-anchor="start" fill="#262626" font-family='"Liberation Serif", serif' font-weight="normal" textLength="124.30" lengthAdjust="spacingAndGlyphs">Sigmoid function  1/(1+exp(-a.x+b)</text>
<line x1="510.00" y1="393.50" x2="535.00" y2="393.50" stroke="#ff0000" stroke-width="1.00" stroke-dasharray="1 1"/>
<text x="537.60" y="396.57" font-size="9.00" text-anchor="start" fill="#262626" font-family='"Liberation Serif", serif' font-weight="normal" textLength="124.59" lengthAdjust="spacingAndGlyphs"> HTF(1-exp(-a.x+b)/1+exp(-a.x+b))</text>
<line x1="510.00" y1="403.50" x2="535.00" y2="403.50" stroke="#00ff00" stroke-width="1.20" stroke-dasharray="4.5 1.2 2.2 1.2"/>
<text x="537.60" y="406.57" font-size="9.00" text-anchor="start" fill="#262626" font-family='"Liberation Serif", serif' font-weight="normal" textLength="63.11" lengthAdjust="spacingAndGlyphs">Cosine cos(a.x+b)</text>
<line x1="510.00" y1="413.50" x2="535.00" y2="413.50" stroke="#000000" stroke-width="1.80" stroke-dasharray="5.00"/>
<text x="537.60" y="416.37" font-size="9.00" text-anchor="start" fill="#262626" font-family='"Liberation Serif", serif' font-weight="normal" textLength="110.03" lengthAdjust="spacingAndGlyphs">Hard limit Function  cos(a.x+b)</text>
<rect x="397.10" y="540.10" width="127.00" height="62.00" fill="#00ff00"/>
<line x1="397.10" y1="550.10" x2="397.10" y2="602.10" stroke="#3050a0" stroke-width="0.6"/>
<path d="M397.1 568.9 L398.0 569.1 L399.3 569.3 L400.7 569.6 L402.3 569.9 L404.1 570.3 L406.0 570.6 L407.9 571.0 L409.8 571.4 L411.8 571.9 L413.9 572.4 L416.1 573.1 L418.4 573.7 L420.7 574.3 L423.0 574.8 L425.3 575.1 L427.6 575.3 L429.8 575.2 L432.1 574.9 L434.3 574.5 L436.5 573.9 L438.8 573.4 L441.0 572.8 L443.2 572.2 L445.4 571.7 L447.6 571.3 L449.8 570.8 L452.1 570.3 L454.3 569.8 L456.4 569.3 L458.5 568.9 L460.3 568.5 L461.9 568.3 L463.2 568.2 L464.4 568.1 L465.4 568.2 L466.2 568.3 L467.0 568.4 L467.6 568.5 L468.2 568.7 L468.7 568.9 L469.1 569.2 L469.2 569.5 L469.1 569.8 L468.9 570.2 L468.9 570.6 L469.0 570.9 L469.4 571.2 L470.3 571.4 L471.6 571.6 L473.3 571.7 L475.2 571.7 L477.4 571.8 L479.7 571.8 L481.9 571.8 L484.1 571.7 L486.0 571.7 L487.7 571.7 L489.4 571.6 L491.0 571.5 L492.5 571.4 L494.1 571.3 L495.6 571.2 L497.1 571.1 L498.7 571.1 L500.3 571.1 L501.9 571.2 L503.5 571.3 L505.1 571.4 L506.6 571.5 L508.2 571.5 L509.8 571.6 L511.4 571.6 L513.1 571.6 L514.9 571.5 L516.7 571.4 L518.5 571.2 L520.3 571.1 L521.8 571.0 L523.1 570.9 L524.1 570.8" stroke="#000000" stroke-width="1.60" fill="none" stroke-dasharray="4 3" stroke-linejoin="round" clip-path="url(#cdi)"/>
<text x="393.60" y="543.10" font-size="9.30" text-anchor="end" fill="#262626" font-family='"Liberation Serif", serif' font-weight="normal">5</text>
<text x="393.60" y="574.10" font-size="9.30" text-anchor="end" fill="#262626" font-family='"Liberation Serif", serif' font-weight="normal">0</text>
<text x="393.60" y="605.10" font-size="9.30" text-anchor="end" fill="#262626" font-family='"Liberation Serif", serif' font-weight="normal">-5</text>
<text x="397.10" y="613.60" font-size="9.30" text-anchor="middle" fill="#262626" font-family='"Liberation Serif", serif' font-weight="normal">5</text>
<text x="422.50" y="613.60" font-size="9.30" text-anchor="middle" fill="#262626" font-family='"Liberation Serif", serif' font-weight="normal">6</text>
<text x="447.90" y="613.60" font-size="9.30" text-anchor="middle" fill="#262626" font-family='"Liberation Serif", serif' font-weight="normal">7</text>
<text x="473.30" y="613.60" font-size="9.30" text-anchor="middle" fill="#262626" font-family='"Liberation Serif", serif' font-weight="normal">8</text>
<text x="498.70" y="613.60" font-size="9.30" text-anchor="middle" fill="#262626" font-family='"Liberation Serif", serif' font-weight="normal">9</text>
<text x="524.10" y="613.60" font-size="9.30" text-anchor="middle" fill="#262626" font-family='"Liberation Serif", serif' font-weight="normal">10</text>
<line x1="530.60" y1="497.10" x2="467.73" y2="535.98" stroke="#222" stroke-width="0.75"/>
<path d="M462.20 539.40 L467.43 531.70 L466.90 536.49 L471.43 538.16 Z" fill="#222"/>
<text x="526.90" y="665.35" font-size="17.00" text-anchor="middle" fill="#000" font-family='"Liberation Sans", sans-serif' font-weight="bold" textLength="21.00" lengthAdjust="spacingAndGlyphs">(d)</text>
<path d="M72.76 699.60V941.75M100.82 699.60V941.75M128.88 699.60V941.75M156.94 699.60V941.75M185.00 699.60V941.75M213.06 699.60V941.75M241.12 699.60V941.75M269.18 699.60V941.75M297.24 699.60V941.75M44.70 893.32H325.30M44.70 844.89H325.30M44.70 796.46H325.30M44.70 748.03H325.30" stroke="#e2e2e2" stroke-width="1.00" fill="none"/>
<path d="M44.7 764.5 L44.8 765.9 L44.8 767.8 L44.9 770.1 L45.1 772.5 L45.2 774.9 L45.2 777.1 L45.3 779.1 L45.4 781.2 L45.4 783.3 L45.4 785.3 L45.5 787.1 L45.5 788.7 L45.6 790.1 L45.6 791.2 L45.7 792.3 L45.8 793.1 L45.8 793.9 L45.9 794.5 L45.9 795.0 L45.9 795.4 L46.0 795.6 L46.0 795.7 L46.1 795.8 L46.1 796.0 L46.2 796.1 L46.2 796.3 L46.3 796.4 L46.4 796.5 L46.5 796.4 L46.6 796.3 L46.6 796.2 L46.7 796.0 L46.7 795.7 L46.7 795.3 L46.8 794.7 L46.8 794.1 L46.9 793.5 L46.9 792.8 L46.9 792.1 L47.0 791.4 L47.0 790.6 L47.1 789.8 L47.2 789.0 L47.2 788.3 L47.3 787.7 L47.3 787.4 L47.4 787.1 L47.4 787.0 L47.4 786.9 L47.5 786.9 L47.5 786.8 L48.4 783.6 L49.4 780.5 L50.3 777.3 L51.2 774.2 L52.1 771.1 L53.1 768.0 L54.0 765.0 L54.9 762.0 L55.8 759.0 L56.8 756.1 L57.7 753.2 L58.6 750.4 L59.5 747.6 L60.5 744.8 L61.4 742.2 L62.3 739.6 L63.2 737.0 L64.2 734.5 L65.1 732.1 L66.0 729.7 L67.0 727.5 L67.9 725.2 L68.8 723.1 L69.7 721.1 L70.7 719.1 L71.6 717.2 L72.5 715.4 L73.4 713.7 L74.4 712.1 L75.3 710.6 L76.2 709.2 L77.1 707.8 L78.1 706.6 L79.0 705.4 L79.9 704.4 L80.8 703.4 L81.8 702.6 L82.7 701.9 L83.6 701.2 L84.5 700.7 L85.5 700.3 L86.4 699.9 L87.3 699.7 L88.2 699.6 L89.2 699.6 L90.1 699.7 L91.0 699.9 L92.0 700.2 L92.9 700.6 L93.8 701.2 L94.7 701.8 L95.7 702.5 L96.6 703.3 L97.5 704.3 L98.4 705.3 L99.4 706.4 L100.3 707.6 L101.2 709.0 L102.1 710.4 L103.1 711.9 L104.0 713.5 L104.9 715.2 L105.8 717.0 L106.8 718.8 L107.7 720.8 L108.6 722.8 L109.5 724.9 L110.5 727.1 L111.4 729.4 L112.3 731.8 L113.3 734.2 L114.2 736.6 L115.1 739.2 L116.0 741.8 L117.0 744.5 L117.9 747.2 L118.8 750.0 L119.7 752.8 L120.7 755.7 L121.6 758.6 L122.5 761.6 L123.4 764.6 L124.4 767.6 L125.3 770.7 L126.2 773.8 L127.1 776.9 L128.1 780.0 L129.0 783.2 L129.9 786.3 L130.8 789.5 L131.8 792.7 L132.7 795.9 L133.6 799.1 L134.5 802.3 L135.5 805.5 L136.4 808.7 L137.3 811.8 L138.3 815.0 L139.2 818.1 L140.1 821.2 L141.0 824.3 L142.0 827.3 L142.9 830.3 L143.8 833.3 L144.7 836.3 L145.7 839.1 L146.6 842.0 L147.5 844.8 L148.4 847.5 L149.4 850.2 L150.3 852.8 L151.2 855.4 L152.1 857.9 L153.1 860.4 L154.0 862.7 L154.9 865.0 L155.8 867.2 L156.8 869.4 L157.7 871.4 L158.6 873.4 L159.5 875.3 L160.5 877.1 L161.4 878.9 L162.3 880.5 L163.3 882.0 L164.2 883.5 L165.1 884.8 L166.0 886.1 L167.0 887.3 L167.9 888.3 L168.8 889.3 L169.7 890.2 L170.7 890.9 L171.6 891.6 L172.5 892.1 L173.4 892.6 L174.4 892.9 L175.3 893.2 L176.2 893.3 L177.1 893.3 L178.1 893.2 L179.0 893.1 L179.9 892.8 L180.8 892.4 L181.8 891.9 L182.7 891.3 L183.6 890.6 L184.6 889.8 L185.5 888.9 L186.4 887.9 L187.3 886.7 L188.3 885.5 L189.2 884.2 L190.1 882.8 L191.0 881.3 L192.0 879.8 L192.9 878.1 L193.8 876.3 L194.7 874.5 L195.7 872.5 L196.6 870.5 L197.5 868.4 L198.4 866.2 L199.4 864.0 L200.3 861.6 L201.2 859.2 L202.1 856.8 L203.1 854.2 L204.0 851.6 L204.9 849.0 L205.8 846.3 L206.8 843.5 L207.7 840.7 L208.6 837.8 L209.6 834.9 L210.5 832.0 L211.4 829.0 L212.3 825.9 L213.3 822.9 L214.2 819.8 L215.1 816.7 L216.0 813.5 L217.0 810.4 L217.9 807.2 L218.8 804.0 L219.7 800.8 L220.7 797.6 L221.6 794.4 L222.5 791.3 L223.4 788.1 L224.4 784.9 L225.3 781.7 L226.2 778.6 L227.1 775.4 L228.1 772.3 L229.0 769.2 L229.9 766.2 L230.9 763.2 L231.8 760.2 L232.7 757.2 L233.6 754.3 L234.6 751.5 L235.5 748.7 L236.4 745.9 L237.3 743.2 L238.3 740.6 L239.2 738.0 L240.1 735.5 L241.0 733.0 L242.0 730.7 L242.9 728.4 L243.8 726.1 L244.7 724.0 L245.7 721.9 L246.6 719.9 L247.5 718.0 L248.4 716.1 L249.4 714.4 L250.3 712.7 L251.2 711.2 L252.1 709.7 L253.1 708.3 L254.0 707.1 L254.9 705.9 L255.9 704.8 L256.8 703.8 L257.7 702.9 L258.6 702.2 L259.6 701.5 L260.5 700.9 L261.4 700.4 L262.3 700.1 L263.3 699.8 L264.2 699.6 L265.1 699.6 L266.0 699.7 L267.0 699.8 L267.9 700.1 L268.8 700.5 L269.7 700.9 L270.7 701.5 L271.6 702.2 L272.5 703.0 L273.4 703.9 L274.4 704.9 L275.3 705.9 L276.2 707.1 L277.1 708.4 L278.1 709.8 L279.0 711.3 L279.9 712.8 L280.9 714.5 L281.8 716.2 L282.7 718.1 L283.6 720.0 L284.6 722.0 L285.5 724.1 L286.4 726.3 L287.3 728.5 L288.3 730.8 L289.2 733.2 L290.1 735.6 L291.0 738.2 L292.0 740.8 L292.9 743.4 L293.8 746.1 L294.7 748.9 L295.7 751.7 L296.6 754.5 L297.5 757.4 L298.4 760.4 L299.4 763.4 L300.3 766.4 L301.2 769.4 L302.2 772.5 L303.1 775.6 L304.0 778.8 L304.9 781.9 L305.9 785.1 L306.8 788.3 L307.7 791.4 L308.6 794.6 L309.6 797.8 L310.5 801.0 L311.4 804.2 L312.3 807.4 L313.3 810.6 L314.2 813.7 L315.1 816.9 L316.0 820.0 L317.0 823.1 L317.9 826.1 L318.8 829.1 L319.7 832.1 L320.7 835.1 L321.6 838.0 L322.5 840.9 L323.4 843.7 L324.4 846.4 L325.3 849.2" stroke="#0000ff" stroke-width="1.20" fill="none" stroke-linejoin="round" clip-path="url(#ce)"/>
<path d="M44.7 759.7 L44.8 761.7 L44.9 764.5 L45.1 767.8 L45.2 771.3 L45.4 774.5 L45.5 777.1 L45.6 779.1 L45.6 780.8 L45.6 782.3 L45.7 783.5 L45.7 784.7 L45.7 785.8 L45.8 786.8 L45.8 787.7 L45.9 788.5 L45.9 789.2 L45.9 789.8 L46.0 790.4 L46.0 790.9 L46.1 791.3 L46.2 791.7 L46.2 792.0 L46.3 792.2 L46.4 792.4 L46.4 792.5 L46.5 792.6 L46.5 792.7 L46.6 792.7 L46.7 792.6 L46.7 792.4 L46.8 792.1 L46.9 791.7 L47.0 791.3 L47.0 790.7 L47.1 790.2 L47.2 789.7 L47.3 789.1 L47.4 788.5 L47.6 787.9 L47.7 787.3 L47.8 786.7 L47.9 786.2 L48.0 785.8 L48.0 785.4 L48.1 785.1 L48.1 784.8 L48.2 784.6 L48.2 784.4 L49.1 781.2 L50.1 778.1 L51.0 775.0 L51.9 771.9 L52.8 768.8 L53.7 765.8 L54.7 762.8 L55.6 759.8 L56.5 756.9 L57.4 754.0 L58.4 751.1 L59.3 748.3 L60.2 745.6 L61.1 742.9 L62.1 740.3 L63.0 737.7 L63.9 735.2 L64.8 732.8 L65.8 730.4 L66.7 728.1 L67.6 725.9 L68.5 723.7 L69.5 721.7 L70.4 719.7 L71.3 717.8 L72.2 716.0 L73.1 714.2 L74.1 712.6 L75.0 711.1 L75.9 709.6 L76.8 708.2 L77.8 707.0 L78.7 705.8 L79.6 704.7 L80.5 703.7 L81.5 702.9 L82.4 702.1 L83.3 701.4 L84.2 700.9 L85.2 700.4 L86.1 700.0 L87.0 699.8 L87.9 699.6 L88.8 699.6 L89.8 699.7 L90.7 699.8 L91.6 700.1 L92.5 700.5 L93.5 700.9 L94.4 701.5 L95.3 702.2 L96.2 703.0 L97.2 703.9 L98.1 704.9 L99.0 706.0 L99.9 707.2 L100.9 708.4 L101.8 709.8 L102.7 711.3 L103.6 712.8 L104.5 714.5 L105.5 716.2 L106.4 718.1 L107.3 720.0 L108.2 722.0 L109.2 724.1 L110.1 726.2 L111.0 728.5 L111.9 730.8 L112.9 733.1 L113.8 735.6 L114.7 738.1 L115.6 740.7 L116.6 743.3 L117.5 746.0 L118.4 748.8 L119.3 751.6 L120.3 754.4 L121.2 757.3 L122.1 760.2 L123.0 763.2 L123.9 766.2 L124.9 769.3 L125.8 772.3 L126.7 775.4 L127.6 778.6 L128.6 781.7 L129.5 784.9 L130.4 788.0 L131.3 791.2 L132.3 794.4 L133.2 797.6 L134.1 800.8 L135.0 804.0 L136.0 807.1 L136.9 810.3 L137.8 813.5 L138.7 816.6 L139.6 819.7 L140.6 822.8 L141.5 825.8 L142.4 828.8 L143.3 831.8 L144.3 834.8 L145.2 837.7 L146.1 840.5 L147.0 843.4 L148.0 846.1 L148.9 848.8 L149.8 851.5 L150.7 854.1 L151.7 856.6 L152.6 859.1 L153.5 861.5 L154.4 863.8 L155.3 866.1 L156.3 868.2 L157.2 870.3 L158.1 872.4 L159.0 874.3 L160.0 876.2 L160.9 877.9 L161.8 879.6 L162.7 881.2 L163.7 882.7 L164.6 884.1 L165.5 885.4 L166.4 886.6 L167.4 887.7 L168.3 888.8 L169.2 889.7 L170.1 890.5 L171.1 891.2 L172.0 891.8 L172.9 892.3 L173.8 892.7 L174.7 893.0 L175.7 893.2 L176.6 893.3 L177.5 893.3 L178.4 893.2 L179.4 893.0 L180.3 892.6 L181.2 892.2 L182.1 891.7 L183.1 891.0 L184.0 890.3 L184.9 889.4 L185.8 888.5 L186.8 887.4 L187.7 886.3 L188.6 885.1 L189.5 883.7 L190.4 882.3 L191.4 880.8 L192.3 879.2 L193.2 877.5 L194.1 875.7 L195.1 873.8 L196.0 871.8 L196.9 869.8 L197.8 867.7 L198.8 865.5 L199.7 863.2 L200.6 860.8 L201.5 858.4 L202.5 855.9 L203.4 853.4 L204.3 850.8 L205.2 848.1 L206.2 845.4 L207.1 842.6 L208.0 839.8 L208.9 836.9 L209.8 834.0 L210.8 831.0 L211.7 828.0 L212.6 825.0 L213.5 821.9 L214.5 818.8 L215.4 815.7 L216.3 812.6 L217.2 809.4 L218.2 806.3 L219.1 803.1 L220.0 799.9 L220.9 796.7 L221.9 793.5 L222.8 790.4 L223.7 787.2 L224.6 784.0 L225.5 780.9 L226.5 777.7 L227.4 774.6 L228.3 771.5 L229.2 768.4 L230.2 765.4 L231.1 762.4 L232.0 759.4 L232.9 756.5 L233.9 753.6 L234.8 750.8 L235.7 748.0 L236.6 745.3 L237.6 742.6 L238.5 740.0 L239.4 737.4 L240.3 734.9 L241.2 732.5 L242.2 730.1 L243.1 727.8 L244.0 725.6 L244.9 723.5 L245.9 721.4 L246.8 719.5 L247.7 717.6 L248.6 715.8 L249.6 714.0 L250.5 712.4 L251.4 710.9 L252.3 709.4 L253.3 708.1 L254.2 706.8 L255.1 705.7 L256.0 704.6 L257.0 703.6 L257.9 702.8 L258.8 702.0 L259.7 701.4 L260.6 700.8 L261.6 700.4 L262.5 700.0 L263.4 699.8 L264.3 699.6 L265.3 699.6 L266.2 699.7 L267.1 699.9 L268.0 700.1 L269.0 700.5 L269.9 701.0 L270.8 701.6 L271.7 702.3 L272.7 703.1 L273.6 704.0 L274.5 705.0 L275.4 706.1 L276.3 707.3 L277.3 708.6 L278.2 710.0 L279.1 711.5 L280.0 713.0 L281.0 714.7 L281.9 716.5 L282.8 718.3 L283.7 720.2 L284.7 722.2 L285.6 724.3 L286.5 726.5 L287.4 728.7 L288.4 731.0 L289.3 733.4 L290.2 735.9 L291.1 738.4 L292.0 741.0 L293.0 743.6 L293.9 746.3 L294.8 749.1 L295.7 751.9 L296.7 754.7 L297.6 757.6 L298.5 760.6 L299.4 763.6 L300.4 766.6 L301.3 769.6 L302.2 772.7 L303.1 775.8 L304.1 778.9 L305.0 782.1 L305.9 785.2 L306.8 788.4 L307.8 791.6 L308.7 794.8 L309.6 798.0 L310.5 801.2 L311.4 804.3 L312.4 807.5 L313.3 810.7 L314.2 813.8 L315.1 816.9 L316.1 820.1 L317.0 823.1 L317.9 826.2 L318.8 829.2 L319.8 832.2 L320.7 835.1 L321.6 838.0 L322.5 840.9 L323.5 843.7 L324.4 846.5 L325.3 849.2" stroke="#ff0000" stroke-width="1.30" fill="none" stroke-dasharray="1.3 1.3" stroke-linejoin="round" clip-path="url(#ce)"/>
<path d="M44.7 755.8 L44.8 758.2 L44.8 761.7 L44.9 765.7 L45.0 769.9 L45.1 773.9 L45.2 777.1 L45.3 779.7 L45.3 781.9 L45.4 783.9 L45.4 785.6 L45.5 787.2 L45.5 788.7 L45.6 790.1 L45.6 791.4 L45.7 792.6 L45.7 793.5 L45.7 794.2 L45.8 794.6 L45.8 794.2 L45.9 793.6 L45.9 792.9 L45.9 792.2 L45.9 791.6 L46.0 791.2 L46.0 790.8 L46.0 790.4 L46.0 790.1 L46.1 789.8 L46.1 789.7 L46.2 789.8 L46.2 790.1 L46.2 790.3 L46.2 790.5 L46.3 790.6 L46.3 790.7 L46.4 790.6 L46.4 790.5 L47.4 787.3 L48.3 784.1 L49.2 780.9 L50.2 777.7 L51.1 774.6 L52.0 771.5 L52.9 768.4 L53.9 765.3 L54.8 762.3 L55.7 759.3 L56.7 756.4 L57.6 753.5 L58.5 750.6 L59.5 747.8 L60.4 745.1 L61.3 742.4 L62.2 739.8 L63.2 737.2 L64.1 734.7 L65.0 732.3 L66.0 729.9 L66.9 727.6 L67.8 725.4 L68.7 723.2 L69.7 721.2 L70.6 719.2 L71.5 717.3 L72.5 715.5 L73.4 713.8 L74.3 712.2 L75.3 710.6 L76.2 709.2 L77.1 707.8 L78.0 706.6 L79.0 705.5 L79.9 704.4 L80.8 703.5 L81.8 702.6 L82.7 701.9 L83.6 701.2 L84.6 700.7 L85.5 700.3 L86.4 699.9 L87.3 699.7 L88.3 699.6 L89.2 699.6 L90.1 699.7 L91.1 699.9 L92.0 700.2 L92.9 700.7 L93.8 701.2 L94.8 701.8 L95.7 702.5 L96.6 703.4 L97.6 704.3 L98.5 705.3 L99.4 706.5 L100.4 707.7 L101.3 709.1 L102.2 710.5 L103.1 712.0 L104.1 713.6 L105.0 715.3 L105.9 717.1 L106.9 719.0 L107.8 721.0 L108.7 723.0 L109.6 725.2 L110.6 727.4 L111.5 729.7 L112.4 732.0 L113.4 734.5 L114.3 737.0 L115.2 739.5 L116.2 742.2 L117.1 744.8 L118.0 747.6 L118.9 750.4 L119.9 753.2 L120.8 756.1 L121.7 759.1 L122.7 762.0 L123.6 765.1 L124.5 768.1 L125.5 771.2 L126.4 774.3 L127.3 777.4 L128.2 780.6 L129.2 783.8 L130.1 787.0 L131.0 790.2 L132.0 793.4 L132.9 796.6 L133.8 799.8 L134.7 803.0 L135.7 806.2 L136.6 809.4 L137.5 812.5 L138.5 815.7 L139.4 818.8 L140.3 821.9 L141.3 825.0 L142.2 828.1 L143.1 831.1 L144.0 834.1 L145.0 837.0 L145.9 839.9 L146.8 842.7 L147.8 845.5 L148.7 848.3 L149.6 850.9 L150.5 853.6 L151.5 856.1 L152.4 858.6 L153.3 861.1 L154.3 863.4 L155.2 865.7 L156.1 867.9 L157.1 870.0 L158.0 872.1 L158.9 874.0 L159.8 875.9 L160.8 877.7 L161.7 879.4 L162.6 881.0 L163.6 882.5 L164.5 884.0 L165.4 885.3 L166.3 886.5 L167.3 887.6 L168.2 888.7 L169.1 889.6 L170.1 890.4 L171.0 891.2 L171.9 891.8 L172.9 892.3 L173.8 892.7 L174.7 893.0 L175.6 893.2 L176.6 893.3 L177.5 893.3 L178.4 893.2 L179.4 893.0 L180.3 892.6 L181.2 892.2 L182.2 891.6 L183.1 891.0 L184.0 890.3 L184.9 889.4 L185.9 888.4 L186.8 887.4 L187.7 886.2 L188.7 885.0 L189.6 883.6 L190.5 882.2 L191.4 880.6 L192.4 879.0 L193.3 877.3 L194.2 875.5 L195.2 873.6 L196.1 871.6 L197.0 869.5 L198.0 867.4 L198.9 865.2 L199.8 862.9 L200.7 860.5 L201.7 858.0 L202.6 855.5 L203.5 853.0 L204.5 850.3 L205.4 847.6 L206.3 844.9 L207.2 842.1 L208.2 839.2 L209.1 836.3 L210.0 833.4 L211.0 830.4 L211.9 827.4 L212.8 824.3 L213.8 821.2 L214.7 818.1 L215.6 815.0 L216.5 811.8 L217.5 808.6 L218.4 805.4 L219.3 802.2 L220.3 799.0 L221.2 795.8 L222.1 792.6 L223.1 789.4 L224.0 786.2 L224.9 783.0 L225.8 779.9 L226.8 776.7 L227.7 773.6 L228.6 770.5 L229.6 767.4 L230.5 764.4 L231.4 761.3 L232.3 758.4 L233.3 755.4 L234.2 752.6 L235.1 749.7 L236.1 746.9 L237.0 744.2 L237.9 741.5 L238.9 738.9 L239.8 736.4 L240.7 733.9 L241.6 731.5 L242.6 729.1 L243.5 726.9 L244.4 724.7 L245.4 722.6 L246.3 720.5 L247.2 718.6 L248.1 716.7 L249.1 714.9 L250.0 713.2 L250.9 711.6 L251.9 710.1 L252.8 708.7 L253.7 707.4 L254.7 706.2 L255.6 705.1 L256.5 704.1 L257.4 703.2 L258.4 702.4 L259.3 701.6 L260.2 701.0 L261.2 700.5 L262.1 700.1 L263.0 699.9 L264.0 699.7 L264.9 699.6 L265.8 699.6 L266.7 699.8 L267.7 700.0 L268.6 700.4 L269.5 700.8 L270.5 701.4 L271.4 702.0 L272.3 702.8 L273.2 703.7 L274.2 704.6 L275.1 705.7 L276.0 706.9 L277.0 708.2 L277.9 709.5 L278.8 711.0 L279.8 712.5 L280.7 714.2 L281.6 715.9 L282.5 717.8 L283.5 719.7 L284.4 721.7 L285.3 723.7 L286.3 725.9 L287.2 728.1 L288.1 730.4 L289.0 732.8 L290.0 735.3 L290.9 737.8 L291.8 740.4 L292.8 743.0 L293.7 745.7 L294.6 748.5 L295.6 751.3 L296.5 754.2 L297.4 757.1 L298.3 760.0 L299.3 763.0 L300.2 766.1 L301.1 769.1 L302.1 772.2 L303.0 775.3 L303.9 778.5 L304.9 781.6 L305.8 784.8 L306.7 788.0 L307.6 791.2 L308.6 794.4 L309.5 797.6 L310.4 800.8 L311.4 804.0 L312.3 807.2 L313.2 810.4 L314.1 813.6 L315.1 816.7 L316.0 819.9 L316.9 823.0 L317.9 826.0 L318.8 829.1 L319.7 832.1 L320.7 835.0 L321.6 838.0 L322.5 840.8 L323.4 843.7 L324.4 846.4 L325.3 849.2" stroke="#00ff00" stroke-width="1.50" fill="none" stroke-dasharray="4 1.5 1 1.5" stroke-linejoin="round" clip-path="url(#ce)"/>
<path d="M44.7 761.6 L44.8 763.3 L44.8 765.8 L44.9 768.7 L45.0 771.7 L45.1 774.6 L45.2 777.1 L45.3 779.2 L45.3 781.2 L45.4 783.1 L45.4 784.8 L45.5 786.4 L45.5 787.7 L45.6 788.9 L45.6 789.8 L45.7 790.5 L45.7 791.1 L45.7 791.6 L45.8 792.0 L45.8 792.3 L45.9 792.3 L45.9 792.2 L45.9 792.1 L46.0 792.1 L46.9 788.9 L47.8 785.7 L48.8 782.5 L49.7 779.3 L50.6 776.2 L51.5 773.1 L52.5 769.9 L53.4 766.9 L54.3 763.8 L55.3 760.8 L56.2 757.8 L57.1 754.9 L58.1 752.0 L59.0 749.2 L59.9 746.4 L60.9 743.7 L61.8 741.0 L62.7 738.4 L63.7 735.9 L64.6 733.4 L65.5 731.0 L66.4 728.7 L67.4 726.4 L68.3 724.2 L69.2 722.1 L70.2 720.1 L71.1 718.2 L72.0 716.3 L73.0 714.6 L73.9 712.9 L74.8 711.3 L75.8 709.8 L76.7 708.4 L77.6 707.2 L78.6 706.0 L79.5 704.9 L80.4 703.9 L81.3 703.0 L82.3 702.2 L83.2 701.5 L84.1 700.9 L85.1 700.4 L86.0 700.1 L86.9 699.8 L87.9 699.7 L88.8 699.6 L89.7 699.7 L90.7 699.8 L91.6 700.1 L92.5 700.5 L93.5 700.9 L94.4 701.5 L95.3 702.2 L96.2 703.0 L97.2 703.9 L98.1 704.9 L99.0 706.0 L100.0 707.2 L100.9 708.5 L101.8 709.9 L102.8 711.4 L103.7 713.0 L104.6 714.6 L105.6 716.4 L106.5 718.3 L107.4 720.2 L108.3 722.2 L109.3 724.3 L110.2 726.5 L111.1 728.8 L112.1 731.1 L113.0 733.5 L113.9 736.0 L114.9 738.5 L115.8 741.1 L116.7 743.8 L117.7 746.5 L118.6 749.3 L119.5 752.2 L120.5 755.0 L121.4 758.0 L122.3 760.9 L123.2 763.9 L124.2 767.0 L125.1 770.1 L126.0 773.2 L127.0 776.3 L127.9 779.5 L128.8 782.6 L129.8 785.8 L130.7 789.0 L131.6 792.2 L132.6 795.4 L133.5 798.7 L134.4 801.9 L135.4 805.1 L136.3 808.3 L137.2 811.4 L138.1 814.6 L139.1 817.8 L140.0 820.9 L140.9 824.0 L141.9 827.0 L142.8 830.1 L143.7 833.1 L144.7 836.0 L145.6 838.9 L146.5 841.8 L147.5 844.6 L148.4 847.4 L149.3 850.1 L150.2 852.7 L151.2 855.3 L152.1 857.8 L153.0 860.3 L154.0 862.7 L154.9 865.0 L155.8 867.2 L156.8 869.4 L157.7 871.4 L158.6 873.4 L159.6 875.3 L160.5 877.2 L161.4 878.9 L162.4 880.5 L163.3 882.1 L164.2 883.5 L165.1 884.9 L166.1 886.2 L167.0 887.3 L167.9 888.4 L168.9 889.4 L169.8 890.2 L170.7 891.0 L171.7 891.6 L172.6 892.2 L173.5 892.6 L174.5 892.9 L175.4 893.2 L176.3 893.3 L177.3 893.3 L178.2 893.2 L179.1 893.0 L180.0 892.7 L181.0 892.3 L181.9 891.8 L182.8 891.2 L183.8 890.5 L184.7 889.6 L185.6 888.7 L186.6 887.7 L187.5 886.5 L188.4 885.3 L189.4 884.0 L190.3 882.6 L191.2 881.0 L192.1 879.4 L193.1 877.7 L194.0 875.9 L194.9 874.0 L195.9 872.1 L196.8 870.0 L197.7 867.9 L198.7 865.7 L199.6 863.4 L200.5 861.0 L201.5 858.6 L202.4 856.1 L203.3 853.5 L204.3 850.9 L205.2 848.2 L206.1 845.5 L207.0 842.7 L208.0 839.8 L208.9 836.9 L209.8 834.0 L210.8 831.0 L211.7 828.0 L212.6 824.9 L213.6 821.8 L214.5 818.7 L215.4 815.6 L216.4 812.4 L217.3 809.3 L218.2 806.1 L219.2 802.9 L220.1 799.6 L221.0 796.4 L221.9 793.2 L222.9 790.0 L223.8 786.8 L224.7 783.6 L225.7 780.4 L226.6 777.3 L227.5 774.1 L228.5 771.0 L229.4 767.9 L230.3 764.9 L231.3 761.9 L232.2 758.9 L233.1 755.9 L234.0 753.0 L235.0 750.2 L235.9 747.4 L236.8 744.6 L237.8 742.0 L238.7 739.3 L239.6 736.8 L240.6 734.3 L241.5 731.8 L242.4 729.5 L243.4 727.2 L244.3 725.0 L245.2 722.9 L246.2 720.8 L247.1 718.8 L248.0 717.0 L248.9 715.2 L249.9 713.5 L250.8 711.9 L251.7 710.3 L252.7 708.9 L253.6 707.6 L254.5 706.4 L255.5 705.2 L256.4 704.2 L257.3 703.3 L258.3 702.4 L259.2 701.7 L260.1 701.1 L261.1 700.6 L262.0 700.2 L262.9 699.9 L263.8 699.7 L264.8 699.6 L265.7 699.6 L266.6 699.7 L267.6 700.0 L268.5 700.3 L269.4 700.8 L270.4 701.3 L271.3 702.0 L272.2 702.7 L273.2 703.6 L274.1 704.5 L275.0 705.6 L276.0 706.8 L276.9 708.0 L277.8 709.4 L278.7 710.9 L279.7 712.4 L280.6 714.0 L281.5 715.8 L282.5 717.6 L283.4 719.5 L284.3 721.5 L285.3 723.6 L286.2 725.7 L287.1 728.0 L288.1 730.3 L289.0 732.7 L289.9 735.1 L290.8 737.6 L291.8 740.2 L292.7 742.9 L293.6 745.6 L294.6 748.3 L295.5 751.2 L296.4 754.0 L297.4 756.9 L298.3 759.9 L299.2 762.9 L300.2 765.9 L301.1 769.0 L302.0 772.1 L303.0 775.2 L303.9 778.4 L304.8 781.5 L305.7 784.7 L306.7 787.9 L307.6 791.1 L308.5 794.3 L309.5 797.5 L310.4 800.7 L311.3 804.0 L312.3 807.2 L313.2 810.3 L314.1 813.5 L315.1 816.7 L316.0 819.8 L316.9 822.9 L317.9 826.0 L318.8 829.0 L319.7 832.0 L320.6 835.0 L321.6 837.9 L322.5 840.8 L323.4 843.6 L324.4 846.4 L325.3 849.2" stroke="#000000" stroke-width="1.30" fill="none" stroke-dasharray="3 4" stroke-linejoin="round" clip-path="url(#ce)"/>
<path d="M44.7 796.5 L45.6 793.2 L46.6 790.0 L47.5 786.8 L48.4 783.6 L49.4 780.4 L50.3 777.2 L51.2 774.1 L52.2 770.9 L53.1 767.8 L54.1 764.8 L55.0 761.7 L55.9 758.7 L56.9 755.8 L57.8 752.9 L58.7 750.0 L59.7 747.2 L60.6 744.5 L61.5 741.8 L62.5 739.1 L63.4 736.6 L64.3 734.1 L65.3 731.6 L66.2 729.3 L67.1 727.0 L68.1 724.8 L69.0 722.6 L70.0 720.6 L70.9 718.6 L71.8 716.7 L72.8 715.0 L73.7 713.3 L74.6 711.6 L75.6 710.1 L76.5 708.7 L77.4 707.4 L78.4 706.2 L79.3 705.1 L80.2 704.0 L81.2 703.1 L82.1 702.3 L83.0 701.6 L84.0 701.0 L84.9 700.5 L85.9 700.1 L86.8 699.8 L87.7 699.7 L88.7 699.6 L89.6 699.6 L90.5 699.8 L91.5 700.0 L92.4 700.4 L93.3 700.9 L94.3 701.5 L95.2 702.1 L96.1 702.9 L97.1 703.8 L98.0 704.8 L98.9 705.9 L99.9 707.1 L100.8 708.4 L101.8 709.8 L102.7 711.3 L103.6 712.8 L104.6 714.5 L105.5 716.3 L106.4 718.1 L107.4 720.1 L108.3 722.1 L109.2 724.2 L110.2 726.4 L111.1 728.7 L112.0 731.0 L113.0 733.5 L113.9 735.9 L114.9 738.5 L115.8 741.1 L116.7 743.8 L117.7 746.5 L118.6 749.3 L119.5 752.2 L120.5 755.1 L121.4 758.0 L122.3 761.0 L123.3 764.0 L124.2 767.1 L125.1 770.2 L126.1 773.3 L127.0 776.4 L127.9 779.6 L128.9 782.8 L129.8 786.0 L130.8 789.2 L131.7 792.4 L132.6 795.7 L133.6 798.9 L134.5 802.1 L135.4 805.3 L136.4 808.5 L137.3 811.7 L138.2 814.9 L139.2 818.1 L140.1 821.2 L141.0 824.3 L142.0 827.4 L142.9 830.4 L143.8 833.4 L144.8 836.4 L145.7 839.3 L146.7 842.2 L147.6 845.0 L148.5 847.8 L149.5 850.5 L150.4 853.1 L151.3 855.7 L152.3 858.2 L153.2 860.7 L154.1 863.1 L155.1 865.4 L156.0 867.6 L156.9 869.8 L157.9 871.8 L158.8 873.8 L159.7 875.7 L160.7 877.5 L161.6 879.3 L162.6 880.9 L163.5 882.4 L164.4 883.9 L165.4 885.2 L166.3 886.4 L167.2 887.6 L168.2 888.6 L169.1 889.6 L170.0 890.4 L171.0 891.1 L171.9 891.8 L172.8 892.3 L173.8 892.7 L174.7 893.0 L175.6 893.2 L176.6 893.3 L177.5 893.3 L178.5 893.2 L179.4 892.9 L180.3 892.6 L181.3 892.2 L182.2 891.6 L183.1 891.0 L184.1 890.2 L185.0 889.3 L185.9 888.4 L186.9 887.3 L187.8 886.1 L188.7 884.9 L189.7 883.5 L190.6 882.0 L191.5 880.5 L192.5 878.8 L193.4 877.1 L194.4 875.2 L195.3 873.3 L196.2 871.3 L197.2 869.2 L198.1 867.0 L199.0 864.8 L200.0 862.5 L200.9 860.1 L201.8 857.6 L202.8 855.1 L203.7 852.5 L204.6 849.8 L205.6 847.1 L206.5 844.3 L207.4 841.5 L208.4 838.6 L209.3 835.6 L210.3 832.7 L211.2 829.7 L212.1 826.6 L213.1 823.5 L214.0 820.4 L214.9 817.3 L215.9 814.1 L216.8 810.9 L217.7 807.7 L218.7 804.5 L219.6 801.3 L220.5 798.1 L221.5 794.8 L222.4 791.6 L223.3 788.4 L224.3 785.2 L225.2 782.0 L226.2 778.8 L227.1 775.6 L228.0 772.5 L229.0 769.4 L229.9 766.3 L230.8 763.2 L231.8 760.2 L232.7 757.2 L233.6 754.3 L234.6 751.4 L235.5 748.6 L236.4 745.8 L237.4 743.1 L238.3 740.4 L239.2 737.8 L240.2 735.3 L241.1 732.8 L242.1 730.4 L243.0 728.1 L243.9 725.9 L244.9 723.7 L245.8 721.6 L246.7 719.6 L247.7 717.7 L248.6 715.8 L249.5 714.1 L250.5 712.4 L251.4 710.9 L252.3 709.4 L253.3 708.0 L254.2 706.8 L255.2 705.6 L256.1 704.5 L257.0 703.6 L258.0 702.7 L258.9 701.9 L259.8 701.3 L260.8 700.7 L261.7 700.3 L262.6 700.0 L263.6 699.7 L264.5 699.6 L265.4 699.6 L266.4 699.7 L267.3 699.9 L268.2 700.2 L269.2 700.6 L270.1 701.2 L271.1 701.8 L272.0 702.5 L272.9 703.4 L273.9 704.3 L274.8 705.3 L275.7 706.5 L276.7 707.7 L277.6 709.1 L278.5 710.5 L279.5 712.1 L280.4 713.7 L281.3 715.4 L282.3 717.2 L283.2 719.1 L284.1 721.1 L285.1 723.2 L286.0 725.3 L287.0 727.6 L287.9 729.9 L288.8 732.2 L289.8 734.7 L290.7 737.2 L291.6 739.8 L292.6 742.5 L293.5 745.2 L294.4 747.9 L295.4 750.8 L296.3 753.6 L297.2 756.5 L298.2 759.5 L299.1 762.5 L300.0 765.6 L301.0 768.6 L301.9 771.7 L302.9 774.9 L303.8 778.0 L304.7 781.2 L305.7 784.4 L306.6 787.6 L307.5 790.8 L308.5 794.1 L309.4 797.3 L310.3 800.5 L311.3 803.7 L312.2 807.0 L313.1 810.2 L314.1 813.3 L315.0 816.5 L315.9 819.7 L316.9 822.8 L317.8 825.9 L318.8 828.9 L319.7 832.0 L320.6 834.9 L321.6 837.9 L322.5 840.8 L323.4 843.6 L324.4 846.4 L325.3 849.2" stroke="#ff0000" stroke-width="1.60" fill="none" stroke-dasharray="5.5 3.5" stroke-linejoin="round" clip-path="url(#ce)"/>
<path d="M44.70 941.75v-2.50M44.70 699.60v2.50M72.76 941.75v-2.50M72.76 699.60v2.50M100.82 941.75v-2.50M100.82 699.60v2.50M128.88 941.75v-2.50M128.88 699.60v2.50M156.94 941.75v-2.50M156.94 699.60v2.50M185.00 941.75v-2.50M185.00 699.60v2.50M213.06 941.75v-2.50M213.06 699.60v2.50M241.12 941.75v-2.50M241.12 699.60v2.50M269.18 941.75v-2.50M269.18 699.60v2.50M297.24 941.75v-2.50M297.24 699.60v2.50M325.30 941.75v-2.50M325.30 699.60v2.50M44.70 941.75h2.50M325.30 941.75h-2.50M44.70 893.32h2.50M325.30 893.32h-2.50M44.70 844.89h2.50M325.30 844.89h-2.50M44.70 796.46h2.50M325.30 796.46h-2.50M44.70 748.03h2.50M325.30 748.03h-2.50M44.70 699.60h2.50M325.30 699.60h-2.50" stroke="#404040" stroke-width="0.8" fill="none"/>
<rect x="44.70" y="699.60" width="280.60" height="242.15" fill="none" stroke="#404040" stroke-width="1.20"/>
<text x="44.70" y="954.25" font-size="9.50" text-anchor="middle" fill="#262626" font-family='"Liberation Serif", serif' font-weight="normal">0</text>
<text x="72.76" y="954.25" font-size="9.50" text-anchor="middle" fill="#262626" font-family='"Liberation Serif", serif' font-weight="normal">1</text>
<text x="100.82" y="954.25" font-size="9.50" text-anchor="middle" fill="#262626" font-family='"Liberation Serif", serif' font-weight="normal">2</text>
<text x="128.88" y="954.25" font-size="9.50" text-anchor="middle" fill="#262626" font-family='"Liberation Serif", serif' font-weight="normal">3</text>
<text x="156.94" y="954.25" font-size="9.50" text-anchor="middle" fill="#262626" font-family='"Liberation Serif", serif' font-weight="normal">4</text>
<text x="185.00" y="954.25" font-size="9.50" text-anchor="middle" fill="#262626" font-family='"Liberation Serif", serif' font-weight="normal">5</text>
<text x="213.06" y="954.25" font-size="9.50" text-anchor="middle" fill="#262626" font-family='"Liberation Serif", serif' font-weight="normal">6</text>
<text x="241.12" y="954.25" font-size="9.50" text-anchor="middle" fill="#262626" font-family='"Liberation Serif", serif' font-weight="normal">7</text>
<text x="269.18" y="954.25" font-size="9.50" text-anchor="middle" fill="#262626" font-family='"Liberation Serif", serif' font-weight="normal">8</text>
<text x="297.24" y="954.25" font-size="9.50" text-anchor="middle" fill="#262626" font-family='"Liberation Serif", serif' font-weight="normal">9</text>
<text x="325.30" y="954.25" font-size="9.50" text-anchor="middle" fill="#262626" font-family='"Liberation Serif", serif' font-weight="normal">10</text>
<text x="40.70" y="945.55" font-size="9.50" text-anchor="end" fill="#262626" font-family='"Liberation Serif", serif' font-weight="normal">-1.5</text>
<text x="40.70" y="897.12" font-size="9.50" text-anchor="end" fill="#262626" font-family='"Liberation Serif", serif' font-weight="normal">-1</text>
<text x="40.70" y="848.69" font-size="9.50" text-anchor="end" fill="#262626" font-family='"Liberation Serif", serif' font-weight="normal">-0.5</text>
<text x="40.70" y="800.26" font-size="9.50" text-anchor="end" fill="#262626" font-family='"Liberation Serif", serif' font-weight="normal">0</text>
<text x="40.70" y="751.83" font-size="9.50" text-anchor="end" fill="#262626" font-family='"Liberation Serif", serif' font-weight="normal">0.5</text>
<text x="40.70" y="703.40" font-size="9.50" text-anchor="end" fill="#262626" font-family='"Liberation Serif", serif' font-weight="normal">1</text>
<text x="185.20" y="965.90" font-size="10.40" text-anchor="middle" fill="#262626" font-family='"Liberation Serif", serif' font-weight="normal" textLength="27.80" lengthAdjust="spacingAndGlyphs">time(s)</text>
<text transform="translate(17.40,820.55) rotate(-90)" font-size="10.30" text-anchor="middle" fill="#262626" font-family='"Liberation Serif", serif' textLength="67.00" lengthAdjust="spacingAndGlyphs">Position x<tspan font-size="7.21" dy="3.09">1</tspan><tspan dy="-3.09"> (rad)</tspan></text>
<rect x="65.90" y="848.00" width="79.20" height="54.70" fill="#fff"/>
<path d="M105.50 848.00V902.70M65.90 875.35H145.10" stroke="#e2e2e2" stroke-width="1.00" fill="none"/>
<path d="M65.9 830.2 L66.8 832.2 L68.0 834.9 L69.4 838.1 L70.9 841.5 L72.3 844.9 L73.4 848.0 L74.3 850.9 L75.1 853.9 L75.8 856.8 L76.4 859.6 L77.1 862.2 L77.8 864.4 L78.5 866.3 L79.3 868.0 L80.0 869.4 L80.7 870.6 L81.5 871.7 L82.1 872.6 L82.8 873.3 L83.3 873.8 L83.9 874.1 L84.5 874.3 L85.0 874.5 L85.7 874.7 L86.4 874.9 L87.2 875.1 L88.1 875.2 L88.9 875.3 L89.7 875.4 L90.5 875.4 L91.1 875.3 L91.7 875.3 L92.3 875.2 L92.9 875.0 L93.4 874.7 L94.0 874.3 L94.6 873.7 L95.2 872.9 L95.7 872.0 L96.3 871.1 L96.9 870.1 L97.6 869.2 L98.3 868.2 L99.0 867.0 L99.8 865.9 L100.5 864.8 L101.2 863.8 L101.9 863.0 L102.6 862.5 L103.3 862.2 L104.0 862.0 L104.6 861.9 L105.1 861.8 L105.5 861.7 L106.2 861.5 L106.8 861.2 L107.5 861.0 L108.1 860.8 L108.8 860.6 L109.5 860.3 L110.1 860.1 L110.8 859.9 L111.4 859.7 L112.1 859.4 L112.8 859.2 L113.4 859.0 L114.1 858.8 L114.7 858.5 L115.4 858.3 L116.1 858.1 L116.7 857.8 L117.4 857.6 L118.0 857.4 L118.7 857.2 L119.4 856.9 L120.0 856.7 L120.7 856.5 L121.3 856.3 L122.0 856.0 L122.7 855.8 L123.3 855.6 L124.0 855.4 L124.6 855.1 L125.3 854.9 L126.0 854.7 L126.6 854.5 L127.3 854.2 L127.9 854.0 L128.6 853.8 L129.3 853.6 L129.9 853.3 L130.6 853.1 L131.2 852.9 L131.9 852.7 L132.6 852.4 L133.2 852.2 L133.9 852.0 L134.5 851.8 L135.2 851.5 L135.9 851.3 L136.5 851.1 L137.2 850.9 L137.8 850.6 L138.5 850.4 L139.2 850.2 L139.8 850.0 L140.5 849.7 L141.1 849.5 L141.8 849.3 L142.5 849.1 L143.1 848.9 L143.8 848.6 L144.4 848.4 L145.1 848.2" stroke="#0000ff" stroke-width="1.20" fill="none" stroke-linejoin="round" clip-path="url(#cei)"/>
<path d="M65.9 823.4 L67.2 826.2 L69.1 830.2 L71.2 834.9 L73.4 839.8 L75.4 844.3 L77.0 848.0 L78.0 850.8 L78.7 853.2 L79.2 855.3 L79.6 857.1 L80.0 858.7 L80.6 860.3 L81.1 861.8 L81.7 863.0 L82.2 864.1 L82.8 865.1 L83.4 865.9 L84.1 866.7 L84.9 867.5 L85.7 868.1 L86.6 868.6 L87.5 869.0 L88.4 869.3 L89.3 869.6 L90.2 869.8 L91.0 870.0 L91.9 870.0 L92.9 870.0 L93.8 869.9 L94.8 869.6 L95.8 869.2 L96.9 868.7 L97.9 868.0 L99.0 867.3 L100.2 866.5 L101.5 865.8 L103.0 865.0 L104.7 864.1 L106.4 863.2 L108.2 862.4 L109.7 861.6 L111.0 860.9 L112.1 860.3 L113.0 859.7 L113.8 859.3 L114.5 858.9 L115.0 858.5 L115.4 858.3 L115.9 858.1 L116.4 858.0 L116.9 857.8 L117.4 857.6 L117.9 857.5 L118.4 857.3 L118.9 857.1 L119.4 856.9 L119.9 856.8 L120.3 856.6 L120.8 856.4 L121.3 856.3 L121.8 856.1 L122.3 855.9 L122.8 855.8 L123.3 855.6 L123.8 855.4 L124.3 855.3 L124.8 855.1 L125.3 854.9 L125.8 854.7 L126.3 854.6 L126.8 854.4 L127.3 854.2 L127.8 854.1 L128.3 853.9 L128.8 853.7 L129.3 853.6 L129.8 853.4 L130.2 853.2 L130.7 853.1 L131.2 852.9 L131.7 852.7 L132.2 852.6 L132.7 852.4 L133.2 852.2 L133.7 852.0 L134.2 851.9 L134.7 851.7 L135.2 851.5 L135.7 851.4 L136.2 851.2 L136.7 851.0 L137.2 850.9 L137.7 850.7 L138.2 850.5 L138.7 850.4 L139.2 850.2 L139.7 850.0 L140.1 849.9 L140.6 849.7 L141.1 849.5 L141.6 849.4 L142.1 849.2 L142.6 849.0 L143.1 848.9 L143.6 848.7 L144.1 848.5 L144.6 848.3 L145.1 848.2" stroke="#ff0000" stroke-width="1.30" fill="none" stroke-dasharray="1.3 1.3" stroke-linejoin="round" clip-path="url(#cei)"/>
<path d="M65.9 817.9 L66.7 821.3 L67.8 826.2 L69.1 831.9 L70.4 837.9 L71.7 843.4 L72.9 848.0 L73.8 851.6 L74.7 854.8 L75.6 857.6 L76.3 860.0 L77.1 862.3 L77.8 864.4 L78.4 866.4 L79.0 868.3 L79.5 869.9 L80.0 871.2 L80.5 872.2 L80.9 872.8 L81.4 872.8 L81.8 872.2 L82.2 871.3 L82.6 870.3 L82.9 869.3 L83.3 868.5 L83.7 867.9 L84.1 867.3 L84.5 866.8 L84.9 866.3 L85.3 866.0 L85.7 865.8 L86.1 865.8 L86.5 866.0 L86.9 866.3 L87.3 866.7 L87.7 867.0 L88.1 867.1 L88.5 867.2 L89.0 867.2 L89.4 867.1 L89.8 867.0 L90.2 866.9 L90.5 866.9 L91.4 866.6 L92.3 866.2 L93.2 865.9 L94.1 865.6 L95.0 865.3 L95.9 865.0 L96.8 864.7 L97.7 864.4 L98.6 864.1 L99.6 863.7 L100.5 863.4 L101.4 863.1 L102.3 862.8 L103.2 862.5 L104.1 862.2 L105.0 861.9 L105.9 861.5 L106.8 861.2 L107.8 860.9 L108.7 860.6 L109.6 860.3 L110.5 860.0 L111.4 859.7 L112.3 859.4 L113.2 859.0 L114.1 858.7 L115.0 858.4 L116.0 858.1 L116.9 857.8 L117.8 857.5 L118.7 857.2 L119.6 856.9 L120.5 856.6 L121.4 856.2 L122.3 855.9 L123.2 855.6 L124.2 855.3 L125.1 855.0 L126.0 854.7 L126.9 854.4 L127.8 854.1 L128.7 853.8 L129.6 853.4 L130.5 853.1 L131.4 852.8 L132.3 852.5 L133.3 852.2 L134.2 851.9 L135.1 851.6 L136.0 851.3 L136.9 851.0 L137.8 850.7 L138.7 850.3 L139.6 850.0 L140.5 849.7 L141.5 849.4 L142.4 849.1 L143.3 848.8 L144.2 848.5 L145.1 848.2" stroke="#00ff00" stroke-width="1.50" fill="none" stroke-dasharray="4 1.5 1 1.5" stroke-linejoin="round" clip-path="url(#cei)"/>
<path d="M65.9 826.1 L66.7 828.6 L67.8 832.0 L69.1 836.1 L70.4 840.4 L71.7 844.5 L72.9 848.0 L73.8 851.0 L74.7 853.9 L75.6 856.5 L76.3 859.0 L77.1 861.1 L77.8 863.0 L78.4 864.6 L79.0 865.9 L79.5 867.0 L80.0 867.8 L80.5 868.5 L80.9 869.1 L81.5 869.4 L82.0 869.5 L82.5 869.5 L83.0 869.4 L83.4 869.2 L83.7 869.2 L84.7 868.8 L85.8 868.5 L86.8 868.1 L87.8 867.8 L88.8 867.4 L89.9 867.1 L90.9 866.7 L91.9 866.4 L92.9 866.0 L94.0 865.7 L95.0 865.3 L96.0 865.0 L97.0 864.6 L98.0 864.3 L99.1 863.9 L100.1 863.6 L101.1 863.2 L102.1 862.9 L103.2 862.5 L104.2 862.2 L105.2 861.8 L106.2 861.4 L107.2 861.1 L108.3 860.7 L109.3 860.4 L110.3 860.0 L111.3 859.7 L112.4 859.3 L113.4 859.0 L114.4 858.6 L115.4 858.3 L116.5 857.9 L117.5 857.6 L118.5 857.2 L119.5 856.9 L120.5 856.5 L121.6 856.2 L122.6 855.8 L123.6 855.5 L124.6 855.1 L125.7 854.8 L126.7 854.4 L127.7 854.1 L128.7 853.7 L129.8 853.4 L130.8 853.0 L131.8 852.7 L132.8 852.3 L133.8 852.0 L134.9 851.7 L135.9 851.3 L136.9 851.0 L137.9 850.6 L139.0 850.3 L140.0 849.9 L141.0 849.6 L142.0 849.2 L143.1 848.9 L144.1 848.5 L145.1 848.2" stroke="#000000" stroke-width="1.30" fill="none" stroke-dasharray="3 4" stroke-linejoin="round" clip-path="url(#cei)"/>
<path d="M65.9 875.4 L67.2 874.9 L68.5 874.4 L69.9 874.0 L71.2 873.5 L72.5 873.1 L73.8 872.6 L75.1 872.2 L76.5 871.7 L77.8 871.2 L79.1 870.8 L80.4 870.3 L81.7 869.9 L83.1 869.4 L84.4 869.0 L85.7 868.5 L87.0 868.1 L88.3 867.6 L89.7 867.1 L91.0 866.7 L92.3 866.2 L93.6 865.8 L94.9 865.3 L96.3 864.9 L97.6 864.4 L98.9 864.0 L100.2 863.5 L101.5 863.1 L102.9 862.6 L104.2 862.2 L105.5 861.7 L106.8 861.2 L108.1 860.8 L109.5 860.3 L110.8 859.9 L112.1 859.4 L113.4 859.0 L114.7 858.5 L116.1 858.1 L117.4 857.6 L118.7 857.2 L120.0 856.7 L121.3 856.3 L122.7 855.8 L124.0 855.4 L125.3 854.9 L126.6 854.5 L127.9 854.0 L129.3 853.6 L130.6 853.1 L131.9 852.7 L133.2 852.2 L134.5 851.8 L135.9 851.3 L137.2 850.9 L138.5 850.4 L139.8 850.0 L141.1 849.5 L142.5 849.1 L143.8 848.6 L145.1 848.2" stroke="#ff0000" stroke-width="1.60" fill="none" stroke-dasharray="5.5 3.5" stroke-linejoin="round" clip-path="url(#cei)"/>
<path d="M65.90 902.70v-2.00M65.90 848.00v2.00M105.50 902.70v-2.00M105.50 848.00v2.00M145.10 902.70v-2.00M145.10 848.00v2.00M65.90 902.70h2.00M145.10 902.70h-2.00M65.90 875.35h2.00M145.10 875.35h-2.00M65.90 848.00h2.00M145.10 848.00h-2.00" stroke="#404040" stroke-width="0.8" fill="none"/>
<rect x="65.90" y="848.00" width="79.20" height="54.70" fill="none" stroke="#404040" stroke-width="1.10"/>
<text x="65.90" y="915.70" font-size="9.00" text-anchor="middle" fill="#262626" font-family='"Liberation Serif", serif' font-weight="normal">0</text>
<text x="105.50" y="915.70" font-size="9.00" text-anchor="middle" fill="#262626" font-family='"Liberation Serif", serif' font-weight="normal">0.1</text>
<text x="145.10" y="915.70" font-size="9.00" text-anchor="middle" fill="#262626" font-family='"Liberation Serif", serif' font-weight="normal">0.2</text>
<text x="61.90" y="906.30" font-size="9.00" text-anchor="end" fill="#262626" font-family='"Liberation Serif", serif' font-weight="normal">-0.2</text>
<text x="61.90" y="878.95" font-size="9.00" text-anchor="end" fill="#262626" font-family='"Liberation Serif", serif' font-weight="normal">0</text>
<text x="61.90" y="851.60" font-size="9.00" text-anchor="end" fill="#262626" font-family='"Liberation Serif", serif' font-weight="normal">0.2</text>
<line x1="48.30" y1="787.10" x2="78.30" y2="838.00" stroke="#222" stroke-width="0.75"/>
<path d="M81.60 843.60 L74.01 838.21 L78.79 838.84 L80.56 834.35 Z" fill="#222"/>
<rect x="203.40" y="867.20" width="150.10" height="69.90" fill="#fff" stroke="#404040" stroke-width="1.1"/>
<line x1="206.00" y1="876.50" x2="228.00" y2="876.50" stroke="#0000ff" stroke-width="1.30"/>
<text x="230.60" y="879.20" font-size="8.50" text-anchor="start" fill="#262626" font-family='"Liberation Serif", serif' font-weight="normal" textLength="118.70" lengthAdjust="spacingAndGlyphs">Sigmoid function  1/(1+exp(-a.x+b)</text>
<line x1="206.00" y1="890.50" x2="228.00" y2="890.50" stroke="#ff0000" stroke-width="1.00" stroke-dasharray="1 1"/>
<text x="230.60" y="892.90" font-size="8.50" text-anchor="start" fill="#262626" font-family='"Liberation Serif", serif' font-weight="normal" textLength="118.98" lengthAdjust="spacingAndGlyphs"> HTF(1-exp(-a.x+b)/1+exp(-a.x+b))</text>
<line x1="206.00" y1="903.50" x2="228.00" y2="903.50" stroke="#00ff00" stroke-width="1.10" stroke-dasharray="4 1 2 1"/>
<text x="230.60" y="906.20" font-size="8.50" text-anchor="start" fill="#262626" font-family='"Liberation Serif", serif' font-weight="normal" textLength="60.27" lengthAdjust="spacingAndGlyphs">Cosine cos(a.x+b)</text>
<line x1="206.00" y1="916.50" x2="228.00" y2="916.50" stroke="#333" stroke-width="1.50" stroke-dasharray="4.40"/>
<text x="230.60" y="919.40" font-size="8.50" text-anchor="start" fill="#262626" font-family='"Liberation Serif", serif' font-weight="normal" textLength="105.08" lengthAdjust="spacingAndGlyphs">Hard limit Function  cos(a.x+b)</text>
<line x1="206.00" y1="929.50" x2="228.00" y2="929.50" stroke="#ff0000" stroke-width="2.20" stroke-dasharray="5.83"/>
<text x="230.60" y="932.60" font-size="8.50" text-anchor="start" fill="#262626" font-family='"Liberation Serif", serif' font-weight="normal" textLength="33.53" lengthAdjust="spacingAndGlyphs">Reference</text>
<text x="186.40" y="986.05" font-size="16.50" text-anchor="middle" fill="#000" font-family='"Liberation Sans", sans-serif' font-weight="bold" textLength="19.60" lengthAdjust="spacingAndGlyphs">(e)</text>
<path d="M467.64 699.50V943.40M520.58 699.50V943.40M573.52 699.50V943.40M626.46 699.50V943.40M414.70 912.91H679.40M414.70 882.42H679.40M414.70 851.94H679.40M414.70 821.45H679.40M414.70 790.96H679.40M414.70 760.48H679.40M414.70 729.99H679.40" stroke="#e2e2e2" stroke-width="1.00" fill="none"/>
<path d="M417.1 825.1 L417.6 824.2 L418.4 822.9 L418.9 822.9 L420.0 822.9 L421.3 822.8 L422.7 822.8 L424.0 822.8 L425.3 822.8 L426.4 822.8 L427.3 822.9 L428.3 822.9 L429.3 823.0 L430.6 823.0 L432.2 823.1 L434.1 823.2 L436.4 823.2 L438.9 823.3 L441.5 823.3 L444.0 823.4 L446.5 823.5 L448.8 823.5 L451.0 823.6 L453.3 823.6 L455.5 823.7 L457.8 823.7 L460.2 823.8 L462.7 823.8 L465.3 823.8 L468.0 823.7 L470.6 823.7 L473.2 823.7 L475.6 823.6 L477.9 823.6 L480.1 823.6 L482.2 823.5 L484.3 823.5 L486.3 823.4 L488.3 823.3 L490.3 823.3 L492.2 823.2 L494.2 823.1 L496.0 823.1 L497.8 823.0 L499.4 822.9 L500.9 822.8 L502.1 822.8 L503.3 822.7 L504.5 822.6 L505.7 822.5 L507.1 822.4 L508.6 822.2 L510.1 822.1 L511.7 821.9 L513.4 821.8 L515.0 821.6 L516.6 821.5 L518.2 821.3 L519.7 821.1 L521.2 820.9 L522.7 820.7 L524.3 820.5 L525.9 820.3 L527.6 820.1 L529.4 819.9 L531.3 819.8 L533.1 819.6 L534.8 819.4 L536.5 819.3 L537.8 819.2 L538.9 819.1 L539.9 819.1 L541.1 819.0 L542.5 819.0 L544.4 819.0 L547.0 818.9 L547.0 819.6 L547.3 806.2 L547.8 819.0 L548.6 818.4 L550.1 819.0 L553.5 819.0 L557.0 819.0 L560.2 819.1 L562.9 819.1 L565.2 819.2 L567.0 819.2 L568.7 819.3 L570.3 819.4 L571.8 819.4 L573.5 819.5 L575.3 819.6 L577.1 819.7 L579.0 819.8 L580.8 819.9 L582.5 820.0 L584.1 820.1 L585.6 820.3 L587.0 820.4 L588.2 820.6 L589.5 820.7 L590.8 820.9 L592.0 821.1 L593.3 821.4 L594.6 821.6 L595.9 821.9 L597.2 822.2 L598.5 822.5 L600.0 822.7 L601.5 822.8 L603.0 823.0 L604.5 823.1 L606.2 823.2 L608.0 823.3 L610.0 823.3 L612.3 823.4 L614.7 823.5 L617.3 823.6 L620.0 823.6 L622.9 823.7 L625.9 823.7 L629.2 823.7 L632.9 823.7 L636.6 823.7 L640.4 823.7 L644.1 823.6 L647.6 823.6 L651.0 823.5 L654.4 823.4 L657.7 823.3 L660.8 823.1 L663.6 823.0 L666.2 822.9 L668.3 822.7 L670.2 822.5 L671.9 822.3 L673.3 822.2 L674.5 822.0 L675.7 821.9 L676.7 821.8 L677.5 821.7 L678.1 821.6 L678.7 821.5 L679.1 821.5 L679.4 821.5" stroke="#0000ff" stroke-width="1.50" fill="none" stroke-linejoin="round" clip-path="url(#cf)"/>
<path d="M417.9 841.0 L418.7 819.6 L420.0 821.5 L420.3 821.7 L420.6 822.0 L421.0 822.3 L421.5 822.7 L422.0 823.0 L422.6 823.3 L423.3 823.5 L423.9 823.7 L424.6 823.9 L425.5 824.1 L426.6 824.2 L427.9 824.4 L429.7 824.5 L431.8 824.6 L434.1 824.7 L436.5 824.8 L438.9 824.9 L441.2 824.9 L443.4 825.0 L445.6 825.0 L447.8 825.0 L450.0 825.0 L452.2 825.0 L454.4 825.0 L456.6 825.0 L458.8 825.0 L461.0 824.9 L463.2 824.9 L465.4 824.9 L467.6 824.8 L469.8 824.7 L472.0 824.7 L474.2 824.6 L476.4 824.4 L478.6 824.3 L480.9 824.2 L483.3 824.0 L485.8 823.9 L488.4 823.7 L490.9 823.5 L493.3 823.3 L495.4 823.1 L497.3 822.9 L499.0 822.7 L500.5 822.4 L502.0 822.2 L503.3 822.0 L504.7 821.8 L506.0 821.5 L507.2 821.3 L508.3 821.0 L509.4 820.8 L510.6 820.5 L511.8 820.3 L513.2 820.1 L514.7 819.8 L516.2 819.6 L517.7 819.4 L519.2 819.2 L520.6 819.0 L521.9 818.9 L523.1 818.7 L524.3 818.6 L525.5 818.6 L526.9 818.5 L528.5 818.4 L530.4 818.3 L532.5 818.3 L534.8 818.2 L537.1 818.2 L539.5 818.1 L541.8 818.1 L544.0 818.1 L546.2 818.1 L547.0 819.6 L547.3 800.7 L547.7 828.8 L548.1 817.8 L548.6 818.4 L550.6 818.1 L552.8 818.1 L555.0 818.1 L557.2 818.1 L559.4 818.2 L561.6 818.2 L563.8 818.3 L566.0 818.3 L568.2 818.4 L570.5 818.5 L572.9 818.5 L575.3 818.5 L577.6 818.6 L579.7 818.7 L581.5 818.8 L582.8 818.9 L583.8 819.0 L584.6 819.1 L585.3 819.2 L586.0 819.4 L586.8 819.6 L587.6 819.9 L588.5 820.3 L589.4 820.8 L590.3 821.2 L591.2 821.7 L592.0 822.1 L592.9 822.4 L593.8 822.7 L594.7 823.1 L595.6 823.4 L596.5 823.6 L597.3 823.9 L598.0 824.1 L598.4 824.3 L598.8 824.5 L599.5 824.6 L600.7 824.7 L602.6 824.8 L605.7 824.9 L609.6 824.9 L614.1 824.9 L618.6 825.0 L622.9 824.9 L626.5 824.9 L629.3 824.9 L631.7 824.8 L633.7 824.8 L635.7 824.7 L637.6 824.6 L639.7 824.5 L641.9 824.4 L644.1 824.4 L646.3 824.3 L648.5 824.2 L650.7 824.1 L652.9 824.0 L655.2 823.9 L657.5 823.8 L659.9 823.7 L662.1 823.5 L664.3 823.4 L666.2 823.2 L667.8 822.9 L669.3 822.7 L670.6 822.4 L671.9 822.1 L673.0 821.8 L674.1 821.5 L675.2 821.1 L676.3 820.8 L677.2 820.4 L678.1 820.1 L678.9 819.8 L679.4 819.6" stroke="#ff0000" stroke-width="1.50" fill="none" stroke-dasharray="1.4 1.4" stroke-linejoin="round" clip-path="url(#cf)"/>
<path d="M415.9 820.8 L420.0 820.8 L425.3 820.8 L426.6 820.8 L427.9 820.8 L429.3 820.8 L430.6 820.8 L431.9 820.8 L433.2 820.8 L434.6 820.8 L435.9 820.8 L437.2 820.8 L438.5 820.8 L439.8 820.8 L441.2 820.8 L442.5 820.8 L443.8 820.8 L445.1 820.8 L446.5 820.8 L447.8 820.9 L449.1 820.9 L450.4 820.9 L451.8 820.9 L453.1 820.9 L454.4 820.9 L455.7 821.0 L457.1 821.0 L458.4 821.0 L459.7 821.0 L461.0 821.0 L462.3 821.0 L463.7 821.1 L465.0 821.1 L466.3 821.1 L467.6 821.1 L469.0 821.1 L470.3 821.1 L471.6 821.1 L472.9 821.1 L474.3 821.1 L475.6 821.1 L476.9 821.1 L478.2 821.1 L479.6 821.1 L480.9 821.1 L482.2 821.1 L483.5 821.1 L484.8 821.1 L486.2 821.1 L487.5 821.1 L488.8 821.1 L490.1 821.1 L491.5 821.0 L492.8 821.0 L494.1 821.0 L495.4 821.0 L496.8 821.0 L498.1 821.0 L499.4 820.9 L500.7 820.9 L502.1 820.9 L503.4 820.9 L504.7 820.9 L506.0 820.9 L507.3 820.8 L508.7 820.8 L510.0 820.8 L511.3 820.8 L512.6 820.8 L514.0 820.8 L515.3 820.8 L516.6 820.8 L517.9 820.8 L519.3 820.8 L520.6 820.8 L521.9 820.8 L523.2 820.8 L524.6 820.8 L525.9 820.8 L527.2 820.8 L528.5 820.8 L529.8 820.8 L531.2 820.9 L532.5 820.9 L533.8 820.9 L535.1 820.9 L536.5 820.9 L537.8 820.9 L539.1 821.0 L540.4 821.0 L541.8 821.0 L543.1 821.0 L544.4 821.0 L545.7 821.0 L547.0 820.8 L547.3 810.5 L547.8 820.2 L548.6 820.8 L549.7 821.1 L551.0 821.1 L552.3 821.1 L553.7 821.1 L555.0 821.1 L556.3 821.1 L557.6 821.1 L559.0 821.1 L560.3 821.1 L561.6 821.1 L562.9 821.1 L564.3 821.1 L565.6 821.1 L566.9 821.1 L568.2 821.1 L569.5 821.1 L570.9 821.1 L572.2 821.1 L573.5 821.1 L574.8 821.0 L576.2 821.0 L577.5 821.0 L578.8 821.0 L580.1 821.0 L581.5 821.0 L582.8 820.9 L584.1 820.9 L585.4 820.9 L586.8 820.9 L588.1 820.9 L589.4 820.9 L590.7 820.8 L592.0 820.8 L593.4 820.8 L594.7 820.8 L596.0 820.8 L597.3 820.8 L598.7 820.8 L600.0 820.8 L601.3 820.8 L602.6 820.8 L604.0 820.8 L605.3 820.8 L606.6 820.8 L607.9 820.8 L609.3 820.8 L610.6 820.8 L611.9 820.8 L613.2 820.8 L614.5 820.9 L615.9 820.9 L617.2 820.9 L618.5 820.9 L619.8 820.9 L621.2 820.9 L622.5 821.0 L623.8 821.0 L625.1 821.0 L626.5 821.0 L627.8 821.0 L629.1 821.0 L630.4 821.1 L631.8 821.1 L633.1 821.1 L634.4 821.1 L635.7 821.1 L637.0 821.1 L638.4 821.1 L639.7 821.1 L641.0 821.1 L642.3 821.1 L643.7 821.1 L645.0 821.1 L646.3 821.1 L647.6 821.1 L649.0 821.1 L650.3 821.1 L651.6 821.1 L652.9 821.1 L654.3 821.1 L655.6 821.1 L656.9 821.1 L658.2 821.0 L659.5 821.0 L660.9 821.0 L662.2 821.0 L663.5 821.0 L664.8 821.0 L666.2 820.9 L667.5 820.9 L668.8 820.9 L670.1 820.9 L671.5 820.9 L672.8 820.9 L674.1 820.8 L675.4 820.8 L676.8 820.8 L678.1 820.8 L679.4 820.8" stroke="#00ff00" stroke-width="1.60" fill="none" stroke-dasharray="4 1.5 1 1.5" stroke-linejoin="round" clip-path="url(#cf)"/>
<path d="M416.3 821.5 L416.6 780.0 L416.8 796.6 L416.9 821.5 L417.1 825.1" stroke="#0000ff" stroke-width="1.60" fill="none" stroke-linejoin="round" clip-path="url(#cf)"/>
<path d="M416.7 821.5 L416.8 792.8 L417.1 807.1 L417.3 821.5 L417.6 841.0 L417.9 841.0" stroke="#ff0000" stroke-width="1.50" fill="none" stroke-dasharray="1.4 1.1" stroke-linejoin="round" clip-path="url(#cf)"/>
<path d="M415.4 820.2 L415.5 775.7 L415.6 798.6 L415.6 872.1 L415.9 820.8" stroke="#00ff00" stroke-width="2.00" fill="none" stroke-linejoin="round" clip-path="url(#cf)"/>
<path d="M415.8 818.7 L417.3 820.2 L420.0 820.7 L425.3 820.8 L426.1 820.8 L426.9 820.8 L427.7 820.7 L428.5 820.8 L429.3 820.7 L430.1 821.0 L430.8 820.9 L431.6 820.7 L432.4 820.8 L433.2 820.7 L434.0 821.0 L434.8 820.8 L435.6 820.9 L436.4 820.8 L437.2 820.8 L438.0 821.0 L438.8 820.9 L439.6 820.9 L440.4 820.7 L441.2 820.8 L442.0 820.9 L442.8 820.7 L443.6 821.0 L444.3 820.8 L445.1 821.0 L445.9 821.0 L446.7 820.7 L447.5 820.9 L448.3 820.9 L449.1 820.7 L449.9 820.7 L450.7 820.9 L451.5 820.7 L452.3 820.8 L453.1 820.8 L453.9 820.9 L454.7 820.7 L455.5 820.8 L456.3 820.7 L457.1 820.7 L457.8 820.9 L458.6 820.9 L459.4 820.9 L460.2 820.9 L461.0 821.0 L461.8 820.9 L462.6 820.8 L463.4 821.0 L464.2 820.8 L465.0 820.9 L465.8 820.9 L466.6 820.7 L467.4 820.8 L468.2 821.1 L469.0 820.9 L469.8 820.6 L470.6 821.4 L471.3 820.3 L472.1 821.4 L472.9 820.5 L473.7 820.4 L474.5 821.4 L475.3 820.5 L476.1 821.0 L476.9 820.7 L477.7 821.4 L478.5 821.4 L479.3 821.2 L480.1 820.3 L480.9 821.2 L481.7 820.5 L482.5 820.3 L483.3 820.3 L484.1 821.0 L484.8 821.0 L485.6 820.8 L486.4 820.5 L487.2 821.3 L488.0 820.5 L488.8 820.5 L489.6 820.4 L490.4 821.4 L491.2 820.3 L492.0 821.3 L492.8 821.0 L493.6 820.7 L494.4 820.3 L495.2 821.0 L496.0 820.3 L496.8 820.8 L497.6 821.1 L498.3 821.1 L499.1 821.2 L499.9 821.4 L500.7 821.3 L501.5 820.6 L502.3 820.2 L503.1 821.3 L503.9 821.4 L504.7 820.2 L505.5 820.8 L506.3 821.0 L507.1 821.2 L507.9 820.7 L508.7 820.4 L509.5 820.9 L510.3 820.9 L511.1 821.4 L511.8 820.3 L512.6 821.4 L513.4 820.8 L514.2 820.4 L515.0 821.3 L515.8 820.6 L516.6 820.3 L517.4 820.7 L518.2 820.5 L519.0 821.3 L519.8 820.9 L520.6 821.3 L521.4 820.4 L522.2 821.1 L523.0 820.9 L523.8 820.2 L524.6 820.4 L525.3 820.3 L526.1 820.9 L526.9 820.9 L527.7 820.6 L528.5 820.9 L529.3 821.1 L530.1 821.0 L530.9 821.3 L531.7 821.0 L532.5 820.2 L533.3 820.3 L534.1 820.7 L534.9 820.8 L535.7 821.0 L536.5 821.3 L537.3 821.1 L538.1 820.5 L538.8 820.4 L539.6 821.0 L540.4 820.5 L541.2 820.5 L542.0 820.6 L542.8 820.6 L543.6 820.5 L544.4 821.0 L545.2 820.6 L546.0 821.1 L546.8 820.9 L547.6 820.5 L548.4 820.6 L549.2 821.1 L550.0 820.3 L550.8 820.7 L551.5 820.7 L552.3 821.4 L553.1 820.8 L553.9 821.1 L554.7 820.6 L555.5 820.9 L556.3 820.5 L557.1 820.7 L557.9 820.5 L558.7 821.0 L559.5 820.7 L560.3 820.6 L561.1 820.4 L561.9 821.0 L562.7 820.4 L563.5 820.4 L564.3 820.6 L565.0 820.3 L565.8 820.3 L566.6 820.8 L567.4 820.8 L568.2 821.2 L569.0 820.4 L569.8 820.3 L570.6 820.9 L571.4 820.6 L572.2 820.6 L573.0 820.6 L573.8 821.2 L574.6 820.5 L575.4 820.7 L576.2 820.6 L577.0 820.9 L577.8 820.7 L578.5 820.5 L579.3 820.7 L580.1 820.6 L580.9 821.4 L581.7 821.3 L582.5 820.9 L583.3 820.7 L584.1 821.2 L584.9 820.6 L585.7 820.7 L586.5 821.4 L587.3 820.9 L588.1 821.2 L588.9 821.4 L589.7 821.3 L590.5 821.1 L591.3 821.2 L592.0 821.2 L592.8 821.4 L593.6 820.9 L594.4 821.0 L595.2 820.7 L596.0 820.7 L596.8 821.2 L597.6 820.3 L598.4 821.4 L599.2 821.0 L600.0 821.1 L600.8 820.9 L601.6 821.3 L602.4 820.4 L603.2 821.0 L604.0 821.4 L604.8 820.7 L605.5 821.3 L606.3 820.8 L607.1 821.0 L607.9 820.7 L608.7 820.3 L609.5 820.5 L610.3 820.9 L611.1 820.5 L611.9 820.7 L612.7 821.0 L613.5 821.3 L614.3 820.7 L615.1 820.8 L615.9 820.3 L616.7 820.3 L617.5 820.7 L618.3 821.0 L619.0 820.4 L619.8 821.4 L620.6 821.3 L621.4 820.8 L622.2 820.7 L623.3 820.8 L623.5 815.4 L623.8 820.8 L625.4 821.0 L626.2 820.9 L627.0 821.2 L627.8 821.1 L628.6 820.3 L629.4 821.0 L630.2 820.3 L631.0 820.3 L631.8 820.7 L632.5 821.1 L633.3 820.3 L634.1 820.8 L634.9 820.9 L635.7 821.1 L636.5 820.2 L637.3 820.9 L638.1 821.1 L638.9 820.9 L639.7 821.3 L640.5 820.7 L641.3 820.9 L642.1 821.1 L642.9 820.5 L643.7 820.4 L644.5 821.4 L645.3 820.8 L646.0 821.1 L646.8 820.3 L647.6 820.5 L648.4 821.2 L649.2 821.1 L650.0 821.3 L650.8 820.2 L651.6 821.1 L652.4 820.7 L653.2 820.9 L654.0 820.7 L654.8 820.7 L655.6 820.5 L656.4 821.3 L657.2 820.5 L658.0 821.1 L658.8 820.8 L659.5 821.0 L660.3 821.1 L661.1 820.8 L661.9 820.9 L662.7 821.0 L663.5 820.5 L664.3 820.7 L665.1 821.4 L665.9 821.1 L666.7 820.9 L667.5 820.3 L668.3 820.4 L669.1 820.8 L669.9 821.4 L670.7 820.5 L671.5 820.9 L672.3 820.7 L673.0 820.6 L673.8 820.7 L674.6 820.9 L675.4 820.3 L676.2 821.0 L677.0 821.0 L677.8 820.4 L678.6 821.2 L679.4 821.1" stroke="#000000" stroke-width="1.50" fill="none" stroke-dasharray="4 3" stroke-linejoin="round" clip-path="url(#cf)"/>
<path d="M415.2 818.1 L416.0 818.7" stroke="#000000" stroke-width="2.00" fill="none" stroke-linejoin="round" clip-path="url(#cf)"/>
<path d="M414.70 943.40v-2.50M414.70 699.50v2.50M467.64 943.40v-2.50M467.64 699.50v2.50M520.58 943.40v-2.50M520.58 699.50v2.50M573.52 943.40v-2.50M573.52 699.50v2.50M626.46 943.40v-2.50M626.46 699.50v2.50M679.40 943.40v-2.50M679.40 699.50v2.50M414.70 943.40h2.50M679.40 943.40h-2.50M414.70 912.91h2.50M679.40 912.91h-2.50M414.70 882.42h2.50M679.40 882.42h-2.50M414.70 851.94h2.50M679.40 851.94h-2.50M414.70 821.45h2.50M679.40 821.45h-2.50M414.70 790.96h2.50M679.40 790.96h-2.50M414.70 760.48h2.50M679.40 760.48h-2.50M414.70 729.99h2.50M679.40 729.99h-2.50M414.70 699.50h2.50M679.40 699.50h-2.50" stroke="#404040" stroke-width="0.8" fill="none"/>
<rect x="414.70" y="699.50" width="264.70" height="243.90" fill="none" stroke="#404040" stroke-width="1.20"/>
<text x="414.70" y="955.80" font-size="9.20" text-anchor="middle" fill="#262626" font-family='"Liberation Serif", serif' font-weight="normal">0</text>
<text x="467.64" y="955.80" font-size="9.20" text-anchor="middle" fill="#262626" font-family='"Liberation Serif", serif' font-weight="normal">2</text>
<text x="520.58" y="955.80" font-size="9.20" text-anchor="middle" fill="#262626" font-family='"Liberation Serif", serif' font-weight="normal">4</text>
<text x="573.52" y="955.80" font-size="9.20" text-anchor="middle" fill="#262626" font-family='"Liberation Serif", serif' font-weight="normal">6</text>
<text x="626.46" y="955.80" font-size="9.20" text-anchor="middle" fill="#262626" font-family='"Liberation Serif", serif' font-weight="normal">8</text>
<text x="679.40" y="955.80" font-size="9.20" text-anchor="middle" fill="#262626" font-family='"Liberation Serif", serif' font-weight="normal">10</text>
<text x="410.70" y="947.08" font-size="9.20" text-anchor="end" fill="#262626" font-family='"Liberation Serif", serif' font-weight="normal">-20</text>
<text x="410.70" y="916.59" font-size="9.20" text-anchor="end" fill="#262626" font-family='"Liberation Serif", serif' font-weight="normal">-15</text>
<text x="410.70" y="886.10" font-size="9.20" text-anchor="end" fill="#262626" font-family='"Liberation Serif", serif' font-weight="normal">-10</text>
<text x="410.70" y="855.62" font-size="9.20" text-anchor="end" fill="#262626" font-family='"Liberation Serif", serif' font-weight="normal">-5</text>
<text x="410.70" y="825.13" font-size="9.20" text-anchor="end" fill="#262626" font-family='"Liberation Serif", serif' font-weight="normal">0</text>
<text x="410.70" y="794.64" font-size="9.20" text-anchor="end" fill="#262626" font-family='"Liberation Serif", serif' font-weight="normal">5</text>
<text x="410.70" y="764.15" font-size="9.20" text-anchor="end" fill="#262626" font-family='"Liberation Serif", serif' font-weight="normal">10</text>
<text x="410.70" y="733.67" font-size="9.20" text-anchor="end" fill="#262626" font-family='"Liberation Serif", serif' font-weight="normal">15</text>
<text x="410.70" y="703.18" font-size="9.20" text-anchor="end" fill="#262626" font-family='"Liberation Serif", serif' font-weight="normal">20</text>
<text x="546.70" y="967.70" font-size="9.50" text-anchor="middle" fill="#262626" font-family='"Liberation Serif", serif' font-weight="normal" textLength="28.60" lengthAdjust="spacingAndGlyphs">time(s)</text>
<text transform="translate(394.00,822.00) rotate(-90)" font-size="10.50" text-anchor="middle" fill="#262626" font-family='"Liberation Serif", serif' textLength="72.00" lengthAdjust="spacingAndGlyphs">Control effort (A)</text>
<rect x="517.00" y="705.40" width="156.30" height="61.10" fill="#fff" stroke="#404040" stroke-width="1.1"/>
<line x1="522.00" y1="714.50" x2="544.00" y2="714.50" stroke="#0000ff" stroke-width="1.60"/>
<text x="546.70" y="717.70" font-size="8.50" text-anchor="start" fill="#262626" font-family='"Liberation Serif", serif' font-weight="normal" textLength="120.40" lengthAdjust="spacingAndGlyphs">Sigmoid function  1/(1+exp(-a.x+b)</text>
<line x1="522.00" y1="729.50" x2="544.00" y2="729.50" stroke="#ff0000" stroke-width="1.00" stroke-dasharray="1 1"/>
<text x="546.70" y="732.10" font-size="8.50" text-anchor="start" fill="#262626" font-family='"Liberation Serif", serif' font-weight="normal" textLength="120.68" lengthAdjust="spacingAndGlyphs"> HTF(1-exp(-a.x+b)/1+exp(-a.x+b))</text>
<line x1="522.00" y1="743.50" x2="544.00" y2="743.50" stroke="#00ff00" stroke-width="1.20" stroke-dasharray="4.5 1.2 2.2 1.2"/>
<text x="546.70" y="746.70" font-size="8.50" text-anchor="start" fill="#262626" font-family='"Liberation Serif", serif' font-weight="normal" textLength="61.13" lengthAdjust="spacingAndGlyphs">Cosine cos(a.x+b)</text>
<line x1="522.00" y1="758.50" x2="544.00" y2="758.50" stroke="#000000" stroke-width="1.80" stroke-dasharray="4.40"/>
<text x="546.70" y="761.10" font-size="8.50" text-anchor="start" fill="#262626" font-family='"Liberation Serif", serif' font-weight="normal" textLength="106.58" lengthAdjust="spacingAndGlyphs">Hard limit Function  cos(a.x+b)</text>
<text x="547.60" y="988.50" font-size="16.10" text-anchor="middle" fill="#000" font-family='"Liberation Sans", sans-serif' font-weight="bold" textLength="16.60" lengthAdjust="spacingAndGlyphs">(f)</text>
</svg></body></html>
